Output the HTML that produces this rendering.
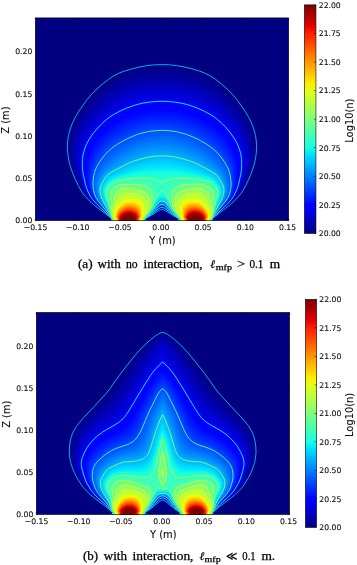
<!DOCTYPE html><html><head><meta charset="utf-8"><title>Plume density</title><style>html,body{margin:0;padding:0;background:#fff}svg{display:block}.tk{font:7.7px "DejaVu Sans","Liberation Sans",sans-serif;fill:#111;stroke:#111;stroke-width:.12px}.lb{font:9.9px "DejaVu Sans","Liberation Sans",sans-serif;fill:#111;stroke:#111;stroke-width:.12px}.cp{font:12.2px "Liberation Serif","DejaVu Serif",serif;fill:#000;stroke:#000;stroke-width:.25px}.el{font-style:italic;font-family:"DejaVu Serif","Liberation Serif",serif;font-size:11.5px}.sb{font-size:8.6px}</style></head><body><svg width="357" height="565" viewBox="0 0 357 565"><rect width="357" height="565" fill="#fff"/>
<g shape-rendering="geometricPrecision">
<rect x="35.3" y="17.9" width="253.4" height="202.7" fill="#000080"/>
<path fill="#00008d" d="M111.6 220.6l33.6 0 0-2 0.3-0.2 5.1-2.8 8.4-5.3 1.5-0.7 1.5-0.2 1.5 0.2 1.5 0.7 8.4 5.3 5.1 2.8 0.3 0.2 0 2 33.6 0 0-2 0.2-0.2 18.1-14.3 4.2-4 4.5-5 1.8-2.5 1.8-3 3.8-7.5 3.6-8.5 2.6-8.1 1.5-7 0.7-6.5 0-7-0.7-6.5-1.4-6-2.6-7-2.9-6-3.5-5.8-6.5-9.2-5-6.2-5.5-5.7-6.5-5.7-7.5-5.6-3.5-2.1-3.5-2-3-1.3-3.5-1.4-9.1-2.6-10-2.3-9.5-1.2-10-0.4-5 0.2-5 0.4-9 1.3-9.5 2.2-9.1 2.8-3.5 1.4-3 1.5-7 4.2-7.5 5.7-7 6.4-3.3 3.4-3 3.5-7.2 9.7-4.4 6.8-3.6 7-2.8 7.5-1 3.5-0.6 3-0.8 7 0.2 7.5 1 7.5 2 8 2.9 8.1 4.8 10.5 2 3.5 1.9 3 4.6 5.5 4.6 4.5 3.6 3 9.6 7.3 5.5 4.5 0.2 0.2 0 2z"/>
<path fill="#000096" d="M111.6 220.6l33.6 0 0-2 0.3-0.2 5.9-3.3 7.1-4.7 2-0.9 1.5-0.3 1.5 0.3 2 0.9 7.1 4.7 5.9 3.3 0.3 0.2 0 2 33.6 0 0-2 0.2-0.2 16.7-13.3 3.3-3 3.4-3.5 4-5 3-5 4.6-10 3.2-8.5 1.9-7.1 1-6.5 0.4-6.5-0.4-7-1-6-1.7-5.5-2.7-6.5-3.2-6-4.5-6.7-6.3-8.3-4.7-5.3-5.5-5.3-7-5.7-7-4.7-6.5-3.5-7-2.6-11.1-3-10-1.8-5-0.5-5-0.3-10 0.2-9 0.9-9 1.7-10.1 2.8-4 1.4-3.5 1.4-3.5 1.8-3.5 2.1-7.5 5.2-7.5 6.4-6 6.2-6 7.5-6.1 8.6-3.9 7-2.9 7-1.9 6.5-0.6 3.5-0.4 3.5-0.1 7.5 0.8 7.5 1.7 7.5 2.8 8.6 4.7 10.5 1.8 3.5 1.8 3 4.4 5.5 4.4 4.5 3.5 3 10 7.7 5.7 4.8 0 2z"/>
<path fill="#00009f" d="M111.7 220.6l33.5 0 0-2 0.3-0.2 5.8-3.3 7.7-5.1 1.5-0.7 1.5-0.3 1.5 0.3 1.5 0.7 7.7 5.1 5.8 3.3 0.3 0.2 0 2 33.5 0 0-2 0.3-0.2 5.5-4.6 10.3-8.2 3.4-3 2.5-2.5 4.5-5.5 2.9-4.5 3.8-8 3.5-9 2-7.1 1.3-6.5 0.5-6.5-0.2-7-0.8-6-1.5-5.5-2.4-6-3-6-3.8-6-5.5-7.4-5-5.9-5-5.1-7-5.9-7-4.9-7-4-7-2.9-9.6-2.8-10-1.9-9.5-1.1-10-0.1-9 0.7-9.5 1.5-10.1 2.6-4 1.3-4 1.6-7 3.5-7.5 5-7 5.6-6.5 6.3-6 7.1-6 8.3-4 6.8-3.3 7.2-2 6.5-0.7 3.5-0.5 3.5-0.2 7.5 0.7 7.5 1.6 7.5 2.6 8.1 4.4 10.5 1.8 3.5 1.8 3 4.3 5.5 4.3 4.5 3.5 3 9.7 7.7 5.8 4.8 0 2z"/>
<path fill="#0000a8" d="M111.7 220.6l33.4 0 0-2 0.4-0.3 5.6-3.2 7.9-5.2 1.5-0.7 1.5-0.4 1.5 0.4 1.5 0.7 7.9 5.2 5.6 3.2 0.4 0.3 0 2 33.4 0 0-2 0.3-0.3 6-5.1 9.5-7.6 4.9-4.5 5-6 2.9-4.5 2.9-6 3.7-9.5 2.2-7.1 1.3-6.5 0.6-6.5-0.1-6.5-0.7-6-1.4-5.5-2-5.5-2.9-6-3.4-5.5-4.5-6.3-5.5-6.6-5-5.2-6.5-5.7-7.5-5.4-7-4-7-3.1-4.6-1.5-4.5-1.2-10-2.1-9.5-1.1-9.5-0.3-9.5 0.6-9.5 1.5-9.5 2.3-8.1 2.8-7 3.4-7.5 4.7-7 5.4-6.5 6.2-6 6.8-6 8-4.1 6.8-3.3 7-2.1 6.5-0.8 3.5-0.4 3.5-0.3 7.5 0.5 7 1.6 7.5 2.3 7.6 4.5 11 1.5 3 1.8 3 4.2 5.5 4.2 4.5 3.5 3 9.4 7.6 5.8 4.9 0 2z"/>
<path fill="#0000b2" d="M111.7 220.6l33.4 0 0-2 0.4-0.3 5.5-3.2 8-5.4 1.5-0.7 1.5-0.3 1.5 0.3 1.5 0.7 8 5.4 5.5 3.2 0.4 0.3 0 2 33.4 0 0-2 0.3-0.3 5-4.3 10.3-8.4 3.3-3 4.1-4.5 4-5.5 2.6-5 2.9-7 2.8-8 1.7-7.1 1-7 0.2-6.5-0.6-6-1.1-5.5-1.7-5.2-2.5-5.6-3.1-5.7-3.9-5.7-5-6.3-5-5.5-6.5-6-7-5.2-7.5-4.6-7.5-3.5-4-1.5-4.6-1.4-9-2-9-1.3-9.5-0.5-9.5 0.3-9.5 1.2-9.5 2.1-8.6 2.7-7.5 3.4-7.5 4.4-7 5.1-6.5 5.8-6 6.5-6 7.7-4.3 6.8-3.5 7-2.3 6.5-1.3 6.5-0.3 3.5-0.2 4 0.5 7 1.2 7 2.2 7.6 4.2 11 1.4 3 1.7 3 4 5.5 4.1 4.5 3.3 3 10.3 8.4 5.3 4.6 0 2z"/>
<path fill="#0000bb" d="M111.8 220.6l33.2 0 0-2 0.5-0.3 5.4-3.2 8.1-5.5 1.5-0.8 1.5-0.3 1.5 0.3 1.5 0.8 8.1 5.5 5.4 3.2 0.5 0.3 0 2 33.2 0 0-2 5.4-4.7 10-8.3 3.3-3 3.6-4 4-5.5 1.4-2.5 1.5-3 3.7-10 2.2-7 1.4-7.1 0.6-7-0.2-6.5-1.1-6.5-1.9-6.5-3-6.5-3.8-6.5-4.8-6.5-5.9-6.8-6-5.9-7-5.5-7.5-4.7-7.5-3.8-8.1-2.9-8.5-2.2-9-1.6-9.5-0.7-9.5 0.1-9.5 1-9.5 1.8-8.6 2.6-7.5 3.1-7.5 4-7.5 5.2-6.5 5.5-6 6.1-6 7.4-4.6 6.8-3.6 7-2.5 6.5-1.4 6.5-0.6 7 0.3 7 1.1 7 2.1 7.6 4 11 1.4 3 1.6 3 3.9 5.5 4 4.5 3.3 3 10 8.3 5.4 4.7 0 2z"/>
<path fill="#0000c4" d="M111.8 220.6l33.2 0 0-2 5.8-3.5 8.2-5.7 1.5-0.8 1.5-0.3 1.5 0.3 1.5 0.8 8.2 5.7 5.8 3.5 0 2 33.2 0 0-2 17.8-15.5 3.8-4 3.9-5.5 2.5-4.5 2.1-5.5 3.3-10 1.8-7.6 0.7-7-0.1-6.5-0.9-6.5-1.6-6-2.5-6-3.4-6.1-4.4-6.4-5.1-6.2-6-6.1-6.5-5.5-7.5-5-7.5-4.1-7.5-3-8.6-2.5-9-1.8-9.5-1-9.5-0.1-9.5 0.8-9.5 1.6-8.5 2.3-8.1 3.1-7.5 3.8-7.5 4.8-6.5 5.2-6 5.9-6 7.1-4.8 6.7-3.8 7-2.6 6.5-1.6 6.5-0.7 7 0.2 7 1 7 1.9 7.1 3.8 11 1.3 3 1.6 3 3.8 5.5 3.9 4.5 3.3 3 9.7 8.2 5.4 4.8 0 2z"/>
<path fill="#0000cd" d="M111.8 220.6l33.2 0 0-2 5.7-3.5 8.3-5.9 1.5-0.7 1.5-0.4 1.5 0.4 1.5 0.7 8.3 5.9 5.7 3.5 0 2 33.2 0 0-2 17.5-15.5 3.7-4 2.8-4 2.7-4.5 1.9-4.5 3.5-10.5 1.7-7.1 0.9-6.5 0.1-6.5-0.7-6.5-1.4-6-2.3-5.9-3-5.8-3.8-5.8-4.7-6-6-6.5-6-5.3-7-5-8-4.5-8-3.4-8.1-2.6-8.5-1.8-9-1.2-9.5-0.3-9.5 0.5-9 1.3-9 2.2-8.1 2.8-8 3.8-7.5 4.6-3.5 2.5-3.5 2.8-6 5.6-6 6.9-5 7-3.8 6.6-2.5 6-1.7 6.6-0.9 6.9 0.1 7 1 7 1.8 7.1 3.6 11 1.3 3 1.4 2.5 3.6 5.5 4 4.5 3.1 3 9.5 8.1 5.4 4.9 0 2z"/>
<path fill="#0000d6" d="M111.9 220.6l33 0 0.1-2 6.3-4 7.7-5.5 1.5-0.8 1.5-0.4 1.5 0.4 1.5 0.8 7.7 5.5 6.3 4 0.1 2 33 0 0-2 16.8-15 3.3-3.5 2.6-3.5 3.1-5 2-4.5 3.1-10 1.7-6.5 1-6.6 0.2-6-0.5-6-1.2-6-1.8-5.5-2.6-5.5-3.4-5.5-4.3-5.8-6-6.8-6-5.6-6.5-4.8-7.5-4.5-8-3.7-8.1-2.8-8.5-2.1-9-1.3-9-0.5-9.5 0.3-9 1.1-9 1.9-8.6 2.8-8 3.6-7.5 4.2-7 5-6 5.4-6 6.6-5 6.6-2.2 3.4-2 3.5-1.4 3-1.4 3.5-1.7 6-1 6.5-0.1 3.5 0.1 3.5 0.7 6.5 1.6 7.1 3.4 11 1.2 3 1.6 3 3.5 5.5 3.4 4 3.1 3 10.2 8.9 5 4.6 0 2z"/>
<path fill="#0000df" d="M111.9 220.6l33 0 0.1-2.1 6.2-3.9 7.8-5.7 1.5-0.8 1.5-0.3 1.5 0.3 1.5 0.8 7.8 5.7 6.2 3.9 0.1 2.1 33 0 0-2 16.5-15 3.3-3.5 2.2-3 3.3-5.5 1.8-4 2.8-9.5 1.4-5.5 1-6.1 0.4-6.5-0.3-5.5-1.1-6-1.7-5.5-2.2-5-3.2-5.5-3.7-5.2-5.5-6.5-6-5.9-6-4.7-7-4.3-8-4-8.1-3.1-8.5-2.3-9-1.6-9-0.7-9.5 0.2-9 0.9-9 1.8-8.6 2.6-8 3.3-8 4.3-7 4.8-6 5.2-6 6.4-5.3 6.8-4 6.5-2.8 6-1 3-0.9 3.4-1 6.6-0.2 6.5 0.7 6.5 1.5 7.1 3.3 11 1.2 3 1.3 2.5 3.4 5.5 3.3 4 3.1 3 9.9 8.8 5 4.7 0 2z"/>
<path fill="#0000e8" d="M111.9 220.6l32.9 0 0-2 0.2-0.1 6.1-3.9 7.9-5.8 1.5-0.9 1.5-0.3 1.5 0.3 1.5 0.9 7.9 5.8 6.1 3.9 0.2 0.1 0 2 32.9 0 0-2 16.2-15 2.8-3 2.3-3 3.4-6 1.6-3.5 1.1-3.5 2.6-10 1.1-6.1 0.5-6-0.2-5.5-0.9-5.8-1.4-5.2-2.1-5-3-5.5-3.5-5.1-5.5-6.7-6.2-6.2-5.7-4.5-6.6-4.2-8-4-8.1-3.2-8.5-2.4-9-1.6-9-0.8-9.5 0.1-9 0.9-8.5 1.6-8.5 2.6-8.1 3.2-8 4.2-7 4.6-6 5.1-6 6.3-5.2 6.6-4.1 6.5-2.8 6-1.8 6-1 6.5-0.2 6.5 0.7 6.6 1.5 7 2.7 10 1.2 3 1.6 3 2.9 5 3.3 4 3 3 9.2 8.2 5.5 5.3 0 2z"/>
<path fill="#0000f1" d="M112 220.6l32.8 0 0-2 0.2-0.1 6-3.9 8-6 1.5-0.9 1.5-0.3 1.5 0.3 1.5 0.9 8 6 6 3.9 0.2 0.1 0 2 32.8 0 0-2 16-15 2.8-3 2.3-3 3.2-6 1.6-3.5 0.9-3 2-8 1.2-6 0.5-5.6 0-6-0.7-5.5-1.3-5.5-1.9-4.9-2.6-5.1-3.4-5.1-5.5-6.8-6-6.1-5.5-4.6-6-3.9-8-4.2-8.6-3.4-8.5-2.5-8.5-1.6-9-0.9-9 0-9 0.7-8.5 1.6-8.5 2.3-8.1 3.2-8 4-4 2.3-3.5 2.4-6 5-6 6.2-5 6.3-4 6.3-2.8 5.8-1.9 6-1.1 6.5-0.2 6.5 0.3 4 0.6 4.1 2.9 12.5 1.5 4.5 3.1 6 2.2 3.5 3.5 4 16.5 15.5 0 2z"/>
<path fill="#0000fa" d="M112 220.6l32.8 0 0-2 0.2-0.2 5.9-3.8 8.1-6.2 1.5-0.9 1.5-0.3 1.5 0.3 1.5 0.9 8.1 6.2 5.9 3.8 0.2 0.2 0 2 32.8 0 0-2 15.2-14.5 4.5-5 1.9-3 2.7-5.5 1.2-3 0.8-3 2.1-9.5 0.9-5.6 0.2-6-0.3-5.5-1.2-6-1.8-5.5-2.6-5.2-3.5-5.6-4.9-6.2-5.6-5.8-6-5.1-5.5-3.7-8-4.2-8.6-3.6-8.5-2.6-8.5-1.7-9-0.9-9-0.1-8.5 0.7-8.5 1.4-8.5 2.4-8.1 3-8 3.9-7 4.3-6 4.8-6 6-5.1 6.2-2.4 3.4-1.9 3.1-2.7 5.5-1.1 3-0.9 3.5-1.1 6-0.2 6.5 0.2 4 0.5 3.6 2.7 12.5 1.6 4.5 2.9 6 2.3 3.5 3.1 3.5 16.2 15.5 0 2z"/>
<path fill="#0000ff" d="M112 220.6l32.7 0 0-2 0.3-0.2 5.8-3.8 8.2-6.4 1.5-0.9 1.5-0.3 1.5 0.3 1.5 0.9 8.2 6.4 5.8 3.8 0.3 0.2 0 2 32.7 0 0-2 14.9-14.5 4.4-5 1.9-3 2.4-5 1.2-3 0.7-2.5 1.9-9.5 0.8-5.5 0.3-5.6-0.4-5.5-1-5.5-1.8-5.5-2.3-5-3.1-5-4.8-6.2-5.5-5.8-6-5.2-5.5-3.8-8-4.3-8-3.4-8.6-2.6-8.5-1.8-8.5-1-9-0.2-8.5 0.6-8.5 1.4-8.5 2.3-8.1 2.9-8 3.8-7 4.2-6 4.8-6 5.8-5 6-4 6-2.8 5.5-2 6-1.2 6-0.4 6.5 0.2 3.5 0.4 4.1 2.4 12 1.3 4 3 6.5 2.3 3.5 3 3.5 15.9 15.5 0 2z"/>
<path fill="#0000ff" d="M112.1 220.6l32.6 0 0-2 0.3-0.2 6.3-4.3 7.7-6 1.5-1 1.5-0.3 1.5 0.3 1.5 1 7.7 6 6.3 4.3 0.3 0.2 0 2 32.6 0 0-2 15.2-15 2.3-2.5 1.9-2.5 1.5-2.5 2.5-5.5 1.7-5 1.6-9 0.7-5.5 0.1-5.1-0.4-5.5-1-5-1.7-5.5-2.2-4.6-2.9-4.9-4.6-6-5.5-5.8-6-5.1-5.5-3.8-7.5-4.1-8.6-3.6-8-2.5-8.5-1.8-8.5-1-8.5-0.2-8.5 0.6-8.5 1.3-8 2.1-8.1 2.9-8 3.7-7 4.2-6 4.6-5.5 5.2-5 5.8-4.2 6-2.8 5.5-2.2 6-1.2 6-0.4 6.5 0.1 3.6 0.3 3.5 2 11.5 1.3 4 2.9 6.5 2.2 3.5 3 3.5 15.7 15.5 0 2z"/>
<path fill="#0004ff" d="M112.1 220.6l32.5 0 0-2 0.4-0.3 6.2-4.2 7.8-6.2 1.5-1 1.5-0.3 1.5 0.3 1.5 1 7.8 6.2 6.2 4.2 0.4 0.3 0 2 32.5 0 0-2 14.9-15 4.1-5 2-3.5 2.3-5.5 1.1-3.5 1.3-8 0.7-5.5 0.1-5.1-0.4-5-0.9-5-1.5-5-2.2-5-2.8-4.8-4.3-5.7-5.2-5.5-6-5.3-6-4.2-7.5-4-8.1-3.4-8-2.6-8-1.7-8.5-1.1-8.5-0.2-8.5 0.5-8 1.2-8 2-8.1 2.9-7.5 3.4-7 4-6 4.4-5.6 5.1-4.9 5.5-4.3 6-3 5.5-2.2 6.1-1.3 5.9-0.5 6.5 0.3 6.6 1.6 10.5 1.3 4.5 2.8 6.5 1.8 3 2.9 3.5 15.8 16 0 2z"/>
<path fill="#000cff" d="M112.1 220.6l32.5 0 0-2 0.4-0.3 6.1-4.2 8.4-6.8 1.5-0.8 1-0.1 1 0.1 1.5 0.8 8.4 6.8 6.1 4.2 0.4 0.3 0 2 32.5 0 0-2 14.6-15 4.1-5 1.9-3.5 2.2-5.5 0.9-3 0.7-4 1-9 0.1-5.1-0.3-4.5-1-5-1.5-4.9-2-4.6-2.5-4.4-4.1-5.6-5.4-5.8-6-5.2-6-4.2-7-3.8-8.1-3.5-8-2.6-8-1.8-8-1-8.5-0.3-8 0.5-8 1.1-8 2-8.1 2.7-7.5 3.4-7 3.9-6 4.4-5.5 4.9-5 5.4-4 5.5-3 5.5-2.3 5.9-1.4 6-0.6 6.5 0.2 6.6 1.3 9.5 1 4 2.8 7 1.9 3 2.8 3.5 15.5 16 0 2z"/>
<path fill="#0014ff" d="M112.2 220.6l32.4 0 0-2 0.4-0.3 6-4.2 8.5-7 1.5-0.8 1-0.2 1 0.2 1.5 0.8 8.5 7 6 4.2 0.4 0.3 0 2 32.4 0 0-2 14.4-15 4-5 1.9-3.5 2.1-5.5 0.9-3 0.7-4.5 0.7-8 0-4.6-0.5-4.5-0.9-4.6-1.5-4.7-2-4.6-2.3-4.1-4.2-5.8-5-5.3-6-5.2-6-4.1-7-3.9-8.1-3.4-7.5-2.5-8-1.8-8-1.1-8-0.3-8 0.4-8 1.2-8 1.9-7.6 2.5-7.5 3.4-7 3.9-6 4.2-5.5 4.8-5 5.3-3.9 5.3-3.1 5.6-2.3 5.9-1.5 6-0.6 6.1 0.2 6.5 0.9 8.5 1 4 2.7 7 1.8 3 2.8 3.5 15.3 16 0 2z"/>
<path fill="#001cff" d="M112.2 220.6l32.3 0 0-2 7-5 8-6.7 1.5-0.8 1-0.2 1 0.2 1.5 0.8 8 6.7 7 5 0 2 32.3 0 0-2 14.1-15 3.9-5 2-3.5 2.6-8 0.7-4 0.5-7 0-5-0.5-4.6-0.9-4.5-1.4-4.5-2-4.5-2.2-3.9-4-5.7-5-5.4-5.5-4.7-6.5-4.5-7-3.9-7.6-3.3-7.5-2.5-8-1.8-8-1.1-8-0.3-8 0.4-7.5 1.1-7.5 1.7-7.5 2.5-7.6 3.3-7 3.9-6 4.1-5.5 4.7-4.5 4.6-4 5.3-3.2 5.5-2.5 6-1.6 6-0.7 6.1 0.1 6.5 0.7 7.5 1.1 4.5 2.4 6.5 1.8 3 2.8 3.5 14.9 16 0 2z"/>
<path fill="#0024ff" d="M112.2 220.6l32.3 0 0-2 6.9-5 8.1-6.9 1.5-0.8 1-0.2 1 0.2 1.5 0.8 8.1 6.9 6.9 5 0 2 32.3 0 0-2 13.7-15 4-5 1.9-3.5 2.5-8 0.6-4 0.3-5.5-0.1-5-0.4-4.6-0.9-4-1.3-4.2-1.8-4.3-2.2-4.1-4-5.8-4.5-4.9-5.5-4.8-6-4.3-7-4-7.6-3.4-7.5-2.6-8-1.9-7.5-1.1-8-0.4-7.5 0.2-8 1.1-7.5 1.7-7.5 2.4-7.1 3-7 3.8-6 4-5.5 4.4-4.7 4.7-3.9 5-3.4 5.6-2.6 5.9-1.7 6-0.8 6.1-0.1 6.5 0.5 6.5 1.1 4.5 2.3 6.5 1.8 3 2.7 3.5 14.6 16 0 2z"/>
<path fill="#002cff" d="M112.3 220.6l32.1 0 0.1-2 6.8-5 8.2-7.1 1.5-0.8 1-0.2 1 0.2 1.5 0.8 8.2 7.1 6.8 5 0.1 2 32.1 0 0-2 13.5-15 3.9-5 1.9-3.5 2.1-7 0.7-4 0.2-4-0.1-6-0.4-4.6-0.9-3.9-1.1-3.6-1.6-4-2.1-4-3.7-5.5-4.3-5-5.2-4.7-6-4.4-7-4.1-7.5-3.5-7.6-2.7-8-2.1-7.5-1.1-8-0.5-7.5 0.2-7.5 1-7.5 1.6-7 2.2-7.1 2.9-7 3.7-6.5 4.2-5.5 4.3-4.5 4.4-3.8 4.6-3.4 5.5-2.8 6-1.9 6-0.9 6.1-0.1 6.5 0.3 5.5 1 4.5 1.9 6 1.7 3 2.6 3.5 14.8 16.5 0 2z"/>
<path fill="#0034ff" d="M112.3 220.6l32.1 0 0.1-2.1 7.2-5.4 7.8-6.8 1.5-0.9 1-0.2 1 0.2 1.5 0.9 7.8 6.8 7.2 5.4 0.1 2.1 32.1 0 0-2 13.6-15.5 3.4-4.5 1.9-3.5 1.8-6 0.7-3.5 0.3-3.5-0.1-5.5-0.5-5-0.7-3.6-1.2-4-1.5-3.5-1.8-3.6-3.5-5.5-4-5-4.6-4.4-5.9-4.4-7-4.3-7.5-3.7-7.6-2.9-7.5-2.1-7.5-1.3-7.5-0.7-7.5 0.1-7.5 0.8-7.5 1.5-7 2-7.1 2.8-7 3.5-6.5 4-5.5 4-4.5 4.1-4 4.6-4 6-3 6-1.9 5.5-1 6.1-0.4 6 0.2 5 0.8 4.5 2 6.5 1.7 3 2.5 3.5 14.5 16.5 0 2z"/>
<path fill="#003cff" d="M112.3 220.6l32.1 0 0.1-2.1 7.1-5.4 7.9-7.1 1.5-0.8 1-0.2 1 0.2 1.5 0.8 7.9 7.1 7.1 5.4 0.1 2.1 32.1 0 0-2 14.9-17.5 2.9-4.5 0.7-1.5 0.7-2 1.2-5 0.5-3.5 0.1-3.5-0.3-5-0.5-4-0.9-4.1-1.4-3.8-1.7-3.7-3.3-5.5-4.1-5.5-4.4-4.4-5-4-7-4.5-7.5-4-7.6-3.1-7.5-2.3-7.5-1.5-7.5-0.8-7-0.1-7.5 0.6-7 1.2-7 1.9-7 2.6-7.1 3.3-6.5 3.7-6 4.1-4.5 3.8-4.2 4.5-4.3 6.1-3.3 5.9-2.1 5.5-0.7 3.1-0.5 3-0.5 6 0.1 4.5 0.8 5 1.1 4 0.7 2 1.7 3 2.5 3.5 14.1 16.5 0 2z"/>
<path fill="#0044ff" d="M112.4 220.6l31.9 0 0-2 0.2-0.2 7.6-5.8 7.4-6.8 1.5-0.8 1-0.2 1 0.2 1.5 0.8 7.4 6.8 7.6 5.8 0.2 0.2 0 2 31.9 0 0-2 14.3-17 2.7-4 1.6-3.5 1.1-4.5 0.6-3.5 0.2-3-0.1-3-0.4-4.5-0.8-4-1.2-4.1-1.5-3.5-3.5-6.1-4-5.5-4-4.4-4.5-3.8-6.5-4.3-7.5-4.2-7.6-3.4-7.5-2.5-7-1.6-7.5-1-7-0.3-7 0.4-7.5 1.1-7 1.7-6.5 2.2-7.1 3.2-7 3.8-6 3.8-5 4-3.8 3.9-4.6 6-3.6 6-2.4 5.5-1.3 5.6-0.7 5.5-0.1 4.5 0.7 5 1.6 6 1.8 3.5 2.5 3.5 13.9 16.5 0 2z"/>
<path fill="#004cff" d="M112.4 220.6l31.9 0 0-2 0.2-0.2 7.4-5.8 7.6-7 1.5-0.9 1-0.2 1 0.2 1.5 0.9 7.6 7 7.4 5.8 0.2 0.2 0 2 31.9 0 0-2 13.9-17 2.7-4 1.5-3.5 1.5-7 0.3-3-0.1-2.5-0.5-4.5-0.7-4-1.1-3.7-1.4-3.4-3.1-5.4-4-5.5-4.5-5-4-3.5-6.5-4.4-7.5-4.2-7.6-3.4-7-2.4-7-1.7-7-1-7-0.4-6.5 0.3-7.5 0.9-6.5 1.4-6.5 2.1-7.1 3-6.5 3.4-6.5 3.9-5 3.7-4 3.8-5 6.1-4 6.2-2.4 5.1-1.5 5.6-0.8 5.5-0.2 4.5 0.7 5 1.4 5.5 1.8 3.5 2.5 3.5 13.5 16.5 0 2z"/>
<path fill="#0054ff" d="M112.5 220.6l31.7 0 0-2 0.3-0.2 7.9-6.3 7.1-6.8 1.5-0.8 1-0.2 1 0.2 1.5 0.8 7.1 6.8 7.9 6.3 0.3 0.2 0 2 31.7 0 0-2 13.7-17 2.5-4 1.6-3.5 1.3-6.5 0.2-5-0.4-4-0.8-4-0.8-3-1.2-3.1-2.5-4.6-4-5.6-4.6-5.3-4.4-4-6-4.2-7.5-4.2-7.1-3.3-7-2.6-6.5-1.7-6.5-1.1-7.5-0.7-6 0.1-7.5 0.8-6.5 1.3-6.5 1.9-7 2.9-6.6 3.2-7 4.1-5 3.5-4 3.6-5 5.7-4.4 6.2-2.6 5.3-1.6 5.3-1 5.5-0.2 4 0.7 5.5 0.6 3 0.6 2 1.8 3.5 2.4 3.5 13.3 16.5 0 2z"/>
<path fill="#005cff" d="M112.5 220.6l31.7 0 0-2 0.3-0.3 7.7-6.2 7.3-7 1.5-0.9 1-0.1 1 0.1 1.5 0.9 7.3 7 7.7 6.2 0.3 0.3 0 2 31.7 0 0-2 13.3-17 2.5-4 1.6-3.5 1.1-6 0.2-5-0.3-3-0.8-4-0.9-3-1.1-3-2.5-4.6-4-5.4-5-5.5-4.5-4-6-4.1-7-3.9-7.1-3.3-7-2.6-6.5-1.7-6.5-1.1-7-0.5-6 0.1-7 0.7-6.5 1.2-6.5 1.9-6.5 2.6-7.1 3.4-6.5 3.8-5.5 3.9-4 3.6-5 5.5-2.5 3.2-1.8 2.7-2.6 5.1-1.6 5.1-0.9 4.9-0.2 4 0.5 5.5 1.2 4.5 1.7 3.5 2.4 3.5 12.9 16.5 0 2z"/>
<path fill="#0064ff" d="M112.5 220.6l31.6 0 0-2 0.4-0.3 7.6-6.2 7.4-7.3 1.5-0.8 1-0.2 1 0.2 1.5 0.8 7.4 7.3 7.6 6.2 0.4 0.3 0 2 31.6 0 0-2 13-17 2.4-4 1.5-3.5 0.6-2.5 0.4-3 0.2-5-1-5.9-0.9-3.1-0.9-2.5-2.4-4.6-3.3-4.5-5.5-6-5-4.4-5.5-3.8-7-4-7.1-3.3-6.5-2.5-6-1.7-6.5-1.1-6.5-0.7-6.5 0-7 0.7-6.5 1.1-6 1.7-6.5 2.5-7.1 3.3-6.5 3.6-5.5 3.8-4.5 3.9-5.5 5.7-4 5.2-2.5 4.6-1 2.6-0.8 2.9-1 5-0.2 3.5 0.5 5.5 1 4 1.7 3.5 2.3 3.5 12.6 16.5 0 2z"/>
<path fill="#006cff" d="M112.6 220.6l31.5 0 0-2 8.4-7 6.5-6.6 1.5-1.1 1.5-0.3 1.5 0.3 1.5 1.1 6.5 6.6 8.4 7 0 2 31.5 0 0-2 12.7-17 2.4-4 1.5-3.5 0.9-5 0.1-5-0.9-5-1.7-5.5-2.4-4.6-3.4-4.5-5-5.2-5.5-4.8-5.5-3.9-6.5-3.7-7.1-3.3-6.5-2.5-6-1.7-6.5-1.2-6.5-0.6-6.5 0-6.5 0.6-6.5 1.1-6 1.7-6.5 2.4-7.1 3.2-6.5 3.7-5.5 3.8-5 4.2-5.5 5.6-3.5 4.5-2.5 4.6-1.7 5.1-1 4.5-0.2 3.5 0.4 5 1 4 1.4 3 2.1 3.5 12.7 17 0 2z"/>
<path fill="#0074ff" d="M112.6 220.6l31.5 0 0-2 8.2-7 6.7-6.9 1.5-1 1.5-0.4 1.5 0.4 1.5 1 6.7 6.9 8.2 7 0 2 31.5 0 0-2 12.3-17 2.1-3.5 1.6-3.5 0.5-2 0.4-2.5 0.1-5-0.7-4.5-1.8-5.5-2.2-4.5-3.1-4.2-5-5-6-5.1-5.5-3.8-6.5-3.8-6.6-3-6.5-2.5-6-1.7-6.5-1.2-6.5-0.6-6-0.1-6.5 0.6-6 1-6 1.5-6.5 2.4-7.1 3.1-6.5 3.7-6 4.1-5.5 4.5-5 4.8-3.4 4.2-2.3 4.1-1.8 5-1 4-0.4 4 0.4 4.5 0.9 4 1.4 3 2.1 3.5 12.3 17 0 2z"/>
<path fill="#007cff" d="M112.7 220.6l31.3 0 0-2 8.2-7 6.8-7.2 1.5-1 1.5-0.3 1.5 0.3 1.5 1 6.8 7.2 8.2 7 0 2 31.3 0 0-2 12.1-17 2-3.5 1.5-3.5 0.5-2 0.4-2.5 0-4.5-0.7-4-1.5-5-2.2-4.5-2.8-3.8-4.5-4.5-6.5-5.3-6-4.2-6-3.5-6.6-3.1-6.5-2.4-6-1.7-6-1.2-6.5-0.7-6-0.1-6.5 0.5-6 1-6 1.5-6 2.1-7.1 3.1-7 3.9-6 4-6.5 5.2-4.5 4.3-3 3.6-2.1 3.8-1.9 5-1 4-0.3 4 0.4 4.5 1 3.5 1.3 3 2.1 3.5 11.8 16.5 0 2z"/>
<path fill="#0084ff" d="M112.7 220.6l31.3 0 0-2 5.3-4.5 3.2-3 6.5-7 1.5-1 1.5-0.3 1.5 0.3 1.5 1 6.5 7 3.2 3 5.3 4.5 0 2 31.3 0 0-2 11.7-17 2-3.5 1.4-3.5 0.8-4 0.1-4-0.7-4-1.5-4.8-2-4.3-1.3-1.9-1.6-2.1-3.6-3.5-6-4.8-6.5-4.6-6-3.5-6.6-3.1-7-2.7-6-1.7-6-1.2-6-0.6-6.5-0.1-6 0.4-6 0.9-6 1.5-6 2-7.6 3.3-6.5 3.6-6.5 4.3-7 5.5-4 3.7-2.6 3.2-1.9 3.5-2 5-1 4-0.2 3.5 0.3 4 0.9 3.5 1.4 3 1.7 3 11.7 17 0 2z"/>
<path fill="#008cff" d="M112.8 220.6l31.1 0 0-2 8.5-7.5 6.6-7.3 1.5-1 1.5-0.3 1.5 0.3 1.5 1 6.6 7.3 8.5 7.5 0 2 31.1 0 0-2 11.5-17 1.6-3 1.3-3 0.9-3.5 0.3-4-0.4-3.5-1.2-4-1.8-4.5-2.1-3.5-2.7-3.1-3.5-3-8-5.9-7-4.4-6.6-3.4-7.5-3-6-1.9-6-1.3-6-0.7-6.5-0.3-6 0.3-6 0.8-6 1.4-6 1.9-7 2.8-7.1 3.6-7 4.5-8 6-3.5 3.1-2.5 3-2 3.5-1.8 4.6-1.1 4-0.3 3.5 0.3 3.5 0.9 3.5 1.3 3 1.6 3 11.5 17 0 2z"/>
<path fill="#0094ff" d="M112.8 220.6l31.1 0 0-2 8.3-7.5 6.8-7.6 1.5-1 1.5-0.2 1.5 0.2 1.5 1 6.8 7.6 8.3 7.5 0 2 31.1 0 0-2 3.7-5.5 7.4-11.5 1.6-3 1.1-2.5 1-3.5 0.3-3-0.3-3.5-0.9-3.5-2-5-1.6-3-2.4-3.1-3-2.7-8.5-6-7.5-4.8-6-3.1-7.1-2.8-6-1.9-6-1.4-6-0.9-6-0.3-6 0.1-6 0.7-6 1.2-6.5 1.9-7.5 3-6.6 3.3-7.5 4.6-8.5 6-3 2.6-2.5 2.9-1.8 3.2-1.9 4.5-1 3.5-0.5 3.5 0.2 3.5 0.9 3.5 1.3 3 1.6 3 7.4 11.5 3.7 5.5 0 2z"/>
<path fill="#009cff" d="M112.8 220.6l31 0 0-2 8.3-7.5 6.4-7.5 1.5-1.1 1-0.4 1-0.1 1 0.1 1 0.4 1.5 1.1 6.4 7.5 8.3 7.5 0 2 31 0 0-2 3.6-5.5 6.8-11 1.7-3 1-2.5 1.1-3.5 0.3-3-0.1-3-0.7-3-1.8-4.5-2-4-2-2.6-2.5-2.4-7.5-5.2-9-5.5-6-3.1-6.6-2.7-6-1.9-6-1.4-6-0.9-6-0.4-6 0.1-6 0.7-6 1.1-6.5 1.9-7 2.6-6.6 3.1-8 4.8-9 6-3 2.6-2 2.4-1.6 2.8-2.2 5-1 3.5-0.3 3 0.2 3.5 1 3.5 1 2.5 1.6 3 7.1 11.5 3.6 5.5 0 2z"/>
<path fill="#00a4ff" d="M112.9 220.6l30.9 0 0-2 5.5-5 3.1-3 6.1-7.3 1.5-1.2 1-0.3 1-0.1 1 0.1 1 0.3 1.5 1.2 6.1 7.3 3.1 3 5.5 5 0 2 30.9 0 0-2 3.6-5.5 6.6-11 1.3-2.5 1.1-2.5 1.1-3.5 0.4-3-0.1-3-0.7-3-2.3-5.2-1.8-3.3-1.7-2.3-2.5-2.2-8-5.3-9.5-5.5-5.6-2.7-6.5-2.5-6-1.8-6-1.3-6-0.8-6-0.3-6 0.2-6 0.7-6 1.2-6 1.8-6.5 2.4-6.1 2.8-9 5.2-8.5 5.5-2.5 2.1-2 2.4-1.5 2.6-2.4 5.3-0.9 3-0.3 3.5 0.3 3 1 3.5 1 2.5 1.3 2.5 6.9 11.5 3.6 5.5 0 2z"/>
<path fill="#00acff" d="M112.9 220.6l30.8 0 0-2 5.5-5 3-3 5.8-7.2 1-0.9 1-0.7 1-0.4 1-0.1 1 0.1 1 0.4 1 0.7 1 0.9 5.8 7.2 3 3 5.5 5 0 2 30.8 0 0-2 3.5-5.5 6.3-11 2.2-4.5 1.1-3.5 0.5-3-0.1-3-0.6-2.5-1.2-3-3.2-6-1.6-2-2.4-2.2-8.5-5.2-9-5-5.1-2.4-6-2.2-6.5-2-6-1.3-5.5-0.7-6-0.3-6 0.1-6 0.7-6 1.2-6 1.6-6.5 2.3-5.6 2.5-9.5 5.2-8.5 5.2-2.5 2-2 2.4-3.9 7.6-0.9 3-0.3 3 0.3 3 0.9 3.5 1 2.5 1.3 2.5 6.6 11.5 3.5 5.5 0 2z"/>
<path fill="#00b4ff" d="M113 220.6l30.7 0 0-2 5.4-5 2.9-3 6-7.6 1-0.9 1-0.6 2-0.5 2 0.5 1 0.6 1 0.9 6 7.6 2.9 3 5.4 5 0 2 30.7 0 0-2 0.8-1 3.5-6 5.8-10.5 1.6-3.5 1-3.5 0.4-2.5 0-3-0.6-2.5-1-2.5-3.4-6.3-1.9-2.2-2.1-1.8-8.5-5-9.5-5-5.1-2.2-6-2.1-6.5-1.8-6-1.2-5.5-0.7-6-0.2-6 0.2-5.5 0.7-6 1.2-6.5 1.8-6 2.1-5.1 2.2-9.5 5-8.2 4.8-2.3 1.8-1.8 2.2-4.3 8-0.7 2.5-0.3 3 0.4 3 0.9 3.5 2.1 4.5 6.1 11 3.7 6 0 2z"/>
<path fill="#00bcff" d="M113 220.6l30.6 0 0-2 5.3-5 3-3 6.1-8 1-0.9 1-0.6 2-0.5 2 0.5 1 0.6 1 0.9 6.1 8 3 3 5.3 5 0 2 30.6 0 0-2 0.7-1 3.4-6 5.9-11 1.3-3 0.9-3.5 0.4-2.5 0-2.5-0.5-2.5-1.1-2.5-3.4-6-1.6-2-2.4-2.1-7.5-4.2-10-4.9-5.1-2.1-6-2.1-6.5-1.7-6-1.2-6-0.7-6-0.2-6 0.3-5.5 0.7-6 1.2-6.5 1.8-6 2.1-5.1 2.1-9.5 4.7-7.5 4.2-2 1.7-1.7 1.9-3.4 6-1 2-0.8 2.5-0.2 3 0.4 2.5 0.9 3.5 1.4 3.5 5.6 10.5 3.7 6.5 0.7 1 0 2z"/>
<path fill="#00c4ff" d="M113.1 220.6l30.5 0 0-2 8.1-8 6.3-8.4 1-0.9 1-0.6 2-0.4 2 0.4 1 0.6 1 0.9 6.3 8.4 8.1 8 0 2 30.5 0 0-2 0.8-1 3.3-6 5.6-11 1.2-3 1-3.5 0.3-2.5 0-2.5-0.5-2-1-2.5-3.6-6-1.7-2-2.2-1.9-6.5-3.5-10.5-4.8-5.6-2.2-6.5-2.1-6.5-1.6-6-1.1-6-0.5-6-0.1-6 0.3-5.5 0.7-6 1.3-6.5 1.8-5.5 1.8-6.1 2.6-8.5 3.9-6.5 3.5-2 1.6-1.5 1.8-3.7 6-1 2-0.7 2.5-0.2 2.5 0.3 2.5 0.9 3.5 1.4 3.5 5.6 11 3.3 6 0.8 1 0 2z"/>
<path fill="#00ccff" d="M113.2 220.6l30.3 0 0-2 5.7-5.5 2.8-3 6-8.3 2-1.5 2-0.5 2 0.5 2 1.5 6 8.3 2.8 3 5.7 5.5 0 2 30.3 0 0-2 0.8-1 3-5.5 5.6-11.5 1.2-3 0.8-3 0.4-2.5 0-2.5-0.4-2-1.1-2.7-3.7-5.8-1.8-2.1-2.5-1.9-6.5-3.2-10-4.3-6.1-2.2-6-1.8-6.5-1.5-6-1-6-0.5-6 0-6 0.3-5.5 0.8-6.5 1.3-6.5 1.8-6.1 2-7.5 3.1-7.5 3.4-4 2.1-2 1.6-1.5 1.6-3.8 6-1 2-0.6 2.5-0.2 2.5 0.4 2.5 0.9 3.5 1.2 3 5.6 11.5 3 5.5 0.8 1 0 2z"/>
<path fill="#00d4ff" d="M113.2 220.6l30.3 0 0-2 5.5-5.5 2.8-3 6-8.5 1.2-1.2 1-0.5 2-0.5 2 0.5 1 0.5 1.2 1.2 6 8.5 2.8 3 5.5 5.5 0 2 30.3 0 0-2 0.7-1 2.9-5.5 5.6-12 1-2.5 0.8-3 0.3-2.5 0-2.5-0.5-2-1.1-2.5-3.6-5.5-1.8-2-2.5-1.8-6-2.9-10.5-4.1-6.1-2-7-1.9-6.5-1.4-6-0.8-6-0.4-6 0.1-5.5 0.4-6 0.8-6.5 1.4-6.5 1.8-6.1 2-9 3.5-5 2.2-3 1.6-2 1.5-1.8 2-3.6 5.5-1 2-0.5 2-0.2 2.5 0.3 2.5 0.9 3.5 1 2.5 5.6 12 2.9 5.5 0.7 1 0 2z"/>
<path fill="#00dcfe" d="M113.3 220.6l30.1 0 0-2 5.5-5.5 2.7-3 5.9-8.7 2-1.8 1-0.4 1.5-0.3 1.5 0.3 1 0.4 2 1.8 5.9 8.7 2.7 3 5.5 5.5 0 2 30.1 0 0-2 0.8-1 2.8-5.5 6.3-14.5 0.6-2.5 0.5-3-0.1-2-0.4-2-1.3-3-3.3-4.8-2-2.1-2.5-1.8-5-2.3-10.5-3.8-7.1-2.2-7-1.7-6.5-1.3-6-0.7-6.5-0.3-6.5 0.1-6 0.5-6 1-6.5 1.3-6.5 1.8-14.6 5.1-4 1.7-2.5 1.4-2 1.6-1.5 1.7-3.3 4.8-1.2 2.5-0.5 2-0.1 2.5 0.5 3 0.6 2.5 6.3 14.5 2.8 5.5 0.8 1 0 2z"/>
<path fill="#00e4f8" d="M113.3 220.6l30 0 0-2 5.4-5.5 2.7-3 1.8-2.5 4.3-6.7 2-1.8 1-0.4 1.5-0.3 1.5 0.3 1 0.4 2 1.8 4.3 6.7 1.8 2.5 2.7 3 5.4 5.5 0 2 30 0 0-2 0.7-1 2.7-5.5 6-14.5 0.7-2.5 0.4-2.5 0-2-0.4-2-1.3-3-3.4-4.9-2-2-2.5-1.7-5-2.2-10.5-3.5-7.1-1.9-7-1.6-6.5-1.1-6.5-0.6-6.5-0.2-7 0.2-6 0.5-6.5 1-7 1.5-6.6 1.8-13 4.3-3 1.3-2 1.1-2 1.5-2 2.3-2.9 4.2-1.2 2.5-0.4 2-0.1 2 0.3 2.5 0.6 2.5 0.9 2.5 2.7 6 2.6 6.5 2.7 5.5 0.7 1 0 2z"/>
<path fill="#06ecf1" d="M113.4 220.6l29.9 0 0-2 5.3-5.5 3-3.5 5.9-9.3 2-1.7 1.5-0.6 1-0.2 1 0.2 1.5 0.6 2 1.7 5.9 9.3 3 3.5 5.3 5.5 0 2 29.9 0 0-2 0.8-1 2.6-5.5 5.9-15 0.5-2.5 0.3-2.5-0.1-2-0.3-1.5-1.4-3-3.3-4.5-2.5-2.3-2.5-1.5-4.5-1.7-11-3.3-7.1-1.8-7.5-1.4-6.5-0.9-6.5-0.4-8-0.1-7 0.3-6.5 0.7-6.5 1.1-7 1.5-7.1 2-10 3.2-2.5 1.1-2 1.2-2.5 2.3-2.3 3-1.6 2.5-0.9 2.5-0.3 1.5 0 2 0.4 2.5 0.6 2.5 3.1 7.5 2.6 7 2.6 5.5 0.8 1 0 2z"/>
<path fill="#0cf4eb" d="M113.4 220.6l29.8 0 0-2 5.3-5.5 2.9-3.5 2-3 3.1-5.5 1-1.4 2-1.8 1.5-0.6 1-0.1 1 0.1 1.5 0.6 2 1.8 1 1.4 3.1 5.5 2 3 2.9 3.5 5.3 5.5 0 2 29.8 0 0-2 0.7-1 2.5-5.5 2.5-7 3.1-8 0.5-2 0.3-2.5 0-2-0.3-1.5-1.3-3-3-4.1-2.5-2.3-3-1.8-4.5-1.6-11-3-7.6-1.6-8-1.3-6.5-0.6-7-0.2-10 0-7.5 0.5-7 0.9-7.5 1.4-6.1 1.4-9 2.5-3 1-2.5 1.1-2 1.3-1.5 1.3-2 2.2-2 2.9-1 2.1-0.6 2.4 0.1 3.5 0.8 3.5 3 7.5 2.5 7 2.5 5.5 0.7 1 0 2z"/>
<path fill="#13fce4" d="M113.5 220.6l29.7 0 0-2 5.6-6 2.4-3 2.2-3.5 2.7-5 1.4-2.1 2-1.8 1-0.4 1.5-0.3 1.5 0.3 1 0.4 2 1.8 1.4 2.1 2.7 5 2.2 3.5 2.4 3 5.6 6 0 2 29.7 0 0-2 0.7-1 2.5-5.5 2.4-7.4 3-8 0.4-2.1 0.2-2 0-2-0.4-1.5-1.3-3-2.4-3.2-3-2.7-3-1.7-4-1.3-11-2.8-6.6-1.2-7.5-1.1-5.5-0.5-5.5-0.2-15.5 0-7 0.4-7 0.8-7.5 1.2-5.6 1.2-9.5 2.5-3 1-2 1-2 1.4-1.5 1.5-1.9 2.2-1.5 2.5-0.8 2-0.4 2 0.1 3 0.8 3.5 2.7 7.1 2.4 7.4 2.5 5.5 0.7 1 0 2z"/>
<path fill="#19ffde" d="M113.6 220.6l29.5 0 0-2 5.5-6 2.8-3.5 1.8-3 2.5-5 1.3-2.2 1-1.2 1.5-1.3 1.5-0.6 1-0.1 1 0.1 1.5 0.6 1.5 1.3 1 1.2 1.3 2.2 2.5 5 1.8 3 2.8 3.5 5.5 6 0 2 29.5 0 0-2 0.8-1 2.3-5.5 2.3-7.5 2.9-8 0.4-2 0.2-2-0.4-3-1.3-3-2-2.9-3-2.7-3-1.7-4-1.3-9.5-2.2-6.1-1.1-7-0.9-5-0.4-5-0.2-11 0.2-11-0.2-5.5 0.2-7 0.7-7.5 1.1-14.1 3.2-2.5 0.9-2 1-1.7 1.3-1.8 1.6-1.5 1.8-1.3 2.1-0.9 2-0.4 2 0.1 3 0.6 3 2.7 7.5 2.3 7.5 2.3 5.5 0.8 1 0 2z"/>
<path fill="#1fffd7" d="M113.6 220.6l29.4 0 0-2 5.4-6 2.8-3.5 1.7-3 2.6-5.5 1.5-2.6 1-1.2 1.5-1.3 1.5-0.7 1-0.1 1 0.1 1.5 0.7 1.5 1.3 1 1.2 1.5 2.6 2.6 5.5 1.7 3 2.8 3.5 5.4 6 0 2 29.4 0 0-2 0.7-1 2.3-5.5 2.2-7.9 2.6-7.6 0.5-3.5 0-2-0.3-1.5-1.4-3-1.9-2.5-2.9-2.5-2.6-1.5-3.5-1.1-9-2-5.1-0.8-6-0.8-9.5-0.5-5 0.1-9.5 0.6-11-0.7-7.5 0.1-7 0.6-6 0.8-13.6 2.8-2.5 0.9-1.8 1-1.7 1.1-2 1.9-1.5 1.9-1.2 2.1-0.7 2-0.2 1.5 0.1 3 0.5 2.5 2.5 7.1 2.2 7.9 2.3 5.5 0.7 1 0 2z"/>
<path fill="#26ffd1" d="M113.7 220.6l29.3 0 0-2 5.7-6.5 2.9-4 1.6-3 2.3-5.4 1.5-2.7 1-1.3 1.5-1.4 1-0.5 1.5-0.3 1.5 0.3 1 0.5 1.5 1.4 1 1.3 1.5 2.7 2.3 5.4 1.6 3 2.9 4 5.7 6.5 0 2 29.3 0 0-2 0.7-1 2.2-5.5 2.1-8 2.4-7.5 0.5-3.5-0.3-3-1-2.5-1.7-2.5-2.6-2.4-2.5-1.6-2.5-0.9-3-0.8-8.5-1.6-6.6-0.8-7.5-0.6-5.5 0-5 0.4-7 1-2.5 0.2-2-0.1-9.5-1.3-4-0.2-4.5 0-6.5 0.5-6.1 0.7-12.5 2.4-2 0.7-2 1-2 1.4-1.6 1.5-1.3 1.5-1.1 2-0.8 2-0.3 1.5 0.1 3 0.5 2.5 2.3 7 2.1 8 2.2 5.5 0.7 1 0 2z"/>
<path fill="#2cffca" d="M113.8 220.6l29.1 0 0-2 5.6-6.5 2.9-4 1.7-3.5 2.6-6.5 1.8-3.1 1-1.3 1.5-1.3 1-0.5 1-0.2 1 0.2 1 0.5 1.5 1.3 1 1.3 1.8 3.1 2.6 6.5 1.7 3.5 2.9 4 5.6 6.5 0 2 29.1 0 0-2 0.8-1 2.1-5.5 1.8-8 2.4-8 0.4-3-0.4-3-1.1-2.5-1.6-2.2-2.5-2.2-2.5-1.5-2.5-0.9-2.5-0.6-8-1.4-5.6-0.6-8.5-0.5-6.5 0.3-5.5 0.8-6.5 2.1-2 0.3-2-0.3-5-1.7-4.5-0.9-5-0.5-6 0-5.5 0.3-5.6 0.6-9 1.5-2.5 0.6-2.1 0.8-1.9 0.9-2 1.5-1.5 1.4-1 1.2-1.1 2-0.6 1.5-0.4 2 0.1 2.5 0.5 2.5 2.2 7 1.8 8 2.1 5.5 0.8 1 0 2z"/>
<path fill="#33ffc4" d="M113.8 220.6l29 0 0-2 6.3-7.5 1.5-2 1.3-2.5 4.3-11 1.3-2.6 2.9-4.9 0.2-1-0.8-1.5-1.4-1.5-1.9-1.5-1.7-1-1.8-0.8-5-1.3-6-0.5-5 0-5.5 0.3-4.6 0.5-7 1.1-2.5 0.5-2 0.7-2 1-1.5 1-2.2 2-1.8 2.6-0.8 2.4-0.2 3 0.5 3 2.1 7 1.3 7 2.1 6 0.5 1 0.4 0.5 0 2zM181.2 220.6l29 0 0-2 0.7-1 2.2-6 1.5-7.8 2-6.7 0.5-2.5 0-2.5-0.6-2.5-1.4-2.5-1.8-2-1.7-1.4-2-1.2-2-0.8-2.5-0.6-10.5-1.6-5.6-0.4-5-0.2-6.5 0.4-3 0.5-2.5 0.7-2 0.7-2 1.1-1.8 1.3-1.6 1.5-1 1.5-0.2 0.5 0.2 1 2.9 4.9 1.3 2.6 4 10.5 1.3 2.5 1.8 2.5 6.3 7.5 0 2z"/>
<path fill="#39ffbe" d="M113.9 220.6l28.9 0 0-2 5-6 2.2-3 1.5-2.5 1.4-3.5 3.5-11 0.5-2.5-0.1-2.5-0.7-1.5-0.7-1-1.4-1.4-1.5-1-2-0.9-2-0.6-5-0.9-6.5-0.3-9.1 0.6-9 1.2-4 1.3-1.7 1-1.8 1.3-2 2.2-1.1 2-0.7 2.5-0.1 2.5 0.4 2.5 1.8 6.5 1.4 8 1.9 5.5 0.4 1 0.5 0.5 0 2zM181.2 220.6l28.9 0 0-2 0.5-0.5 0.4-1 1.9-5.5 1.4-8 1.8-6.5 0.4-2.5-0.1-2.5-0.5-2-1.3-2.5-1.5-1.8-1.6-1.2-1.9-1.2-2-0.9-2.5-0.7-8.5-1.2-9.1-0.5-6.5 0.1-3 0.4-2.5 0.6-2 0.6-2 0.9-1.5 1-1.4 1.4-0.7 1-0.7 1.5-0.1 2.5 0.5 2.5 3.5 11 1.4 3.5 1.5 2.5 2.2 3 5 6 0 2z"/>
<path fill="#40ffb7" d="M114 220.6l28.7 0 0-2 4.9-6 2.2-3 1.6-3 1.4-3.5 1.8-7.5 0.6-4 0-1.5-0.3-1.5-0.7-1.5-0.7-1.1-1-1-1.5-1.1-2-1-2-0.6-5-1-6-0.2-9.6 0.5-7 0.9-4 1.3-2 1.1-1.6 1.2-1.9 2-1.1 2-0.6 2-0.1 2.5 0.4 2.5 1.6 6.5 1.1 8 2 6 0.8 1 0 2zM181.3 220.6l28.7 0 0-2 0.8-1 2-6 1.1-8 1.6-6.5 0.4-2.5-0.1-2.5-0.6-2-1.1-2-1.5-1.7-1.7-1.3-1.8-1.1-2-0.8-2-0.6-6.5-0.9-9.6-0.6-6.5 0.2-4.7 0.8-2.3 0.6-1.8 0.9-1.6 1-1.2 1-0.9 1.1-0.7 1.4-0.4 1.5-0.2 1.5 0.6 4 1.8 7.5 1.5 4 1.6 3 2.2 3 4.9 6 0 2z"/>
<path fill="#46ffb1" d="M114.1 220.6l28.5 0 0-2 4.9-6 2.1-3 1.6-3 1.2-3.5 1.3-6 0.4-4.5-0.6-3-0.7-1.5-0.8-1.2-1-1-1.5-1-2-1-2-0.7-4.5-0.9-6-0.3-9.6 0.4-5.5 0.7-2.5 0.7-1.9 0.8-1.7 1-1.9 1.4-1.5 1.7-1 1.9-0.6 2-0.1 2.5 0.3 2 1.4 6 1 8.5 1.9 6 0.8 1 0 2zM181.4 220.6l28.5 0 0-2 0.8-1 1.9-6 1-8.5 1.4-6 0.3-2-0.1-2.5-0.6-2-1-1.9-1.5-1.7-1.9-1.4-1.7-1-1.9-0.8-2.5-0.7-5.5-0.7-9.6-0.4-6 0.3-4.5 0.9-2 0.7-2 1-1.5 1-1 1-0.8 1.2-0.7 1.5-0.6 3 0.4 4.5 1.3 6 1.2 3.5 1.6 3 2.1 3 4.9 6 0 2z"/>
<path fill="#4dffaa" d="M114.1 220.6l28.4 0 0-2 0.6-0.5 1.9-2.7 2.7-3.3 1.7-2.5 1.5-3 1.2-3.5 0.9-5 0.1-4.5-0.6-3-0.7-1.5-0.8-1.1-1-1-1.5-1.1-3.5-1.6-4.5-1-6-0.3-9.6 0.2-4.5 0.5-2 0.5-2.1 0.9-1.9 1-1.9 1.5-1.6 1.8-0.9 1.7-0.5 2-0.1 2 0.2 2 1.3 6 0.4 6.5 0.3 2 1.8 6 0.7 1 0 2zM181.5 220.6l28.4 0 0-2 0.7-1 1.8-6 0.3-2 0.4-6.5 1.3-6 0.2-2-0.1-2-0.5-2-0.9-1.7-1.5-1.7-1.5-1.2-2-1.2-2-0.9-2.5-0.7-4.5-0.5-9.1-0.2-5.5 0.2-4.7 0.9-1.8 0.6-2 0.9-1.5 1-1.1 1-0.9 1-0.8 1.5-0.5 1.5-0.3 2 0.1 4.5 0.9 5 1.2 3.5 1.5 3 1.7 2.5 2.7 3.3 1.9 2.7 0.6 0.5 0 2z"/>
<path fill="#53ffa4" d="M114.2 220.6l28.3 0 0-2 0.5-0.5 6.2-8.5 1.5-3 0.9-3 0.8-4.5 0-4.5-0.7-3-0.8-1.5-0.9-1.3-1-1-1.5-1.1-3.5-1.5-4.5-1-5-0.4-9.6 0.2-4 0.3-2 0.6-2 0.8-2 1.1-1.7 1.3-1.4 1.5-1.1 2-0.6 2-0.1 2 1.2 7 0.3 7 0.2 2 0.6 2.5 1.1 3.5 0.8 1 0 2zM181.5 220.6l28.3 0 0-2 0.8-1 1.1-3.5 0.6-2.5 0.2-2 0.3-7 1.2-7-0.1-2-0.6-2-0.7-1.5-1.5-1.8-1.6-1.2-1.9-1.2-2-0.9-2-0.6-4-0.4-9.1-0.2-5.5 0.3-4.5 0.9-3.5 1.4-1.5 1-1.3 1.2-0.8 1-0.9 1.5-0.8 3-0.1 4 0.6 5 1.1 3.5 1.5 3 6.2 8.5 0.5 0.5 0 2z"/>
<path fill="#5aff9d" d="M114.3 220.6l28.1 0 0-2 0.6-0.5 6-8.5 1.4-3 0.9-3 0.6-4.5-0.2-4-0.9-3-1.7-2.5-1.1-1.1-1.5-1-3.2-1.4-4.3-1-5-0.4-9.1 0-3.5 0.3-2 0.5-2 0.8-1.5 0.8-2 1.5-1.4 1.5-1 1.5-0.6 2-0.2 2 0.9 7 0.1 6.5 0.2 2.5 1.4 5.5 0.5 1 0.5 0.5 0 2zM181.6 220.6l28.1 0 0-2 0.5-0.5 0.5-1 1.4-5.5 0.2-2.5 0.1-6.5 0.9-6.5-0.1-2-0.5-2-0.8-1.5-1.3-1.6-1.9-1.4-1.6-1.1-2-0.9-2-0.5-3.5-0.4-8.6 0-5.5 0.3-4.5 1-3.5 1.5-1.5 1-1.1 1.1-1.7 2.5-0.9 3-0.2 4 0.6 4.5 0.9 3 1.4 3 6 8.5 0.6 0.5 0 2z"/>
<path fill="#60ff97" d="M114.4 220.6l27.9 0 0-2 0.6-0.5 5.8-8.5 1.4-3 0.9-3 0.4-4-0.3-3.5-0.9-3-1.6-2.5-2.4-2-3.2-1.6-4.5-1.1-5-0.4-8.6-0.1-3.5 0.3-3.5 1.2-1.9 1.2-1.6 1.2-1.5 1.6-0.9 1.7-0.4 1.5-0.2 2 0.7 6.5-0.2 6.5 0.1 2.5 0.4 2 1 3.5 0.5 1 0.5 0.5 0 2zM181.7 220.6l27.9 0 0-2 0.5-0.5 0.5-1 1-3.5 0.4-2 0.1-2.5-0.2-6.5 0.7-6.5-0.2-2-0.4-1.5-0.9-1.7-1.5-1.6-1.6-1.2-1.9-1.2-3.5-1.2-3.5-0.3-8.6 0.1-5 0.4-4.5 1.1-3.2 1.6-2.4 2-1.6 2.5-0.9 3-0.3 3.5 0.4 4 0.9 3 1.4 3 5.8 8.5 0.6 0.5 0 2z"/>
<path fill="#66ff90" d="M114.5 220.6l27.7 0 0-2 1-1 5-7.5 1.5-3 0.8-3 0.4-4-0.4-3.5-1-3-1.5-2.2-2.5-2.1-3-1.4-4-1.1-4.5-0.5-9.1-0.2-3 0.3-2 0.5-1.5 0.6-3 2.1-1.5 1.5-1 1.5-0.5 1.5-0.3 2 0.4 6.5-0.4 6.5 0.1 2.5 0.3 2 1 3.5 0.4 1 0.6 0.5 0 2zM181.8 220.6l27.7 0 0-2 0.6-0.5 0.4-1 1-3.5 0.3-2 0.1-2.5-0.4-6.5 0.4-6.5-0.3-2-0.5-1.5-1-1.5-1.5-1.5-3-2.1-1.5-0.6-2-0.5-3-0.3-9.1 0.2-4.5 0.5-4 1.1-3 1.4-1.5 1.1-1.2 1.2-1.5 2.5-0.9 3-0.3 3.5 0.4 3.5 0.8 3 1.5 3 5 7.5 1 1 0 2z"/>
<path fill="#6dff8a" d="M114.5 220.6l27.6 0 0-2 1-1 4.9-7.5 1.4-3 0.7-2.5 0.4-3.5-0.4-3.5-1-3-1.6-2.4-2.5-2.1-3-1.5-4-1-4.5-0.5-8.1-0.3-3 0.2-1.5 0.3-1.8 0.8-3 2-1.5 1.5-1 1.5-0.6 1.5-0.3 2 0.2 6-0.6 6.5 0.1 2.5 0.4 2.5 0.8 3 0.4 1 0.5 0.5 0 2zM181.9 220.6l27.6 0 0-2 0.5-0.5 0.4-1 0.8-3 0.4-2.5 0.1-2.5-0.6-6.5 0.2-6-0.3-2-0.6-1.5-1-1.5-1.5-1.5-3-2-1.8-0.8-1.5-0.3-3-0.2-8.1 0.3-4.5 0.5-4 1-3 1.5-2.5 2.1-1.6 2.4-1 3-0.4 3.5 0.4 3.5 0.7 2.5 1.4 3 4.9 7.5 1 1 0 2z"/>
<path fill="#73ff83" d="M114.6 220.6l27.5 0 0-2 0.9-1 4.8-7.5 1.2-2.5 0.8-3 0.2-3.5-0.4-3-0.8-2.5-1.7-2.5-2.1-1.9-3-1.6-3.5-1.1-4.5-0.6-8.1-0.4-3 0.1-3.1 1-1.8 1-1.3 1-1.4 1.5-1 1.5-0.6 1.5-0.3 2-0.1 5.5-0.7 6.5-0.1 2 0.3 2.5 0.9 3.5 0.4 1 0.5 0.5 0 2zM181.9 220.6l27.5 0 0-2 0.5-0.5 0.4-1 0.9-3.5 0.3-2.5-0.1-2-0.7-6.5-0.1-5.5-0.3-2-0.6-1.5-1.1-1.7-1.5-1.5-3-1.9-3-0.9-3-0.1-8.1 0.4-4.5 0.6-3.5 1.1-3 1.6-2.1 1.9-1.7 2.5-0.8 2.5-0.4 3 0.2 3.5 0.8 3 1.2 2.5 4.8 7.5 0.9 1 0 2z"/>
<path fill="#7aff7d" d="M114.7 220.6l27.3 0 0-2 0.9-1 4.7-7.5 1.1-2.5 0.7-2.5 0.2-3-0.3-3-0.8-2.5-1.5-2.5-2.2-2-2.8-1.6-3.5-1.1-4.5-0.7-8.1-0.5-3 0.2-3 1-2.5 1.6-2 2.3-0.7 1.3-0.5 1.5-0.2 1.5-0.4 6-0.9 6 0 2 0.2 2 1 4 0.8 1 0 2zM182 220.6l27.3 0 0-2 0.8-1 1-4 0.2-2 0-2-0.9-6-0.4-6-0.2-1.5-0.5-1.5-0.7-1.3-2-2.3-2.5-1.6-3-1-3-0.2-8.1 0.5-4.5 0.7-3.5 1.1-2.8 1.6-2.1 2-1.6 2.5-0.8 2.5-0.3 3 0.2 3 0.7 2.5 1.1 2.5 4.7 7.5 0.9 1 0 2z"/>
<path fill="#80ff77" d="M114.8 220.6l27.1 0 0-2 0.9-1 4.3-7 1.1-2.5 0.7-2.5 0.3-3-0.4-3-0.8-2.5-1.5-2.4-2-1.8-3-1.7-3-1-4-0.7-7.6-0.6-3 0.1-1.5 0.2-1.5 0.5-2.5 1.6-2.2 2.3-1.2 2.5-0.4 2-0.7 6-0.9 5.5-0.1 2 0.2 2 0.9 4 0.8 1 0 2zM182.1 220.6l27.1 0 0-2 0.8-1 0.9-4 0.2-2-0.1-2-0.9-5.5-0.7-6-0.4-2-1.2-2.5-2.2-2.3-2.5-1.6-1.5-0.5-1.5-0.2-3-0.1-7.6 0.6-4 0.7-3 1-3 1.7-2 1.8-1.5 2.4-0.8 2.5-0.4 3 0.3 3 0.7 2.5 1.1 2.5 4.3 7 0.9 1 0 2z"/>
<path fill="#87ff70" d="M114.9 220.6l26.9 0 0-2 1-1 4-7 1.2-2.5 0.6-2.5 0.2-3-0.4-2.5-0.9-2.5-1.3-2-2.1-2-2.6-1.6-3-1-4-0.8-7.6-0.6-3 0.1-2.5 0.7-2.5 1.5-2.1 2.2-1.2 2.5-2.4 13-0.2 2 0.2 2 0.9 4 0.2 0.5 0.6 0.5 0 2zM182.2 220.6l26.9 0 0-2 0.6-0.5 0.2-0.5 0.9-4 0.2-2-0.2-2-2.4-13-1.2-2.5-2.1-2.2-2.5-1.5-2.5-0.7-3-0.1-7.6 0.6-4 0.8-3 1-2.6 1.6-2.1 2-1.3 2-0.9 2.5-0.4 2.5 0.2 3 0.6 2.5 1.2 2.5 4 7 1 1 0 2z"/>
<path fill="#8dff6a" d="M115 220.6l26.7 0 0-2 1-1 3.9-7 1.1-2.5 0.5-2 0.2-2.5-0.3-2.5-0.8-2.5-1.3-2.2-2-2-2.5-1.5-3-1.1-4-0.9-5.1-0.5-5-0.1-2.5 0.7-2.5 1.5-2 2.1-1.2 2.5-2.8 12.5-0.2 2 0.2 2.5 0.7 3.5 0.3 0.5 0.6 0.5 0 2zM182.3 220.6l26.7 0 0-2 0.6-0.5 0.3-0.5 0.7-3.5 0.2-2.5-0.2-2-2.8-12.5-1.2-2.5-2-2.1-2.5-1.5-2.5-0.7-5 0.1-5.1 0.5-4 0.9-3 1.1-2.5 1.5-2 2-1.3 2.2-0.8 2.5-0.3 2.5 0.2 2.5 0.5 2 1.1 2.5 3.9 7 1 1 0 2z"/>
<path fill="#94ff63" d="M115.1 220.6l26.5 0 0-2 1-1 3.8-7 1-2.5 0.5-2 0.1-2.5-0.4-2.5-0.7-2-1.2-2-2.1-2-2.4-1.5-3.2-1.2-3.5-0.8-5.1-0.5-4.5-0.1-2.5 0.6-2.4 1.5-2 2-1.3 2.5-3.1 12-0.2 2 0.1 2.5 0.7 3.5 0.3 0.5 0.6 0.5 0 2zM182.4 220.6l26.5 0 0-2 0.6-0.5 0.3-0.5 0.7-3.5 0.1-2.5-0.2-2-3.1-12-1.3-2.5-2-2-2.4-1.5-2.5-0.6-4.5 0.1-5.1 0.5-3.5 0.8-3.2 1.2-2.4 1.5-2.1 2-1.2 2-0.7 2-0.4 2.5 0.1 2.5 0.5 2 1 2.5 3.8 7 1 1 0 2z"/>
<path fill="#9aff5d" d="M115.2 220.6l26.3 0 0-2 1-1 3.4-6.5 1.1-2.5 0.5-2 0.1-2.5-0.2-2-0.7-2-1.2-2.2-1.7-1.8-2.3-1.6-3-1.2-3.5-0.9-5.6-0.6-4-0.1-2.5 0.5-2.3 1.4-2 2-1.4 2.5-3.4 11.5-0.2 2 0.1 2.5 0.6 3.5 0.3 0.5 0.6 0.5 0 2zM182.5 220.6l26.3 0 0-2 0.6-0.5 0.3-0.5 0.6-3.5 0.1-2.5-0.2-2-3.4-11.5-1.4-2.5-1.8-1.9-2-1.3-2.5-0.7-4 0-5.6 0.6-3.5 0.8-3 1.2-2.5 1.5-2 2.1-1.2 2.2-0.7 2-0.2 2 0.1 2.5 0.5 2 1.1 2.5 3.4 6.5 1 1 0 2z"/>
<path fill="#a0ff56" d="M115.2 220.6l26.2 0 0-2 1-1 3.3-6.5 0.8-2 0.6-2 0.2-2.5-0.3-2-0.6-2-1.2-2-1.7-1.9-2.5-1.6-2.5-1.1-3.5-0.9-5.1-0.6-4-0.1-2.5 0.5-2.2 1.2-1.8 1.6-1.5 2.4-1.1 3-2.8 8.5-0.3 2 0.1 2.5 0.6 3.5 0.3 0.5 0.5 0.5 0 2zM182.6 220.6l26.2 0 0-2 0.5-0.5 0.3-0.5 0.6-3.5 0.1-2.5-0.3-2-3.7-11-1.5-2.5-1.7-1.8-2-1.2-2.5-0.7-3.5 0-5.1 0.6-3.5 0.7-3 1.1-2.5 1.5-2 2-1.1 1.8-0.8 2-0.3 2 0.1 2.5 0.4 2 1 2.5 3.3 6.5 1 1 0 2z"/>
<path fill="#a7ff50" d="M115.3 220.6l26.1 0 0-2 0.9-1 3.1-6.5 0.8-2 0.5-2 0.2-2-0.2-2-0.7-2-1-1.8-1.5-1.7-2.5-1.8-2.5-1.1-3.5-0.9-5.6-0.7-3.5 0-2.5 0.6-2 1.2-1.7 1.7-1.6 2.5-1.7 4.2-2.1 6.3-0.4 2 0 2.5 0.6 3.5 0.2 0.5 0.6 0.5 0 2zM182.6 220.6l26.1 0 0-2 0.6-0.5 0.2-0.5 0.6-3.5 0-2.5-0.4-2-2.1-6.3-1.7-4.2-1.6-2.5-1.7-1.7-2-1.2-2.5-0.6-3.5 0-5.1 0.6-3.5 0.9-3 1.2-2 1.4-1.8 1.9-1 1.5-0.7 2-0.4 2 0.2 2.5 0.5 2 0.8 2 3.1 6.5 0.9 1 0 2z"/>
<path fill="#adff49" d="M115.4 220.6l25.9 0 0-2 0.9-1 3.2-7 0.9-3 0.2-2-0.2-2-0.6-2-0.9-1.5-1.7-2-2.1-1.5-2.5-1.1-3.5-1-5.1-0.6-3.5 0-2.5 0.5-2 1.1-2 1.9-1.5 2.4-2 4.5-2 5.5-0.4 2.3 0 2 0.6 3.5 0.2 0.5 0.6 0.5 0 2zM182.7 220.6l25.9 0 0-2 0.6-0.5 0.2-0.5 0.5-3 0.1-2.5-0.3-2-2.1-5.8-1.9-4.2-1.5-2.5-1.6-1.7-2-1.3-2.5-0.7-3-0.1-5.1 0.5-3.5 0.8-3 1.2-2 1.3-2 2-1 1.6-0.7 1.9-0.3 2 0.1 2 0.4 2 1 2.5 2.8 6 0.9 1 0 2z"/>
<path fill="#b4ff43" d="M115.5 220.6l25.7 0 0-2 1-1 3-7 0.8-3 0.1-2-0.2-1.5-0.6-2-0.8-1.5-1.8-2-2.2-1.5-2.5-1.1-3-0.8-4.5-0.6-3.6 0-2.5 0.5-2 1.1-2 1.7-1.8 2.7-2.2 4.6-1.8 4.9-0.4 2 0 2.5 0.5 3 0.2 0.5 0.6 0.5 0 2zM182.8 220.6l25.7 0 0-2 0.6-0.5 0.2-0.5 0.5-3 0-2.5-0.4-2-1.3-3.7-2.5-5.5-1.5-2.3-2-2.1-2-1.2-2.5-0.6-3-0.1-4.1 0.3-3.5 0.8-3 1.1-2.1 1.3-1.9 1.8-1.1 1.7-0.7 2-0.3 2 0.1 2 0.8 3 3 7 1 1 0 2z"/>
<path fill="#baff3c" d="M115.6 220.6l25.5 0 0-2 1-1 2.8-7 0.7-2.5 0.1-2-0.1-1.5-0.6-2-0.9-1.5-1.6-1.9-2-1.4-2.5-1.1-3.5-0.9-4-0.5-3.6 0.1-2.5 0.6-2 1.1-2 1.9-1.8 2.6-2.2 4.4-1.6 4.1-0.4 2-0.1 2.5 0.4 3 0.3 0.5 0.6 0.5 0 2zM182.9 220.6l25.5 0 0-2 0.6-0.5 0.3-0.5 0.4-3-0.1-2.5-0.4-2-1.6-4.1-2-4.1-1.5-2.3-2-2.1-2-1.3-2.5-0.7-3-0.2-3.6 0.2-3.5 0.7-3 1.1-2.2 1.3-1.8 1.6-1 1.4-0.8 2-0.4 2 0 2 0.8 3 2.6 6.5 0.6 1 0.6 0.5 0 2z"/>
<path fill="#c1ff36" d="M115.7 220.6l25.3 0 0-2 1-1 2.5-6.5 0.8-3 0.1-2-0.3-1.5-0.5-1.5-0.8-1.5-1.3-1.6-2-1.5-2.5-1.2-3-0.8-3.5-0.4-3.6 0-2.5 0.4-2.5 1.1-2 1.7-2 2.7-2.5 4.6-1.4 3.5-0.5 2 0 2.5 0.3 3 0.3 0.5 0.6 0.5 0 2zM183 220.6l25.3 0 0-2 0.6-0.5 0.3-0.5 0.3-2.5 0-2.5-0.3-2-1.1-2.9-2.5-4.9-1.9-2.7-1.6-1.7-2-1.3-2.5-0.9-2.5-0.2-3.6 0.1-3.5 0.6-2.6 0.9-2.4 1.2-2 1.8-1.1 1.5-0.9 1.9-0.3 1.6 0 2 0.6 3 2.5 6.5 0.6 1 0.6 0.5 0 2z"/>
<path fill="#c7ff30" d="M115.8 220.6l25.1 0 0-2 0.6-0.5 0.6-1 2.2-6 0.6-2.5 0.1-2-0.2-1.5-0.5-1.5-0.8-1.5-1.5-1.8-2-1.4-2.5-1.1-3-0.7-3.5-0.4-3.6 0.1-2.5 0.7-2 1-2 1.7-2 2.6-2 3.5-1.7 3.8-0.5 2-0.1 2.5 0.3 3 0.3 0.5 0.6 0.5 0 2zM183.1 220.6l25.1 0 0-2 0.6-0.5 0.3-0.5 0.2-1.5 0.1-2.5-0.3-2.6-1-2.7-2-3.9-2-3-1.5-1.7-2-1.5-2-0.9-2.5-0.5-3.6-0.1-3.5 0.5-3 0.8-2.5 1.2-2 1.6-1 1.3-1 1.9-0.4 1.6-0.1 2 0.6 3 2.3 6.5 0.6 1 0.6 0.5 0 2z"/>
<path fill="#ceff29" d="M115.9 220.6l24.9 0 0-2 0.7-0.5 0.5-1 2-6 0.6-2.5 0-1.5-0.1-1.5-0.5-1.5-0.8-1.5-1.7-1.9-2-1.4-2.5-1-2.5-0.6-3.5-0.3-3.1 0.1-2.5 0.5-2.5 1.3-2 1.7-2 2.5-2.5 4.3-1.1 2.8-0.5 2-0.1 2.5 0.3 2.5 0.3 0.5 0.6 0.5 0 2zM183.2 220.6l24.9 0 0-2 0.6-0.5 0.3-0.5 0.2-1.5 0.1-2.5-0.4-2.5-1-2.5-1.8-3.5-1.5-2.3-2-2.3-2-1.5-2.5-1.1-2.5-0.5-3.6 0-3 0.4-3 0.8-2.5 1.3-1.9 1.7-1.1 1.4-0.7 1.6-0.4 1.5 0 2 0.6 3 2 6 0.5 1 0.7 0.5 0 2z"/>
<path fill="#d4ff23" d="M116 220.6l24.7 0 0-2 0.7-0.5 0.5-1 1.9-6 0.4-2 0.1-1.5-0.2-1.5-0.4-1.5-0.7-1.4-1.5-1.8-2-1.4-2.5-1.1-2.5-0.6-3-0.3-3.6 0.2-2.5 0.6-2.5 1.2-2 1.7-2 2.5-2 3.2-1.4 3.2-0.6 2.5 0 2.5 0.2 2 0.3 0.5 0.6 0.5 0 2zM183.3 220.6l24.7 0 0-2 0.6-0.5 0.4-1.5 0.1-3-0.3-2-0.7-2.2-1.5-2.9-2-3-1.5-1.8-2-1.7-2-1.1-2.5-0.6-3.6-0.3-3 0.2-3 0.7-2.5 1.1-2.1 1.6-1.3 1.5-0.8 1.5-0.4 1.5-0.2 2 0.5 3 1.9 6 0.5 1 0.7 0.5 0 2z"/>
<path fill="#dbff1c" d="M116.1 220.6l24.5 0 0-2 0.7-0.5 0.5-1 1.6-5.5 0.5-2.5 0-1.5-0.2-1.5-1.1-2.5-1.6-1.9-2-1.3-2.5-1.1-2.5-0.5-3-0.2-3.6 0.3-2.5 0.7-2 1.1-2 1.7-2 2.4-2 3.1-1.2 2.7-0.6 2.5-0.1 2.5 0.2 2 0.3 0.5 0.6 0.5 0 2zM183.4 220.6l24.5 0 0-2 0.6-0.5 0.3-0.5 0.2-3-0.2-2.5-0.9-2.5-1.8-3.4-2.5-3.3-2-1.9-2.5-1.4-3-0.8-4.1-0.2-3.5 0.5-2.9 1-2.1 1.2-1.8 1.8-1.1 2-0.5 2 0 2 0.4 2 1.9 6.5 1 1 0 2z"/>
<path fill="#e1ff16" d="M116.2 220.6l24.3 0 0-2 0.7-0.5 0.5-1 1.5-5.5 0.3-2 0.1-1.5-0.2-1.5-1.1-2.5-1.3-1.7-2-1.4-2.5-1.1-2.5-0.5-3-0.2-3.6 0.3-2.5 0.7-2 1.1-2 1.7-2 2.3-2 3.1-1.2 2.7-0.5 2.5-0.1 2.5 0.2 1.5 0.3 0.5 0.6 0.5 0 2zM183.5 220.6l24.3 0 0-2 0.6-0.5 0.3-0.5 0.2-2.5-0.2-2.5-0.8-2.5-1.8-3.3-2-2.7-2-2-2.5-1.6-3-1-4.1-0.3-3.5 0.3-3 1-2 1.1-1.6 1.5-1.3 2-0.6 2-0.1 2 0.3 2 1.8 6.5 1 1 0 2z"/>
<path fill="#e7ff0f" d="M116.3 220.6l24.1 0 0-2 0.7-0.5 0.5-1 1.6-7-0.1-3-1-2.5-1.2-1.5-1.9-1.5-2.5-1.1-2.5-0.6-3-0.2-3.1 0.3-2.5 0.6-2 1-2 1.5-2 2.1-2 2.9-1.5 3-0.6 2.5 0 2.5 0.1 1.5 0.3 0.5 0.6 0.5 0 2zM183.6 220.6l24.1 0 0-2 0.6-0.5 0.3-0.5 0.2-2-0.2-2.5-0.7-2.5-1.8-3.3-2-2.7-2-2-2.5-1.5-2.5-0.9-4.1-0.5-3.5 0.3-3 0.9-2.2 1.2-1.6 1.5-1.3 2-0.6 2 0 2 0.3 2 1.5 6 1 1 0 2z"/>
<path fill="#eeff09" d="M116.4 220.6l23.9 0 0-2 0.7-0.5 0.5-1 1.4-7-0.1-2.5-1-2.5-1.3-1.7-1.8-1.3-2.2-1-2.5-0.6-3-0.2-3.1 0.3-2.5 0.6-2 0.9-2 1.5-2 2.1-2 2.8-1.3 2.6-0.6 2.5-0.1 2.5 0.1 1.5 0.3 0.5 0.6 0.5 0 2zM183.7 220.6l23.9 0 0-2 0.6-0.5 0.3-0.5 0.1-1.5-0.1-2.5-0.6-2.5-1.6-3-2.2-3-2-1.9-2.5-1.6-2.5-0.8-4.1-0.5-3 0.2-3 0.7-2 1-2 1.7-1.1 1.7-0.7 2-0.1 2 0.2 2 1.2 5.5 0.5 1 0.7 0.5 0 2z"/>
<path fill="#f4f802" d="M116.5 220.6l23.7 0 0-2 0.7-0.5 0.5-1 1.2-6.5 0-1.5-0.2-1.5-0.9-2.2-1.5-1.8-1.5-1.1-2-0.9-2.5-0.6-3-0.2-3.1 0.3-2.5 0.6-2 1-2 1.4-2 2.1-2 2.8-1.1 2.1-0.7 2.5-0.1 2.5 0.1 1.5 0.3 0.5 0.6 0.5 0 2zM183.8 220.6l23.7 0 0-2 0.6-0.5 0.3-0.5 0.1-1.5-0.1-2.5-0.7-2.5-1.6-2.9-2-2.6-2-1.9-2.5-1.6-2.5-0.8-4.1-0.5-3 0.2-3 0.8-2.3 1.3-1.6 1.5-0.9 1.5-0.7 2-0.1 2 0.2 2 1 5 0.5 1 0.7 0.5 0 2z"/>
<path fill="#fbf100" d="M116.6 220.6l23.5 0 0-2 0.7-0.5 0.5-1 1-6-0.1-2.5-0.9-2.5-1.1-1.5-1.7-1.5-2-0.9-2.5-0.7-3-0.2-3.1 0.3-2.5 0.6-2 1-2 1.4-2 2-1.8 2.5-1.2 2.3-0.6 2.2-0.2 3 0.1 1 0.3 0.5 0.6 0.5 0 2zM183.9 220.6l23.5 0 0-2 0.6-0.5 0.3-0.5 0.1-1-0.2-3-0.5-2-1.6-3-2-2.5-2-1.9-2.5-1.6-2.5-0.8-3.6-0.5-3 0.1-3 0.8-2 0.9-1.7 1.5-1.3 1.7-0.6 1.8-0.2 2 0.2 2.5 0.8 4.5 0.5 1 0.7 0.5 0 2z"/>
<path fill="#ffea00" d="M116.7 220.6l23.3 0 0-2 0.7-0.5 0.5-1 0.8-6-0.2-2.5-0.8-2.3-1.4-1.7-1.6-1.2-2-0.9-2.5-0.6-2.5-0.1-3.1 0.3-2.5 0.6-2 0.9-2 1.5-2 2-1.8 2.5-1 2-0.7 2.1-0.2 2.9 0.1 1 0.3 0.5 0.6 0.5 0 2zM184 220.6l23.3 0 0-2 0.6-0.5 0.4-1-0.2-3-0.5-2-1.5-3-2-2.6-2-1.8-2.5-1.6-2.5-0.9-3.6-0.4-3 0.1-2.5 0.6-2.3 1.1-1.7 1.4-1.1 1.6-0.7 2-0.2 2.5 0.6 4.5 0.4 2 0.3 0.5 0.7 0.5 0 2z"/>
<path fill="#ffe200" d="M116.8 220.6l23.1 0 0-2 0.7-0.5 0.5-1 0.6-5.5-0.1-2.5-1-2.5-1.1-1.5-1.5-1.1-2-1-2.5-0.6-2.5-0.2-3.1 0.3-2.5 0.6-2 1-2 1.4-2 2-1.6 2.1-1.2 2.5-0.7 2.5-0.1 2.5 0.4 1 0.6 0.5 0 2zM184.1 220.6l23.1 0 0-2 0.6-0.5 0.4-1-0.1-2.5-0.5-2.2-1.4-2.8-2.1-2.7-2-1.8-2.5-1.5-2.5-0.9-3.6-0.5-3 0.2-2.5 0.6-2 1-1.5 1.1-1.1 1.5-0.9 2-0.2 2.5 0.4 4.5 0.4 2 0.3 0.5 0.7 0.5 0 2z"/>
<path fill="#ffdb00" d="M116.9 220.6l22.9 0 0-2 0.7-0.5 0.5-1 0.5-5-0.2-2.5-0.9-2.5-1.1-1.5-1.8-1.4-2-0.9-2-0.5-2.5-0.2-3.1 0.3-2.5 0.7-2 0.9-2 1.4-2 2-1.5 2-1.1 2.2-0.6 2-0.3 3 0.4 1 0.6 0.5 0 2zM184.2 220.6l22.9 0 0-2 0.6-0.5 0.4-1-0.2-2.5-0.5-2-1.3-2.7-2-2.6-2-1.8-2.5-1.5-2.5-0.9-3-0.4-3.1 0.1-2.5 0.5-2 0.9-1.8 1.4-1.2 1.5-0.7 2-0.3 2.5 0.4 4.5 0.3 1.5 0.3 0.5 0.7 0.5 0 2z"/>
<path fill="#ffd300" d="M117 220.6l22.7 0 0-2 0.7-0.5 0.5-1 0.3-4.5-0.2-3-0.7-2-1.3-1.7-1.5-1.2-2-0.9-2-0.5-2.5-0.2-3.1 0.2-2.5 0.7-2 0.9-2 1.4-2 2-1.5 2-1 1.9-0.7 2.4-0.1 2.5 0.3 1 0.6 0.5 0 2zM184.3 220.6l22.7 0 0-2 0.6-0.5 0.3-1-0.1-2-0.4-2-1.1-2.5-1.7-2.3-2.5-2.4-2.5-1.5-2.5-0.9-3-0.4-3.1 0.1-2.5 0.6-2 0.9-1.5 1.2-1.3 1.7-0.7 1.8-0.2 2.7 0.2 4 0.3 1.5 0.3 0.5 0.7 0.5 0 2z"/>
<path fill="#ffcc00" d="M117.1 220.6l22.5 0 0-2 0.7-0.5 0.4-1 0.3-3.5-0.2-3.5-0.8-2.3-1-1.3-1.8-1.4-1.7-0.9-2.5-0.6-2.5-0.1-2.6 0.2-2.5 0.7-2 0.9-2 1.4-2 2-1.5 2-1 1.9-0.5 2-0.2 2.5 0.3 1 0.6 0.5 0 2zM184.4 220.6l22.5 0 0-2 0.6-0.5 0.3-1-0.1-2-0.5-2-1.1-2.4-2-2.6-2-1.8-2.5-1.5-2.5-0.9-2.5-0.4-3.1 0.1-2.5 0.5-2 0.8-1.6 1.2-1.2 1.5-0.9 2-0.3 2.5 0.1 4 0.3 1.5 0.3 0.5 0.7 0.5 0 2z"/>
<path fill="#ffc400" d="M117.2 220.6l22.3 0 0-2 0.7-0.5 0.3-0.5 0.3-2.5-0.1-4-0.8-2.5-0.9-1.5-1.5-1.4-2-1-2-0.6-2.5-0.2-2.6 0.1-2.5 0.6-2 0.8-2 1.3-2 1.8-1.5 1.8-1.3 2.3-0.6 2-0.2 2.5 0.3 1 0.6 0.5 0 2zM184.5 220.6l22.3 0 0-2 0.6-0.5 0.3-1-0.1-1.9-0.4-1.6-1.1-2.5-1.5-2.1-2-1.9-2.5-1.7-2.5-0.9-2.5-0.5-3.1-0.1-2.5 0.5-2 0.7-2 1.5-1.2 1.5-0.6 1.5-0.5 2.5 0 4 0.3 1.5 0.3 0.5 0.7 0.5 0 2z"/>
<path fill="#ffbd00" d="M117.3 220.6l22.1 0 0-2 0.7-0.5 0.3-0.5 0.3-2.5-0.3-4-0.9-2.5-1-1.5-1.5-1.2-2-0.9-2-0.6-2-0.1-2.6 0.1-2.5 0.6-2 0.8-2 1.3-2 1.7-1.5 1.9-1.1 1.9-0.6 2-0.3 2.5 0.3 1 0.6 0.5 0 2zM184.6 220.6l22.1 0 0-2 0.6-0.5 0.3-1-0.5-3.4-1-2.3-1.5-2-2-1.9-2.5-1.7-2.5-1-2.5-0.5-3.1 0-2.5 0.5-2 0.8-1.5 1.1-1.2 1.4-1 2-0.4 2.5 0 3.5 0.2 1.5 0.3 0.5 0.7 0.5 0 2z"/>
<path fill="#ffb600" d="M117.4 220.6l21.9 0 0-2 0.7-0.5 0.3-0.5 0.2-2-0.2-4-0.8-2.4-1-1.5-1.5-1.3-2-1-2-0.6-2-0.2-2.6 0.2-2.5 0.5-2 0.9-2 1.2-2 1.8-1.5 1.8-1 1.8-0.6 1.8-0.3 2.5 0.3 1 0.6 0.5 0 2zM184.7 220.6l21.9 0 0-2 0.6-0.5 0.3-1-0.5-3-0.9-2.3-1.5-2.1-2-1.9-2.5-1.6-2.5-1-2.5-0.5-3.1 0-2.5 0.5-2 0.9-1.5 1.1-1.1 1.4-0.9 1.8-0.4 2.7-0.1 3.5 0.2 1 0.3 0.5 0.7 0.5 0 2z"/>
<path fill="#ffae00" d="M117.5 220.6l21.7 0 0-2 0.7-0.5 0.3-0.5 0.2-2-0.3-3.5-0.8-2.5-1-1.5-1.3-1.2-2-1.1-2-0.6-2-0.2-2.6 0.1-2.5 0.6-2 0.8-2 1.3-2 1.7-1.5 1.9-0.9 1.7-0.6 2-0.3 2 0.3 1 0.6 0.5 0 2zM184.8 220.6l21.7 0 0-2 0.6-0.5 0.2-0.5 0.1-1-0.4-2-0.9-2.4-1.5-2.1-2-1.9-2-1.4-2.5-1.1-2.5-0.6-3.1-0.1-2.5 0.5-2 0.7-1.5 1-1.5 1.8-0.7 1.6-0.5 2.5-0.2 3.5 0.2 1 0.3 0.5 0.7 0.5 0 2z"/>
<path fill="#ffa700" d="M117.6 220.6l21.5 0 0-2 0.7-0.5 0.3-0.5 0.2-1.5-0.3-3.5-0.8-2.5-0.9-1.5-1.3-1.3-2-1.1-2-0.6-2-0.2-2.6 0.1-2.5 0.5-2 0.9-2 1.2-1.5 1.3-1.5 1.6-1.2 2.1-0.7 2-0.3 2 0.3 1 0.6 0.5 0 2zM184.9 220.6l21.5 0 0-2 0.6-0.5 0.2-0.5 0-1-0.3-2-0.8-2-1.5-2.2-2-1.9-2.5-1.6-2.5-1-2.5-0.5-2.6 0-2.5 0.5-2 0.8-1.5 1-1.2 1.4-0.8 1.6-0.6 2.4-0.1 3.5 0.1 1 0.3 0.5 0.7 0.5 0 2z"/>
<path fill="#ff9f00" d="M117.8 220.6l21.2 0 0-2 0.7-0.5 0.3-0.5 0.1-1.5-0.3-3.5-0.8-2.4-1-1.5-1.5-1.3-1.5-0.8-2-0.6-2-0.3-2.6 0.1-2.5 0.6-2 0.8-2 1.2-1.5 1.3-1.5 1.7-1 1.7-0.7 2-0.4 2 0.3 1 0.7 0.5 0 2zM185 220.6l21.2 0 0-2 0.7-0.5 0.2-0.5-0.3-2.5-0.7-2.1-1.5-2.3-2-1.9-2-1.3-2.5-1.1-2.5-0.6-2.6-0.1-2.5 0.4-2 0.7-1.5 1-1.5 1.6-0.8 1.7-0.6 2.5-0.2 3 0.1 1 0.3 0.5 0.7 0.5 0 2z"/>
<path fill="#ff9800" d="M117.9 220.6l21 0 0-2 0.7-0.5 0.3-0.5 0.1-1-0.3-3-0.7-2.7-1-1.7-1-1-1.5-1-2-0.7-2-0.4-2.6 0-2.5 0.5-2 0.7-2 1.1-2 1.6-1.5 1.7-1 1.7-0.6 1.7-0.3 2 0.2 1 0.7 0.5 0 2zM185.1 220.6l21 0 0-2 0.7-0.5 0.2-0.5-0.2-2-0.7-2.2-1.1-1.8-1.9-2.1-2-1.4-2.5-1.2-2.5-0.7-2.6-0.2-2.5 0.3-2 0.7-1.8 1.1-1.2 1.1-1.1 1.9-0.6 2.5-0.3 3 0.1 1 0.3 0.5 0.7 0.5 0 2z"/>
<path fill="#ff9100" d="M118 220.6l20.8 0 0-2 0.7-0.5 0.3-0.5 0.1-1-0.3-3-0.8-2.5-1-1.5-1.3-1.3-1.5-0.9-2-0.7-2-0.3-2.6 0.1-2 0.4-2 0.7-2 1.1-2 1.6-1.5 1.8-0.9 1.5-0.6 1.6-0.3 1.9 0.2 1 0.7 0.5 0 2zM185.2 220.6l20.8 0 0-2 0.7-0.5 0.2-0.5-0.1-1.5-0.7-2.3-1-1.7-2-2.2-2-1.5-2.5-1.2-2.5-0.7-2.6-0.1-2.5 0.3-2 0.7-1.9 1.2-1.1 1.1-1 1.8-0.7 2.6-0.2 2.5 0.1 1 0.3 0.5 0.7 0.5 0 2z"/>
<path fill="#ff8900" d="M118.1 220.6l20.6 0 0-2 0.7-0.5 0.3-0.5 0.1-1-0.3-2.6-0.8-2.4-0.9-1.5-1.3-1.4-1.5-1-2-0.7-2-0.3-2.6 0.1-2 0.4-2 0.7-2 1.1-1.5 1.2-1.5 1.5-1.2 1.9-0.7 2-0.3 1.5 0.2 1 0.7 0.5 0 2zM185.3 220.6l20.6 0 0-2 0.7-0.5 0.2-0.5-0.1-1.5-0.7-2-1.1-2-1.8-1.9-2-1.5-2-1-2.5-0.8-2.5-0.2-2.6 0.2-2 0.6-2 1.2-1.3 1.4-0.9 1.5-0.8 2.4-0.3 2.6 0.1 1 0.3 0.5 0.7 0.5 0 2z"/>
<path fill="#ff8200" d="M118.2 220.6l20.4 0 0-2 0.7-0.5 0.2-0.5 0.1-1-0.3-2.5-0.6-2-0.8-1.5-1.4-1.5-1.5-1-1.5-0.6-2-0.4-2.1-0.1-2.5 0.4-2 0.6-2 1-2 1.5-1.5 1.5-1 1.6-0.6 1.5-0.5 2 0.2 1 0.7 0.5 0 2zM185.4 220.6l20.4 0 0-2 0.7-0.5 0.2-0.5-0.1-1-0.5-2-1.1-2-1.9-2.1-2-1.5-2-1-2.5-0.7-2.5-0.3-2.6 0.3-2 0.6-1.5 0.8-1.5 1.4-1 1.5-0.8 2.5-0.3 2.5 0.1 1 0.2 0.5 0.7 0.5 0 2z"/>
<path fill="#ff7a00" d="M118.3 220.6l20.2 0 0-2 0.7-0.5 0.3-1-0.2-2-0.7-2.5-0.7-1.5-1.3-1.5-1.6-1.1-1.5-0.6-2-0.5-2.1-0.1-2.5 0.4-2 0.6-2 1-2 1.4-1.5 1.6-1 1.6-0.6 1.7-0.4 1.5 0.3 1 0.6 0.5 0 2zM185.5 220.6l20.2 0 0-2 0.6-0.5 0.3-0.5-0.1-1-0.8-2.5-1.1-1.8-1.5-1.6-2-1.4-2-1-2.5-0.7-2.5-0.3-2.1 0.2-2 0.5-2 1.1-1.5 1.4-0.9 1.6-0.7 2-0.4 2.5 0.1 1 0.2 0.5 0.7 0.5 0 2z"/>
<path fill="#ff7300" d="M118.4 220.6l20 0 0-2 0.7-0.5 0.3-1-0.2-2-0.6-2-0.7-1.5-1.2-1.5-1.3-1-1.9-0.9-2-0.5-2.1-0.1-2 0.2-2 0.6-2 0.9-2 1.3-1.5 1.4-1.1 1.6-0.9 1.9-0.3 1.6 0.2 1 0.6 0.5 0 2zM185.6 220.6l20 0 0-2 0.6-0.5 0.2-0.5 0-1-0.7-2-1.1-1.9-1.5-1.7-2-1.4-2-1-2.5-0.8-2.5-0.2-2.1 0.2-2 0.6-2 1.1-1.2 1.1-1 1.5-0.8 2-0.4 2.5 0.1 1 0.2 0.5 0.7 0.5 0 2z"/>
<path fill="#ff6c00" d="M118.6 220.6l19.7 0 0-2 0.7-0.5 0.3-1-0.2-1.5-0.5-2-0.6-1.4-1-1.4-1.5-1.3-1.5-0.8-2-0.6-2.1-0.2-2.5 0.2-2 0.6-2 0.9-2 1.3-1.5 1.4-1 1.4-0.8 1.9-0.4 1.5 0.2 1 0.7 0.5 0 2zM185.7 220.6l19.7 0 0-2 0.7-0.5 0.2-0.5-0.1-1-0.6-1.9-1-1.7-1.5-1.7-2-1.5-2-0.9-2.5-0.8-2.5-0.2-2.1 0.2-2 0.6-1.6 0.9-1.4 1.2-1.2 1.8-0.8 2.2-0.3 2.3 0.3 1 0.7 0.5 0 2z"/>
<path fill="#ff6400" d="M118.7 220.6l19.4 0 0-2 0.7-0.5 0.4-1-0.5-2.5-0.7-2-1-1.4-1-1-1.5-1-2-0.7-2-0.3-2.6 0.1-2 0.5-2 0.8-2 1.2-1.5 1.3-1.5 1.9-0.7 1.6-0.4 1.5 0.2 1 0.7 0.5 0 2zM185.9 220.6l19.4 0 0-2 0.7-0.5 0.2-0.5-0.1-1-0.7-2-1-1.5-1.3-1.5-2-1.5-2-1-2.5-0.7-2.5-0.2-2.1 0.2-2 0.6-1.5 0.8-1.5 1.4-1 1.4-0.9 2.5-0.3 2 0.4 1 0.7 0.5 0 2z"/>
<path fill="#ff5d00" d="M118.8 220.6l19.2 0 0-2 0.7-0.5 0.3-0.5 0-1-0.3-1.5-0.7-2-1-1.5-1-1.1-1.5-0.9-2-0.8-2-0.3-2.1 0.1-2 0.3-2 0.7-2 1.1-1.5 1.2-1.5 1.7-1 1.8-0.5 1.7 0.2 1 0.7 0.5 0 2zM186 220.6l19.2 0 0-2 0.7-0.5 0.2-1-0.5-1.7-1-1.8-1.5-1.7-2-1.5-2-1-2.5-0.7-2.5-0.2-2.1 0.2-2 0.6-1.5 0.9-1.5 1.4-1 1.5-0.7 2-0.3 2 0.3 1 0.7 0.5 0 2z"/>
<path fill="#ff5500" d="M118.9 220.6l19 0 0-2 0.7-0.5 0.3-0.5-0.2-2-0.7-2-0.9-1.5-1.1-1.2-1.5-1-2-0.8-2-0.3-2.1 0-2 0.4-2 0.7-2 1.1-1.5 1.1-1.5 1.8-0.9 1.7-0.5 1.5 0.2 1 0.7 0.5 0 2zM186.1 220.6l19 0 0-2 0.7-0.5 0.2-1-0.7-2-0.9-1.5-1.3-1.5-2-1.5-2-0.9-2-0.6-2.5-0.3-2.1 0.1-2 0.5-1.5 0.8-1.5 1.2-1.2 1.7-0.9 2-0.3 2 0.3 1 0.7 0.5 0 2z"/>
<path fill="#ff4e00" d="M119 220.6l18.8 0 0-2 0.7-0.5 0.3-0.5-0.3-2-0.5-1.6-1-1.7-1-1.1-1.5-1-2-0.8-2-0.3-2.1 0-2 0.3-2 0.7-2 1.1-1.5 1.2-1.5 1.8-0.7 1.4-0.5 1.5 0.1 1 0.7 0.5 0 2zM186.2 220.6l18.8 0 0-2 0.7-0.5 0.1-1-0.7-2-1-1.6-1.5-1.5-1.5-1.1-2-1-2-0.6-2.5-0.2-2.1 0.1-2 0.5-1.5 0.8-1.5 1.2-1 1.4-0.9 2-0.4 2 0.3 1 0.7 0.5 0 2z"/>
<path fill="#ff4700" d="M119.2 220.6l18.5 0 0-2 0.7-0.5 0.2-0.5-0.1-1.5-0.5-1.7-1-1.7-1-1.1-1.5-1.1-2-0.8-2-0.3-2.1 0-2 0.3-2 0.7-2 1.1-1.5 1.2-1.5 1.8-0.8 1.6-0.3 1.5 0.2 0.5 0.7 0.5 0 2zM186.3 220.6l18.5 0 0-2 0.7-0.5 0.2-1-0.6-1.7-1-1.6-1.5-1.6-1.5-1-2-1-2-0.6-2.5-0.3-2.1 0.2-2 0.5-1.5 0.8-1.5 1.3-1 1.3-0.7 1.7-0.5 2 0.3 1 0.7 0.5 0 2z"/>
<path fill="#ff3f00" d="M119.3 220.6l18.3 0 0-2 0.7-0.5 0.2-0.5 0-1.2-0.6-1.8-0.9-1.6-1-1.1-1.5-1.1-1.5-0.7-2-0.4-2.1-0.1-2 0.2-2 0.6-2 1-1.5 1.1-1.5 1.6-0.9 1.5-0.6 1.5 0.2 1 0.7 0.5 0 2zM186.4 220.6l18.3 0 0-2 0.7-0.5 0.2-1-0.8-2-1.1-1.5-1.6-1.5-1.5-1-2-0.8-2-0.5-2-0.2-2.1 0.1-2 0.6-1.5 0.8-1.5 1.3-1 1.4-0.7 1.8-0.4 1.5 0.3 1 0.7 0.5 0 2z"/>
<path fill="#ff3800" d="M119.4 220.6l18 0 0-2 0.8-0.5 0.2-0.5 0-1-0.5-1.5-0.9-1.7-1-1.2-1.5-1.1-1.5-0.7-2-0.5-2.1 0-2 0.2-2 0.6-2 0.9-1.5 1.1-1.5 1.6-1 1.8-0.4 1.5 0.2 0.5 0.7 0.5 0 2zM186.6 220.6l18 0 0-2 0.7-0.5 0.1-1-0.8-2-1-1.4-1.5-1.4-1.5-0.9-2-0.9-2-0.5-2-0.2-2.1 0.2-2 0.6-1.5 0.8-1.5 1.3-1 1.5-0.6 1.4-0.3 1.5 0.2 1 0.8 0.5 0 2z"/>
<path fill="#ff3000" d="M119.6 220.6l17.7 0 0-2 0.7-0.5 0.3-0.5-0.1-1-0.5-1.5-0.8-1.5-0.9-1.1-1.5-1.1-1.5-0.7-2-0.5-2.1-0.1-2 0.2-2 0.6-2 1-1.5 1.1-1.5 1.6-1 1.8-0.3 1.2 0.2 0.5 0.8 0.5 0 2zM186.7 220.6l17.7 0 0-2 0.8-0.5 0.1-1-0.7-1.7-1-1.4-1.5-1.4-1.5-1-2-0.9-2-0.4-2-0.2-2.1 0.2-2 0.6-1.5 0.8-1.5 1.4-1 1.5-0.8 2.5 0.3 1 0.7 0.5 0 2z"/>
<path fill="#ff2900" d="M119.7 220.6l17.5 0 0-2 0.7-0.5 0.3-0.5-0.1-1-0.6-1.7-1-1.5-1-1-1.5-1-1.5-0.6-2-0.4-2.1 0-2 0.3-2 0.7-2 1-1.5 1.3-1 1.2-0.9 1.7-0.2 1 0.2 0.5 0.7 0.5 0 2zM186.8 220.6l17.5 0 0-2 0.7-0.5 0.2-1-0.6-1.4-1-1.5-1.5-1.4-1.5-1-2-0.8-2-0.5-2-0.2-2.1 0.2-2 0.6-1.5 0.9-1.2 1.1-1.1 1.5-0.6 1.5-0.3 1 0.3 1 0.7 0.5 0 2z"/>
<path fill="#ff2200" d="M119.8 220.6l17.2 0 0-2 0.8-0.5 0.2-0.5-0.1-1-0.5-1.5-0.9-1.4-1-1.1-1.5-1-1.5-0.6-2-0.4-2.1 0-2 0.3-2 0.7-2 1.1-1.5 1.2-1 1.3-0.8 1.4-0.2 1 0.2 0.5 0.7 0.5 0 2zM187 220.6l17.2 0 0-2 0.7-0.5 0.2-0.5-0.1-0.5-0.7-1.5-1.2-1.7-1.5-1.2-1.5-0.9-1.5-0.6-2-0.5-2-0.1-2.1 0.2-2 0.6-1.5 0.9-1 0.8-1.1 1.5-0.7 1.5-0.2 1 0.2 1 0.8 0.5 0 2z"/>
<path fill="#ff1a00" d="M120 220.6l16.9 0 0-2 0.8-0.5 0.2-1-0.5-1.5-0.9-1.6-1-1.1-1.5-1-1.5-0.6-2-0.4-1.6-0.1-2 0.3-2 0.5-2 1-1.5 1.1-1.2 1.4-0.9 1.5-0.3 1 0.2 0.5 0.8 0.5 0 2zM187.1 220.6l16.9 0 0-2 0.8-0.5 0.2-0.5-0.1-0.5-0.7-1.5-1.1-1.4-1.5-1.3-1.5-0.9-1.5-0.6-2-0.4-2-0.2-2.1 0.2-1.5 0.5-1.5 0.7-1.5 1.2-1 1.3-0.6 1.4-0.3 1.5 0.2 0.5 0.8 0.5 0 2z"/>
<path fill="#ff1300" d="M120.1 220.6l16.7 0 0-2 0.8-0.5 0.2-1-0.5-1.5-0.8-1.3-1-1.1-1.5-1-1.5-0.7-1.5-0.3-2.1-0.1-2 0.2-2 0.5-2 1-1.5 1.1-1 1.2-1 1.5-0.2 1 0.1 0.5 0.8 0.5 0 2zM187.2 220.6l16.7 0 0-2 0.8-0.5 0.1-0.5 0-0.5-0.7-1.4-1-1.3-1.5-1.3-1.5-0.8-1.5-0.6-2-0.5-2-0.1-2.1 0.2-1.5 0.4-1.5 0.7-1.5 1.3-1 1.3-0.7 1.6-0.1 1 0.2 0.5 0.8 0.5 0 2z"/>
<path fill="#f60b00" d="M120.3 220.6l16.3 0 0-2 0.8-0.5 0.2-1-0.3-1-0.8-1.5-1-1.1-1.5-1.1-1.5-0.6-2-0.4-1.6-0.1-2 0.2-2 0.6-1.5 0.6-1.5 1-1.5 1.6-0.8 1.3-0.3 1 0.2 0.5 0.8 0.5 0 2zM187.4 220.6l16.3 0 0-2 0.8-0.5 0.2-0.5-0.1-0.5-0.5-1.1-1.1-1.4-1.4-1.2-1.5-0.9-1.5-0.6-2-0.5-2-0.1-2.1 0.2-1.5 0.4-1.5 0.8-1.5 1.3-1 1.4-0.5 1.2-0.2 1 0.3 0.5 0.8 0.5 0 2z"/>
<path fill="#ed0400" d="M120.4 220.6l16.1 0 0-2 0.8-0.5 0.2-0.5 0-0.5-0.5-1.4-1-1.4-1-1-1.5-0.9-1.5-0.5-1.5-0.3-1.6-0.1-2 0.2-2 0.6-1.5 0.7-1.5 1-1.5 1.5-0.7 1.1-0.3 1 0.2 0.5 0.8 0.5 0 2zM187.5 220.6l16.1 0 0-2 0.8-0.5 0.2-0.5-0.1-0.5-0.9-1.5-1-1.2-1.5-1.1-1.5-0.8-1.5-0.5-2-0.4-2-0.1-1.6 0.2-1.5 0.5-1.5 0.8-1.5 1.3-0.9 1.3-0.5 1-0.1 1 0.2 0.5 0.8 0.5 0 2z"/>
<path fill="#e40000" d="M120.5 220.6l15.9 0 0-2 0.8-0.5 0.2-0.5 0-0.5-0.4-1.1-1-1.5-1-0.9-1.5-1-1.5-0.5-2.1-0.3-2 0-1.5 0.3-2 0.6-1.5 0.8-1.5 1.1-1 1.2-0.5 0.8-0.3 1 0.2 0.5 0.7 0.5 0 2zM187.6 220.6l15.9 0 0-2 0.7-0.5 0.2-0.5-0.3-1.1-1-1.4-1.5-1.3-1.5-0.9-1.5-0.6-2-0.4-2-0.2-1.6 0.2-2 0.5-1.5 0.8-1 0.9-1.2 1.5-0.5 1-0.2 1 0.2 0.5 0.8 0.5 0 2z"/>
<path fill="#da0000" d="M120.7 220.6l15.5 0 0-2 0.8-0.5 0.2-0.5 0-0.5-0.4-1-0.8-1.3-1-1-1.5-0.9-1.5-0.6-2.1-0.3-1.5 0-2 0.3-2 0.6-1.5 0.8-1.5 1.2-1 1.1-0.7 1.6 0.2 0.5 0.8 0.5 0 2zM187.8 220.6l15.5 0 0-2 0.8-0.5 0.2-0.5-0.4-1-1.1-1.5-1.2-1.1-1.5-0.9-1.5-0.6-2-0.4-2-0.1-1.6 0.1-2 0.6-1.5 0.8-1 0.8-1 1.3-0.6 1-0.1 1 0.2 0.5 0.8 0.5 0 2z"/>
<path fill="#d10000" d="M120.9 220.6l15.2 0 0-2 0.8-0.5 0.2-0.5 0-0.5-0.6-1.3-1-1.3-1-0.8-1.5-0.8-1.5-0.5-1.6-0.2-2 0-1.5 0.3-2 0.6-1.5 0.8-1.5 1.2-1 1.2-0.5 1.3 0.1 0.5 0.9 0.5 0 2zM187.9 220.6l15.2 0 0-2 0.9-0.5 0.1-0.5-0.3-1-1.2-1.5-1-0.9-1.5-0.9-1.5-0.6-2-0.4-2-0.1-1.6 0.1-1.5 0.4-1.5 0.7-1.5 1.1-1 1.3-0.5 1-0.1 0.8 0.2 0.5 0.8 0.5 0 2z"/>
<path fill="#c80000" d="M121 220.6l14.9 0 0-2 0.8-0.5 0.3-0.5-0.1-0.5-0.4-1-1-1.3-1-0.9-1.5-0.8-1.5-0.5-1.6-0.2-1.5 0-2 0.3-2 0.6-1.5 0.8-1.5 1.2-1 1.2-0.4 1.1 0.2 0.5 0.8 0.5 0 2zM188.1 220.6l14.9 0 0-2 0.8-0.5 0.2-0.5-0.4-1-1-1.3-1-0.8-1.5-1-1.5-0.6-2-0.4-2-0.1-1.6 0.1-1.5 0.4-1.5 0.7-1.5 1.2-1 1.3-0.5 1.5 0.3 0.5 0.8 0.5 0 2z"/>
<path fill="#bf0000" d="M121.2 220.6l14.5 0 0-2 0.9-0.5 0.2-0.5 0-0.5-0.5-1-0.8-1.1-1-0.8-1.5-0.9-1.5-0.4-1.6-0.3-2 0.1-1.5 0.2-2 0.6-1.5 0.8-1.5 1.2-0.8 1.1-0.4 1 0.1 0.5 0.9 0.5 0 2zM188.3 220.6l14.5 0 0-2 0.9-0.5 0.1-0.5-0.4-1-0.8-1.1-1.5-1.2-1.5-0.8-3-0.8-2-0.1-1.6 0.2-1.5 0.3-1.5 0.7-1.5 1.2-0.8 1.1-0.5 1.5 0.2 0.5 0.9 0.5 0 2z"/>
<path fill="#b60000" d="M121.3 220.6l14.3 0 0-2 0.9-0.5 0.2-0.5-0.1-0.5-0.5-1-0.8-1-1.3-1-1-0.5-1.5-0.5-1.6-0.3-2 0.1-1.5 0.2-2 0.6-1.5 0.8-1.3 1.1-0.8 1-0.5 1 0.2 0.5 0.8 0.5 0 2zM188.4 220.6l14.3 0 0-2 0.8-0.5 0.2-0.5-0.5-1-0.8-1-1.3-1.1-1.5-0.8-3-0.8-2-0.1-1.6 0.2-1.5 0.4-1.5 0.7-1 0.7-1.1 1.3-0.6 1.5 0.2 0.5 0.9 0.5 0 2z"/>
<path fill="#ad0000" d="M121.5 220.6l13.9 0 0-2 0.9-0.5 0.2-0.5-0.1-0.5-0.5-1-0.9-1.1-1-0.7-1.5-0.7-1.5-0.4-1.6-0.2-3 0.3-1.5 0.4-1.5 0.7-1.5 1.1-1 1.1-0.4 1 0.1 0.5 0.9 0.5 0 2zM188.6 220.6l13.9 0 0-2 0.9-0.5 0.1-0.5-0.4-1-1-1.1-2.5-1.6-3-0.8-2-0.1-1.6 0.2-1.5 0.4-1.5 0.7-1.5 1.2-0.7 1.1-0.3 1 0.2 0.5 0.9 0.5 0 2z"/>
<path fill="#a40000" d="M121.7 220.6l13.5 0 0-2 1-0.5 0.2-0.5-0.1-0.5-0.6-1-0.7-0.8-1-0.8-1.5-0.7-1.5-0.4-1.6-0.2-3 0.3-1.5 0.4-1.5 0.7-1.5 1.1-1 1.2-0.3 0.7 0.2 0.5 0.9 0.5 0 2zM188.8 220.6l13.5 0 0-2 0.9-0.5 0.2-0.5-0.5-1-0.8-0.9-1-0.8-1.5-0.8-3-0.8-2-0.1-1.6 0.2-1.5 0.4-1.5 0.7-1 0.8-1 1.3-0.4 1 0.2 0.5 1 0.5 0 2z"/>
<path fill="#9b0000" d="M121.9 220.6l13.2 0 0-2 0.9-0.5 0.2-0.5-0.1-0.5-0.6-1-1-1-1-0.7-1.5-0.6-3.1-0.4-3 0.4-1.5 0.5-1.5 0.8-1.1 1-0.8 1-0.2 0.5 0.2 0.5 0.9 0.5 0 2zM188.9 220.6l13.2 0 0-2 0.9-0.5 0.2-0.5-0.5-1-1-1-1.1-0.8-1.5-0.7-3-0.6-2-0.1-1.6 0.3-2.5 1-1 0.9-1 1.2-0.2 0.8 0.2 0.5 0.9 0.5 0 2z"/>
<path fill="#920000" d="M122.1 220.6l12.8 0 0-2 0.9-0.5 0.3-0.5-0.1-0.4-0.5-0.9-1-1-1-0.6-1.5-0.7-3.1-0.4-3 0.4-1.5 0.5-1.5 0.8-1 0.8-0.7 1-0.2 0.5 0.1 0.5 1 0.5 0 2zM189.1 220.6l12.8 0 0-2 1-0.5 0.1-0.5-0.4-0.9-1-1-2.5-1.4-3-0.7-2 0-1.6 0.3-1.5 0.5-1.2 0.7-1.1 1-0.6 1-0.2 0.5 0.3 0.5 0.9 0.5 0 2z"/>
<path fill="#890000" d="M122.3 220.6l12.4 0 0-2 1-0.5 0.2-0.5-0.4-1-0.5-0.6-1-0.8-1.5-0.8-1.5-0.4-1.6-0.2-3 0.2-1.5 0.5-1.5 0.7-1.2 0.9-0.9 1-0.2 0.5 0.2 0.5 1 0.5 0 2zM189.3 220.6l12.4 0 0-2 1-0.5 0.2-0.5-0.3-0.6-1-1.1-1.5-1-1.5-0.6-3-0.5-3.1 0.3-2.5 1.1-1 0.9-0.8 1-0.1 0.5 0.2 0.5 1 0.5 0 2z"/>
<path fill="#800000" d="M122.5 220.6l12 0 0-2 1-0.5 0.2-0.5-0.2-0.7-0.7-0.8-0.8-0.7-1.5-0.8-1.5-0.4-1.6-0.2-3 0.2-1.5 0.5-1.5 0.7-1 0.7-0.9 1-0.2 0.5 0.2 0.5 1 0.5 0 2zM189.5 220.6l12 0 0-2 1-0.5 0.2-0.5-0.6-1-1-0.9-2.5-1.2-3-0.5-3.1 0.3-1.5 0.5-1 0.6-1 0.8-0.6 0.9-0.1 0.5 0.2 0.5 1 0.5 0 2z"/>
<path fill="none" stroke="#00b8ff" stroke-width="1" stroke-opacity="0.92" d="M145.3 220.6l0-2 0.2-0.1 5.3-2.9 7.7-4.9 2-0.9 1.5-0.3 1.5 0.3 2 0.9 7.7 4.9 5.3 2.9 0.2 0.1 0 2M212.4 220.6l0-2 0.2-0.2 17.8-13.8 3.9-3.5 4.2-4.5 2.4-3 2.3-3.5 2.5-4.5 2.9-6 2.7-6.5 2.3-6.6 1.6-6.5 1-6 0.4-6.5-0.3-6.5-0.8-5.5-1.6-6-2.6-7-3.2-6.3-3.8-6.2-6.7-9.5-4.5-5.4-5-5.2-6.5-5.8-6-4.7-5.5-3.6-5-2.6-5.5-2.1-8.1-2.4-7.5-1.8-7.5-1.3-7-0.8-7.5-0.2-7.5 0.2-7 0.8-7.5 1.3-7.5 1.8-8.1 2.4-5.5 2.1-5 2.6-5.5 3.6-6 4.7-6.5 5.8-5 5.2-4.5 5.4-6.7 9.5-3.8 6.2-3.2 6.3-2.6 7-1.6 6-0.8 5.5-0.3 6.5 0.4 6.5 1 6 1.6 6.5 2.3 6.6 2.7 6.5 2.9 6 2.5 4.5 2.3 3.5 2.4 3 4.2 4.5 3.9 3.5 17.8 13.8 0.2 0.2 0 2"/>
<path fill="none" stroke="#0ff8e7" stroke-width="1" stroke-opacity="0.92" d="M144.8 220.6l0-2 0.2-0.2 5.9-3.8 8.1-6.2 1.5-0.8 1.5-0.4 1.5 0.4 1.5 0.8 8.1 6.2 5.9 3.8 0.2 0.2 0 2M212 220.6l0.1-2.1 15.2-14.4 4-4.5 2.4-3.5 2.5-5 1.2-3 1.1-3.5 2.3-10.5 0.7-4.6 0.2-5-0.1-5-0.6-4.5-1.3-5-1.6-4.4-2-4.1-2.7-4.5-3.3-4.5-3.8-4.5-4.2-4.4-4.5-4-3.5-2.7-4.5-2.8-5.5-3-6-2.7-5.6-2.1-6-1.9-6-1.4-6-0.9-6-0.6-6.5-0.2-6.5 0.2-6 0.6-6 0.9-6 1.4-6 1.9-5.6 2.1-6 2.7-5.5 3-4.5 2.8-3.5 2.7-4.5 4-4.2 4.4-3.8 4.5-3.3 4.5-2.7 4.5-2 4.1-1.6 4.4-1.3 5-0.6 4.5-0.1 5 0.2 5 0.7 4.6 2.3 10.5 1.1 3.5 1.2 3 2.5 5 2.4 3.5 4 4.5 15.2 14.4 0.1 2.1"/>
<path fill="none" stroke="#46ffb1" stroke-width="1" stroke-opacity="0.92" d="M144.2 220.6l0-2 0.3-0.2 7.3-5.8 7.7-7.2 1.5-0.8 1-0.2 1 0.2 1.5 0.8 7.7 7.2 7.3 5.8 0.3 0.2 0 2M211.6 220.6l0-2 14.1-17.5 2.5-4 1.4-3.5 0.9-4 0.5-3.5 0.1-2.5-0.2-3-0.6-4.5-0.8-3.5-1.2-3.6-1.7-3.5-2-3.3-3-4.3-3.5-4.2-3-3.1-2.5-2.1-3.5-2.6-4-2.6-4.5-2.6-4.5-2.3-5.1-2.2-4.5-1.8-4.5-1.3-4.5-1.1-5-0.9-5.5-0.5-5-0.3-5 0.3-5.5 0.5-5 0.9-4.5 1.1-4.5 1.3-4.5 1.8-5.1 2.2-4.5 2.3-4.5 2.6-4 2.6-3.5 2.6-2.5 2.1-3 3.1-3.5 4.2-3 4.3-2 3.3-1.7 3.5-1.2 3.6-0.8 3.5-0.6 4.5-0.2 3 0.1 2.5 0.5 3.5 0.9 4 1.4 3.5 2.5 4 14.1 17.5 0 2"/>
<path fill="none" stroke="#7dff7a" stroke-width="1" stroke-opacity="0.92" d="M143.6 220.6l0-2 5.4-5 3-3 6-7.7 1-1 1-0.6 2-0.4 2 0.4 1 0.6 1 1 6 7.7 3 3 5.4 5 0 2M211 220.6l0-2 0.7-1 3-5 7-13 1.1-3 0.9-3.5 0.3-3.5-0.7-3.5-1.1-2.5-3.7-6.5-2.4-2.6-3.5-2.4-13-6.9-4.5-2.2-3.6-1.4-8-2.6-7.5-1.8-7-1.1-7-0.2-7 0.2-7 1.1-7.5 1.8-8 2.6-3.6 1.4-4.5 2.2-13 6.9-3.5 2.4-2.4 2.6-3.7 6.5-1.1 2.5-0.7 3.5 0.3 3.5 0.9 3.5 1.1 3 7 13 3 5 0.7 1 0 2"/>
<path fill="none" stroke="#b4ff43" stroke-width="1" stroke-opacity="0.92" d="M142.9 220.6l0-2 6-7 2.7-4 1.5-3 2.4-6.2 2-3.7 1-1.4 1.5-1.4 1-0.5 1-0.2 1 0.2 1 0.5 1.5 1.4 1 1.4 2 3.7 2.4 6.2 1.5 3 2.7 4 6 7 0 2M210.2 220.6l0-2 0.8-1 2.1-5.5 1.7-8 2-6.5 0.6-2.5 0.2-2.5-0.3-2-0.7-2-1-1.7-1.5-1.9-2.5-2-2-1.1-3-1.1-12-2.1-6.1-0.5-6.5-0.2-5 0.2-4.5 0.6-3.5 0.9-5.5 2-1.5 0.3-2-0.4-5.5-2.1-5.5-1.1-6-0.4-8 0.2-7.1 0.7-9 1.6-3.5 1-2.5 1.2-3 2.3-1.9 2.6-1.3 3-0.3 3 0.5 3 2.3 7.5 1.4 7 2.4 6.5 0.8 1 0 2"/>
<path fill="none" stroke="#d1ff26" stroke-width="1" stroke-opacity="0.92" d="M142.4 220.6l0-2 0.6-0.5 5.4-7.5 1.5-2.5 1-2.5 0.7-3 0.5-3.5-0.1-3.5-0.4-2.5-0.9-2-1.2-1.8-2-1.7-2-1.2-2.5-0.9-3-0.6-3.5-0.4-4-0.2-9.1 0.2-2 0.2-2 0.5-2.5 1-2.5 1.6-1.9 1.8-1.1 1.5-0.7 2-0.3 2.5 1.1 7 0.2 8 0.4 2.5 1.2 4 0.5 1 0.5 0.5 0 2M209.7 220.6l0-2 0.5-0.5 0.5-1 1.2-4 0.4-2.5 0.2-8 1.1-7-0.3-2.5-0.7-2-1.1-1.5-1.9-1.8-2.5-1.6-2.5-1-2-0.5-2-0.2-9.1-0.2-4 0.2-3.5 0.4-3 0.6-2.5 0.9-2 1.2-2 1.7-1.2 1.8-0.9 2-0.4 2.5-0.1 3.5 0.5 3.5 0.7 3 1 2.5 1.5 2.5 5.4 7.5 0.6 0.5 0 2"/>
<path fill="none" stroke="#ebff0c" stroke-width="1" stroke-opacity="0.92" d="M141.9 220.6l0-2 0.9-1 4.3-7 1.1-2.5 0.6-2 0.4-2.5-0.1-2.5-0.5-2.5-0.9-2-1.2-1.9-1.5-1.4-2-1.4-2.5-1.1-3-0.8-3-0.5-9.1-0.6-2 0.1-1.5 0.4-1.5 0.6-1.5 0.9-1.4 1.2-1.1 1.2-0.8 1.3-0.6 1.5-0.4 1.5-0.5 5.5-1.1 6-0.1 2 0.2 2.5 0.7 3.5 0.4 1 0.6 0.5 0 2M209.2 220.6l0-2 0.6-0.5 0.4-1 0.7-3.5 0.2-2.5-0.1-2-1.1-6-0.5-5.5-0.4-1.5-0.6-1.5-0.8-1.3-1.1-1.2-1.4-1.2-1.5-0.9-1.5-0.6-1.5-0.4-2-0.1-9.1 0.6-3 0.5-3 0.8-2.5 1.1-2 1.4-1.5 1.4-1.2 1.9-0.9 2-0.5 2.5-0.1 2.5 0.4 2.5 0.6 2 1.1 2.5 4.3 7 0.9 1 0 2"/>
<path fill="none" stroke="#ebff0c" stroke-width="1" stroke-opacity="0.92" d="M141.3 220.6l0-2 1-1 3.3-7 0.8-2.5 0.3-2 0-1.5-0.4-2-0.5-1.5-0.9-1.5-1.4-1.7-2-1.5-2-1-2.5-0.8-2.5-0.6-6.6-0.6-2 0-1.5 0.3-2.5 1.2-2.2 2.2-1.8 3-3.3 8.5-0.6 3-0.1 2 0.3 2.5 0.3 1.5 0.3 0.5 0.6 0.5 0 2M208.6 220.6l0-2 0.6-0.5 0.3-0.5 0.3-1.5 0.3-2.5-0.1-2-0.6-3-3.3-8.5-1.8-3-2.2-2.2-2.5-1.2-1.5-0.3-2 0-6.6 0.6-2.5 0.6-2.5 0.8-2 1-2 1.5-1.4 1.7-0.9 1.5-0.5 1.5-0.4 2 0 1.5 0.3 2 0.8 2.5 3.3 7 1 1 0 2"/>
</g>
<rect x="35.30" y="17.90" width="253.40" height="202.70" fill="none" stroke="#000" stroke-width="0.6"/>
<text x="35.50" y="230.20" text-anchor="middle" class="tk">−0.15</text>
<text x="77.73" y="230.20" text-anchor="middle" class="tk">−0.10</text>
<text x="119.97" y="230.20" text-anchor="middle" class="tk">−0.05</text>
<text x="160.90" y="230.20" text-anchor="middle" class="tk">0.00</text>
<text x="203.13" y="230.20" text-anchor="middle" class="tk">0.05</text>
<text x="245.37" y="230.20" text-anchor="middle" class="tk">0.10</text>
<text x="287.60" y="230.20" text-anchor="middle" class="tk">0.15</text>
<text x="32.30" y="223.40" text-anchor="end" class="tk">0.00</text>
<text x="32.30" y="181.17" text-anchor="end" class="tk">0.05</text>
<text x="32.30" y="138.94" text-anchor="end" class="tk">0.10</text>
<text x="32.30" y="96.71" text-anchor="end" class="tk">0.15</text>
<text x="32.30" y="54.48" text-anchor="end" class="tk">0.20</text>
<path d="M35.30 220.60v-2.0M35.30 17.90v2.0M77.53 220.60v-2.0M77.53 17.90v2.0M119.77 220.60v-2.0M119.77 17.90v2.0M162.00 220.60v-2.0M162.00 17.90v2.0M204.23 220.60v-2.0M204.23 17.90v2.0M246.47 220.60v-2.0M246.47 17.90v2.0M288.70 220.60v-2.0M288.70 17.90v2.0M35.30 220.60h2.0M288.70 220.60h-2.0M35.30 178.37h2.0M288.70 178.37h-2.0M35.30 136.14h2.0M288.70 136.14h-2.0M35.30 93.91h2.0M288.70 93.91h-2.0M35.30 51.68h2.0M288.70 51.68h-2.0" stroke="#000" stroke-width="0.5" fill="none"/>
<text x="162.40" y="244.30" text-anchor="middle" class="lb">Y (m)</text>
<text transform="translate(9.20 120.05) rotate(-90)" text-anchor="middle" class="lb">Z (m)</text>
<linearGradient id="g17" x1="0" y1="0" x2="0" y2="1"><stop offset="0.0000" stop-color="#800000"/><stop offset="0.0312" stop-color="#9f0000"/><stop offset="0.0625" stop-color="#c40000"/><stop offset="0.0938" stop-color="#e80000"/><stop offset="0.1250" stop-color="#ff1e00"/><stop offset="0.1562" stop-color="#ff3b00"/><stop offset="0.1875" stop-color="#ff5900"/><stop offset="0.2188" stop-color="#ff7700"/><stop offset="0.2500" stop-color="#ff9400"/><stop offset="0.2812" stop-color="#ffb200"/><stop offset="0.3125" stop-color="#ffd000"/><stop offset="0.3438" stop-color="#feed00"/><stop offset="0.3750" stop-color="#e4ff13"/><stop offset="0.4062" stop-color="#caff2c"/><stop offset="0.4375" stop-color="#b1ff46"/><stop offset="0.4688" stop-color="#97ff60"/><stop offset="0.5000" stop-color="#7dff7a"/><stop offset="0.5312" stop-color="#63ff94"/><stop offset="0.5625" stop-color="#49ffad"/><stop offset="0.5938" stop-color="#30ffc7"/><stop offset="0.6250" stop-color="#16ffe1"/><stop offset="0.6562" stop-color="#00e0fb"/><stop offset="0.6875" stop-color="#00c0ff"/><stop offset="0.7188" stop-color="#00a0ff"/><stop offset="0.7500" stop-color="#0080ff"/><stop offset="0.7812" stop-color="#0060ff"/><stop offset="0.8125" stop-color="#0040ff"/><stop offset="0.8438" stop-color="#0020ff"/><stop offset="0.8750" stop-color="#0000ff"/><stop offset="0.9062" stop-color="#0000ed"/><stop offset="0.9375" stop-color="#0000c8"/><stop offset="0.9688" stop-color="#0000a4"/><stop offset="1.0000" stop-color="#000080"/></linearGradient>
<rect x="304.40" y="4.90" width="11.55" height="228.50" fill="url(#g17)" stroke="#000" stroke-width="0.6"/>
<text x="318.75" y="7.70" class="tk">22.00</text>
<text x="318.75" y="36.26" class="tk">21.75</text>
<text x="318.75" y="64.83" class="tk">21.50</text>
<text x="318.75" y="93.39" class="tk">21.25</text>
<text x="318.75" y="121.95" class="tk">21.00</text>
<text x="318.75" y="150.51" class="tk">20.75</text>
<text x="318.75" y="179.08" class="tk">20.50</text>
<text x="318.75" y="207.64" class="tk">20.25</text>
<text x="318.75" y="236.20" class="tk">20.00</text>
<path d="M315.95 4.90h-2.0M315.95 33.46h-2.0M315.95 62.02h-2.0M315.95 90.59h-2.0M315.95 119.15h-2.0M315.95 147.71h-2.0M315.95 176.28h-2.0M315.95 204.84h-2.0M315.95 233.40h-2.0" stroke="#000" stroke-width="0.5" fill="none"/>
<text transform="translate(352.60 120.65) rotate(-90)" text-anchor="middle" class="lb">Log10(n)</text>
<text class="cp" y="267.7"><tspan x="77.9" textLength="14.7" lengthAdjust="spacingAndGlyphs">(a)</tspan><tspan x="97.5" textLength="23.2" lengthAdjust="spacingAndGlyphs">with</tspan><tspan x="126.0" textLength="11.7" lengthAdjust="spacingAndGlyphs">no</tspan><tspan x="143.5" textLength="59.1" lengthAdjust="spacingAndGlyphs">interaction,</tspan><tspan x="210.2" class="el">ℓ</tspan><tspan x="215.8" dy="1.9" class="sb" textLength="16.2" lengthAdjust="spacingAndGlyphs">mfp</tspan><tspan x="237.0" dy="-1.9" textLength="8.2" lengthAdjust="spacingAndGlyphs">&gt;</tspan><tspan x="249.4" textLength="14.0" lengthAdjust="spacingAndGlyphs">0.1</tspan><tspan x="269.8" textLength="10.4" lengthAdjust="spacingAndGlyphs">m</tspan></text>
<g>
<rect x="36.3" y="312.4" width="253.3" height="202.1" fill="#000080"/>
<path fill="#00008d" d="M112.5 514.5l32.9 0 0-2 0.5-0.5 5.8-4 8.2-6.9 1.5-0.9 1-0.2 1.6 0.2 1.5 0.9 8.1 6.9 5.9 4.1 0.4 0.4 0 2 32.9 0 0-2 0.7-0.7 6.5-5.6 8.9-6.7 3.7-3 4.8-4.5 4.2-4.5 3.5-5 3.6-6.5 2.5-5.5 2.2-6.5 1-4.5 0.5-5 0-5-0.5-5-1.1-5-1.5-4.5-1.6-3.5-2.6-4.2-3.1-4-3.5-4-13.1-13.4-11.4-12-3.4-4.5-5.6-8.1-8.3-11.4-10.5-13.5-5.9-7-5.3-5.5-5.6-5-4.9-3.7-2-1.1-2-0.8-0.6 0-1 0.3-2.6 1.3-2.4 1.6-3.6 2.9-6.1 5.5-6.4 7-4.5 5.5-10.1 13-8 11-5.5 8-3.5 4.5-11.3 12-12.5 12.8-5 5.8-2.9 4-2.2 3.5-1.5 3.3-1.2 3.7-1 4.5-0.7 5-0.1 5 0.5 5 0.8 4.5 1.4 4.5 1.9 5 2.5 5 4.1 7 2.2 3 1.8 2 4.5 4.5 3.3 3 12.1 9.3 6.5 5.6 0.6 0.6 0 2z"/>
<path fill="#000096" d="M112.5 514.5l32.9 0 0-2 0.5-0.5 6.4-4.5 7.6-6.6 1.5-0.9 1-0.2 1.6 0.3 1.5 0.9 7.5 6.5 6.5 4.5 0.4 0.5 0 2 32.9 0 0-2 0.7-0.8 6.5-5.6 8.7-6.6 3.6-3 4.2-4 4.6-5 3.5-5 3.3-6 2.4-5.5 2.1-6 1-4.5 0.5-4.5 0-5-0.5-5-1-5-1.5-4.5-1.6-3.5-2.5-4-3.3-4.4-3.5-3.9-15.9-15.8-6.9-7-3.1-3.5-3.1-4-11.6-16.5-10.3-14-4.7-6-4.6-5.5-4.8-5-5-4.5-4-3-3-1.5-1.1 0.2-2 0.9-2.1 1.4-2.5 2-6 5.5-5.5 6-7.9 10-10 13.5-11.6 16.5-3.4 4.4-3 3.4-7.2 7.2-14.3 14.2-5.5 6.1-3.1 4.2-2 3.4-1.5 3.3-1.2 3.9-1 4.5-0.6 5-0.1 5 0.4 4.5 0.9 4.5 1.5 5 1.8 4.5 2.5 5 3.9 6.5 1.8 2.5 2.2 2.5 3.9 4 3.3 3 11.8 9.2 6.5 5.6 0.6 0.7 0 2z"/>
<path fill="#00009f" d="M112.5 514.5l32.8 0 0-2 0.5-0.5 6.4-4.5 7.7-6.8 1.5-0.8 1-0.3 1.6 0.3 1.5 0.9 7.6 6.7 6.4 4.5 0.5 0.5 0 2 32.8 0 0-2 0.4-0.5 6.3-5.6 8.9-6.9 3.6-3 4.1-4 4.5-5 3.1-4.5 3.3-6 2.7-6 1.8-5.5 1-4.5 0.4-4.5 0-4.5-0.6-5-0.9-4.5-1.5-4.5-1.8-4-2.1-3.5-3.5-4.5-3.6-4-20.4-19.6-6.1-6.5-4.3-5.5-22.2-31.5-4.5-6-4.2-5-4.2-4.5-4.3-4-3.2-2.4-2.5-1.3-0.6 0-2 0.9-3.8 2.8-4.8 4.5-5 5.5-7.8 10-21.8 31-4.3 5.5-2.6 3-4 4-18.9 18.1-3 3.1-2.9 3.4-2.6 3.7-2 3.3-1.5 3.5-1.2 3.5-1.1 4.5-0.6 5-0.1 4.5 0.3 4.5 0.8 4.5 1.4 4.5 2 5 2.4 5 2.3 4 1.9 3 1.6 2 2.7 3 3.4 3.5 3.3 3 10.4 8.1 7 6.2 0.6 0.7 0 2z"/>
<path fill="#0000a8" d="M112.6 514.5l32.7 0 0-2 0.5-0.5 6.2-4.5 7.9-6.9 1.5-0.9 1-0.3 1.6 0.3 1.5 0.9 7.8 6.9 6.2 4.5 0.5 0.5 0 2 32.7 0 0-2 0.5-0.5 6.3-5.8 12.2-9.7 4-4 4.5-5 3-4.5 3-5.5 2.4-5.5 1.9-5.5 1-4.5 0.4-4 0-4.5-0.5-5-1-4.5-1.4-4.5-1.8-4-2.2-3.5-3.4-4.5-4.1-4.4-19.7-18.2-6.4-6.5-2.8-3.5-3-4-20.6-30-7.5-10-4.2-5-3.8-4-3.5-3-3-1.8-0.6 0-2 1.1-3.5 2.7-4.5 4.5-4.2 5-7.9 10.5-20.9 30.5-5.5 7-6.4 6.5-18.1 16.6-3.5 3.5-2.5 2.8-2.8 3.7-2.3 3.6-1.8 3.9-1.3 4-1.1 4.5-0.6 4.5-0.2 4.5 0.4 4.5 0.7 4 1.5 5 1.8 4.5 2.4 5 2.3 4 2 3 4.7 5.5 5.7 5.5 10.6 8.4 6.5 5.9 0.7 0.7 0 2z"/>
<path fill="#0000b2" d="M112.6 514.5l32.6 0 0-2 0.5-0.5 6.2-4.5 8-7.1 1.5-0.9 1-0.2 1.6 0.3 1.5 0.9 7.9 7 6.1 4.4 0.6 0.6 0 2 32.6 0 0-2 0.4-0.5 6.9-6.3 8.4-6.7 3.5-3 3.5-3.5 4.3-5 2.7-4 2.7-5 2.7-6 1.7-5 0.9-4 0.5-4 0-4.5-0.4-4.5-0.9-4.5-1.5-4.8-1.9-4.2-2.2-3.6-3.5-4.6-4.5-4.7-20.5-18.1-3.5-3.4-2.8-3.2-3.2-3.9-3.5-4.9-19.3-28.7-7.5-10.5-3.6-4.5-3.6-3.9-3-2.6-2.5-1.6-0.6-0.1-1.5 0.9-3.4 2.8-3.4 3.5-4.1 5-7.9 11-19.7 29.3-3.5 4.8-3.2 3.9-2.8 3.1-3.6 3.4-18.9 16.6-3.5 3.5-3 3.4-2.7 3.6-2.1 3.5-1.6 3.5-1.3 4-1.1 4.5-0.6 4.5-0.2 4.5 0.3 4 0.8 4 1.4 4.5 2 5 2.4 5 1.7 3 2 3 5 6 5.2 5 10.3 8.3 6.5 5.9 0.7 0.8 0 2z"/>
<path fill="#0000bb" d="M112.6 514.5l32.6 0 0-2 0.5-0.5 6.1-4.5 8.1-7.3 1.5-0.9 1-0.2 1.6 0.3 1.5 0.9 8 7.2 6.1 4.5 0.5 0.5 0 2 32.6 0 0-2 0.4-0.5 6.9-6.4 8.1-6.6 3.5-3 3.4-3.5 4.2-5 2.4-3.5 2.4-4.5 2.7-6 1.9-5.5 1-4 0.4-4 0-4-0.5-4.5-1-4.5-1.5-4.5-1.8-4-2.2-3.7-3.5-4.5-4.5-4.7-4.5-4-16.3-13.7-3.2-3-3.2-3.5-3.6-4.5-4.2-5.9-17.8-27.1-8.1-11.5-3.1-4.1-3-3.4-2.6-2.5-2.4-1.8-0.6 0-1 0.6-3 2.5-2.9 3.2-3.6 4.5-8.8 12.5-18.2 27.7-4 5.6-3.5 4.4-3 3.3-3.3 3-19.7 16.7-3.5 3.4-3.1 3.5-2.4 3.2-2 3.3-1.9 4-1.4 4-1.1 4.5-0.6 4.5-0.2 4 0.4 4 0.8 4 1.3 4 2 5 2.3 5 3.3 5.5 5.5 6.5 4.6 4.5 10 8.1 6.5 6.1 0.7 0.8 0 2z"/>
<path fill="#0000c4" d="M112.7 514.5l32.5 0 0-2 0.4-0.5 6.1-4.5 8.2-7.5 1.5-0.8 1-0.3 1.6 0.3 1.5 0.9 7.5 6.9 6.7 5 0.4 0.5 0 2 32.6 0 0-2 0.4-0.5 6.4-6.1 8.4-6.9 3.3-3 3.4-3.5 4.1-5 2.4-3.5 2.1-4 2.8-6.5 1.8-5 0.9-4 0.4-3.5 0-4-0.5-4-1.1-4.5-1.5-4.5-1.8-4-2.2-3.7-3.5-4.5-4.7-4.8-4.8-4.2-16.2-12.9-3.3-3-3.1-3.5-3.6-4.5-4.3-6.1-7.5-11.4-9.9-15.5-8.6-12.5-5.1-6.5-2.4-2.5-2-1.6-0.6-0.1-0.5 0.4-2.6 2.3-2.7 3-3 4-9.4 13.5-16.8 26-4 5.8-3.5 4.6-3.2 3.6-3.3 3.2-5.8 4.9-12.7 10-4 3.5-3.4 3.5-3.3 4-2.6 4-2.1 4.5-1.6 4.5-1 4-0.6 4-0.1 4 0.2 3.5 0.9 4 1.2 4 2 5 2.3 5 3 5 5.3 6.5 4 4 10.8 8.9 6.3 6.1 0.5 0.5 0 2z"/>
<path fill="#0000cd" d="M112.7 514.5l32.4 0 0-2 0.5-0.5 6.6-5 7.7-7.1 1.5-0.9 1-0.2 1.6 0.2 1.5 0.9 7.6 7.1 6.6 5 0.5 0.5 0 2 32.4 0 0-2 0.4-0.5 6.5-6.3 8.6-7.2 3.3-3 3.3-3.5 3.5-4.5 2.4-3.5 1.8-3.5 2.6-6 1.9-5.5 0.9-3.5 0.4-3.5 0-3.5-0.5-4-1.1-4.5-1.5-4.5-1.9-4-2.2-3.7-3.8-4.8-4.7-4.7-5.5-4.6-15-11.3-3.5-3.1-3.1-3.4-3.9-5-5-7.2-8-12.4-7.4-11.9-4.1-6.1-9.5-13.2-2.3-2.7-2.2-2.1-0.6-0.1-0.8 0.7-3.2 3.4-9 12.5-5 7.3-7.5 12.1-8 12.3-4.5 6.6-3.5 4.6-3.5 4-3.5 3.2-4.4 3.6-13.1 9.7-4 3.5-3.5 3.4-3.5 4.2-2.5 3.7-2.2 4.5-1.9 5-1 4-0.6 4-0.1 3.5 0.3 3.5 0.7 3.5 1.3 4 2.2 5.5 2 4.5 2.7 4.5 5.2 6.5 4 4 9.9 8.4 6.9 6.6 0.4 0.5 0 2z"/>
<path fill="#0000d6" d="M112.7 514.5l32.4 0 0-2 0.5-0.5 6.5-5 7.3-6.9 1.5-1.1 1.5-0.4 1.6 0.3 1.5 0.9 7.7 7.2 6.5 5 0.5 0.5 0 2 32.4 0 0-2 0.4-0.5 6.5-6.4 8.3-7.1 3.3-3 3.2-3.5 3.1-4 2.4-3.5 1.8-3.5 2.5-6 1.9-5.5 0.9-3.5 0.4-3.5 0-3.5-0.5-3.5-1.2-4.5-1.6-4.2-1.7-3.8-2.3-3.7-4-5-5-4.9-5.5-4.3-14.2-10.1-3.5-3.1-3.3-3.5-4-5.2-4.5-6.6-18.5-29.1-11-15.2-3.5-4-0.6-0.1-2.9 3.2-11.1 15.2-3.2 4.8-14.8 23.6-5 7.4-3.5 4.7-3.5 4-3.5 3.2-4.2 3.2-13.3 9.4-4 3.3-3.5 3.4-3.5 4.2-2.5 3.7-2.5 5-1.8 5-1 3.5-0.5 3.5-0.2 3.5 0.3 3 0.8 3.5 1.3 4 2.3 6 1.8 4 2.4 4 5 6.5 4.5 4.5 10.1 8.6 5.9 5.9 0.4 0.5 0 2z"/>
<path fill="#0000df" d="M112.7 514.5l32.3 0 0-2 0.5-0.5 6.5-5 7.4-7.1 1.5-1 1.5-0.5 1.6 0.3 1.5 0.9 7.8 7.4 6.5 5 0.5 0.5 0 2 32.3 0 0-2 0.4-0.6 6.5-6.5 10.7-9.4 2.9-3 2-2.5 3.5-5 2-3.5 1.9-4.5 2.5-7 1-4 0.4-3 0-3-0.4-3.5-1.1-4-1.7-4.5-1.9-4-2.3-3.7-2-2.7-2.3-2.6-5.2-4.9-5.5-4.2-13.5-9-3.5-2.9-3-3.2-3.5-4.4-4.5-6.6-19.2-30.4-13.8-18.2-0.6-0.1-1.1 1.3-12.5 16.5-18.4 29.2-4.5 6.7-3.5 4.7-3 3.4-3.4 3.1-3.6 2.6-13.5 9.1-4 3.2-3.8 3.6-3.5 4-2.7 4-2.5 4.8-2.2 5.7-0.8 3.4-0.5 3.1-0.1 3 0.3 2.5 0.8 3.5 1.4 4.5 2.3 6 1.6 3.5 1.8 3 2.9 4 3.7 4.5 3.6 3.5 8.7 7.5 6.5 6.6 0.3 0.4 0 2z"/>
<path fill="#0000e8" d="M112.8 514.5l32.2 0 0-2 0.5-0.5 6.9-5.5 7-6.8 1.5-1 1.5-0.4 1.6 0.2 1.5 0.9 8 7.6 6.3 5 0.5 0.5 0 2 32.2 0 0-2 0.5-0.6 6.5-6.6 10.4-9.3 2.4-2.5 2-2.5 3.8-5.5 1.7-3 1.7-4 2.5-7 1.1-4 0.5-3 0-3-0.5-3.5-1.1-3.8-1.6-4.2-2-4-2.4-3.8-2-2.6-2.3-2.6-5.2-4.8-6-4.4-13.1-8.3-3.4-2.8-2.7-2.7-3.3-4.3-4-5.9-20-31.9-3.5-4.7-6.1-7.3-3.4-4.4-0.6-0.1-3.5 4.5-6 7.1-3.5 4.7-19.5 31.2-4 6-3 4-3 3.3-3 2.5-3.5 2.5-13 8.2-4 3.1-4 3.7-3.8 4.3-2.8 4-2.6 5-2.2 5.5-0.8 3-0.4 2.5-0.1 3 0.2 2.5 1 4 1.4 4.5 2.1 5.5 1.6 3.5 4.6 7 3.3 4 3.6 3.5 8.4 7.4 6.5 6.6 0.4 0.5 0 2z"/>
<path fill="#0000f1" d="M112.8 514.5l32.2 0 0-2 0.4-0.5 6.9-5.5 7.1-7 1.5-1 1.5-0.4 1.6 0.2 1.5 0.9 7.5 7.3 6.9 5.5 0.4 0.5 0 2 32.2 0 0-2 0.5-0.6 6.5-6.8 10.1-9.1 2.3-2.5 2-2.5 3.7-5.5 1.6-3 1.5-3.5 1.9-5.5 1.3-4.5 0.7-3.5 0.1-2.5-0.3-3-0.9-3.6-1.5-3.9-2.2-4.5-2.3-3.7-2-2.6-2.5-2.9-2.5-2.5-3-2.6-5.5-3.9-13.7-8.3-3.2-2.5-2.6-2.6-3-3.8-3.5-5.3-12.2-19.9-8.5-13.5-4.3-5.6-8-8.9-0.6-0.2-6.5 7.2-3 3.6-2.5 3.3-8.9 14.1-12.1 19.8-3.2 4.7-2.8 3.8-2.5 2.6-3 2.5-3.5 2.3-12.5 7.6-4 3-4 3.5-4 4.4-3 4.1-2.9 5.3-2.3 5.5-0.8 3-0.3 2.5 0 2.5 0.2 2 1 4 1.9 6 1.5 4 1.4 3 4.4 7 2.8 3.5 3.5 3.5 8.6 7.7 6.5 6.8 0.4 0.5 0 2z"/>
<path fill="#0000fa" d="M112.8 514.5l32.1 0 0-2 0.5-0.6 6.8-5.4 7.2-7.2 1.5-1 1.5-0.4 1.6 0.3 2 1.2 7.1 7.1 6.8 5.5 0.5 0.5 0 2 32.1 0 0-2 0.5-0.7 6.5-6.9 9.8-8.9 3.5-4 5.1-8 1.5-3 1.1-3 1.8-6 1-4 0.5-3-0.1-3-0.7-3.5-1-3-2.5-5-2.4-4-2.1-2.8-2.8-3.2-2.7-2.7-3-2.5-6-4.2-13.1-7.6-3.4-2.6-2.5-2.5-2.5-3.1-3-4.5-13.4-22.4-7.9-12.5-2.6-3.5-2.5-3-6.6-6.8-0.6-0.1-5.5 5.6-3 3.4-3 4-8.2 12.9-13.3 22.3-2.9 4.3-2.3 3-2.4 2.5-3.2 2.5-3.7 2.3-12 7-4 2.9-3.8 3.3-4.2 4.5-3 4-3 5.2-2.3 5.3-0.7 2.5-0.4 2.5 0 2 0.3 2.5 1 4.5 2 6.5 1.1 3 1.2 2.5 4 6.5 2.2 3 3.8 4 8.8 8 6.5 6.9 0.4 0.6 0 2z"/>
<path fill="#0000ff" d="M112.9 514.5l32 0 0-2 0.5-0.6 6.6-5.4 7.4-7.4 1.5-0.9 1.5-0.4 1.6 0.2 2 1.2 7.3 7.3 6.7 5.5 0.4 0.5 0 2 32 0 0-2 0.6-0.7 6.5-7 9.4-8.8 3.5-4 1.4-2 3.6-6 1.2-2.5 0.9-2.5 2.8-10 0.6-3.5 0-2.5-0.6-3-1.2-3.5-2.1-4.1-2.3-3.9-2.3-3-2.9-3.3-3-3-3-2.5-5.5-3.7-10-5.6-3.5-2.1-3.5-2.6-2.8-2.7-2.4-3-2.8-4.3-13.8-23.8-6.7-10.5-2.5-3.5-2.5-3-6.5-6.6-0.6-0.1-5.5 5.5-3 3.5-3 4-6.8 10.7-13.7 23.6-2.6 4-2.4 3.1-2.8 2.9-3.2 2.4-3.5 2.2-12 6.7-4 2.9-3.5 2.9-4 4.1-3.5 4.4-3.5 5.9-2 4.5-0.7 2.5-0.3 2 0 2 0.3 2.5 0.9 4 2 7 2 5 3.9 6.5 2.2 3 3.7 4 8.5 7.9 6.5 7 0.5 0.6 0 2z"/>
<path fill="#0000ff" d="M112.9 514.5l31.9 0 0-2 0.6-0.6 4.2-3.4 2.9-2.5 6.9-7.1 1.5-0.9 1.5-0.4 2 0.4 1.6 1 6.8 7 7.2 5.9 0.5 0.6 0 2 31.9 0 0-2 0.4-0.5 6.2-6.9 9.1-8.6 4-4.5 1.3-2 3.2-5.5 2-4.5 2.8-10.5 0.5-3.5 0-2.5-0.6-3-1-3-1.8-3.4-2.2-3.6-2.3-3.1-3-3.4-3-2.9-3-2.6-3-2.1-3-1.9-10-5.3-3.5-2.1-3.5-2.6-3-3-2.5-3.2-2.5-3.9-13.8-24.5-5.4-8.5-2.5-3.5-2.8-3.5-3-3.3-3.5-3.4-0.6 0-5.3 5.2-3.2 3.8-3 4.1-5.8 9.1-13.7 24.3-2.5 3.9-2.5 3.3-3 3-3 2.3-3.7 2.3-11.8 6.3-4 2.8-3.5 2.9-4.1 4-3.6 4.5-3.3 5.3-2.1 4.7-0.7 2.5-0.3 2 0.1 2 0.3 2.5 0.8 3.5 1.9 7 0.9 2.5 1.1 2.5 3.5 6 1.7 2.5 3.6 4 9.2 8.7 6 6.6 0.5 0.7 0 2z"/>
<path fill="#0004ff" d="M112.9 514.5l31.9 0 0-2 0.6-0.7 6.9-5.8 7.1-7.3 1.5-0.9 1.5-0.3 1.1 0 1 0.4 1.5 0.9 7 7.2 7 5.9 0.5 0.6 0 2 31.8 0 0-2 0.4-0.5 6.3-7.1 8.8-8.4 3.9-4.5 1.3-2 3.1-5.5 1.8-4 0.9-3 1.6-7 0.5-3.5 0.1-2.5-0.4-2.5-1-3-1.4-3-2.2-3.5-2.5-3.4-2.5-2.9-3-2.9-3.5-3-3-2.2-3-1.8-10.3-5.3-3.4-2-3.8-2.9-3-3-2.5-3.2-3-4.7-13.3-24.3-4.2-6.8-2.6-3.7-2.9-3.7-3-3.3-3.5-3.4-0.6 0-5 4.9-3.5 4.2-3.1 4.3-4.7 7.5-13.4 24.6-2.8 4.3-2.5 3.2-3 3-3.5 2.7-3.5 2.1-11.5 6-4 2.7-3.5 2.8-4.5 4.4-3.5 4.2-3.3 5.1-1.8 4-0.7 2.5-0.3 2 0.3 4.5 2.3 10 0.9 2.5 1.2 2.5 3.3 6 1.7 2.5 3.5 4 8.9 8.5 6 6.8 0.5 0.7 0 2z"/>
<path fill="#000cff" d="M113 514.5l31.7 0 0-2 0.7-0.7 6.8-5.8 7.2-7.5 1.5-0.9 1.5-0.3 1.1 0.1 1 0.3 1.5 0.9 7.1 7.4 6.9 5.9 0.6 0.6 0 2 31.7 0 0-2 0.4-0.5 6.3-7.3 8.4-8.2 3.9-4.5 1.6-2.5 2.7-5 1.7-4 0.9-3 1.3-6.5 0.5-3.5 0-2.5-0.4-2.5-0.8-2.5-1.3-2.7-2-3.2-2.5-3.3-3-3.4-3-2.9-3.5-2.9-3-2.1-3-1.8-10-5-3.5-2-3.5-2.5-3.3-3.2-2.8-3.5-2.9-4.8-13.3-24.8-3.2-5.5-2.8-4-2.7-3.4-3-3.3-3.5-3.4-0.6-0.1-5.5 5.5-3 3.7-3.2 4.5-3.6 6-13.2 24.7-2.7 4.4-2.8 3.6-3 3.1-3.5 2.6-3.6 2.2-11.4 5.7-4 2.6-3.5 2.7-4.5 4.3-3.6 4.2-3.3 5-1.9 4-0.5 2-0.3 2 0 2.5 0.3 2.5 1.9 9 0.9 2.5 1.1 2.5 3.1 6 1.8 2.5 3.5 4 8 7.8 6.7 7.7 0.4 0.5 0 2z"/>
<path fill="#0014ff" d="M113 514.5l31.7 0 0-2 0.4-0.5 7.5-6.5 6.3-6.7 1.5-1.1 1-0.4 1-0.1 2.1 0.3 2 1.4 6.2 6.6 7.5 6.5 0.4 0.5 0 2 31.7 0 0-2 0.4-0.5 6.3-7.5 8.6-8.5 3.7-4.5 1.5-2.5 2.7-5.5 1.1-2.5 0.8-3 1.2-6 0.4-3.5 0.1-2.5-0.4-2.5-0.7-2.5-1.2-2.5-1.8-2.9-2.5-3.3-3-3.3-3.5-3.3-3.5-2.8-3-2.1-3-1.8-10-4.7-3.3-1.8-3.7-2.7-3-2.9-3-3.8-3-4.9-13.2-25.3-3.2-5.5-2.4-3.5-2.7-3.4-3-3.2-3-2.9-0.6-0.1-5 5-3 3.6-3 4.1-3.1 5.4-13.4 25.6-3 4.9-2.7 3.6-3.3 3.2-3.5 2.6-3.5 1.9-11 5.3-3.9 2.5-3.6 2.7-4.5 4.2-4 4.6-3 4.3-1.8 3.7-0.5 2-0.3 2-0.1 2.5 0.3 2.5 1.6 8.5 0.8 2.5 1.1 2.5 2.7 5.5 1.7 2.5 3.3 4 8.7 8.7 6.2 7.3 0.4 0.5 0 2z"/>
<path fill="#001cff" d="M113.1 514.5l31.6 0 0-2 0.4-0.5 7.3-6.5 6.5-6.9 1.6-1.1 1.9-0.5 2.1 0.3 1 0.6 1.3 1.1 6.1 6.5 7.3 6.5 0.4 0.5 0 2 31.6 0 0-2 0.4-0.5 6.4-7.7 8.2-8.3 3.7-4.5 1.5-2.5 3.4-7.5 1.1-3.5 0.8-5 0.4-3.5 0-3-0.4-2.5-0.7-2.3-1-2.2-1.6-2.5-2.7-3.5-3.2-3.4-3.5-3.3-3.5-2.7-3-2-3-1.7-9.6-4.4-3.4-1.8-3.9-2.7-3.1-3.1-3-3.8-3-5-13.4-26.2-2.6-4.7-2-3-2.5-3.1-3-3.3-3-2.9-0.6-0.1-5 5-3 3.6-2.4 3.5-2.8 5-13.6 26.6-2.7 4.5-3 3.8-3 3-3.5 2.5-3.5 1.9-11 5.1-4 2.5-3.5 2.6-4.5 4.1-4 4.3-3 4.2-1.7 3.5-0.7 2.5-0.3 3 0.1 3.5 0.8 5 0.6 3 0.8 2.5 3.1 7 1.4 2.5 2.8 3.5 9.1 9.4 6.8 8.1 0.4 0.5 0 2z"/>
<path fill="#0024ff" d="M113.1 514.5l31.5 0 0-2 0.4-0.5 7.3-6.5 6.6-7.2 1.5-1 2-0.5 1.6 0.2 1 0.4 2 1.5 6 6.6 7.3 6.5 0.4 0.5 0 2 31.5 0 0-2 0.4-0.5 6.4-7.9 7.9-8.1 3.6-4.5 1.5-2.5 3.1-7 0.9-3 0.7-3.5 0.5-4.5 0-3.5-0.3-2.5-0.8-2.5-1.1-2.3-1.4-2.2-2.6-3.3-3-3.2-3.5-3.1-3.7-2.9-2.8-1.9-3-1.7-10.1-4.4-3.4-1.8-4-2.7-3-3-3-4-2.7-4.5-13.8-27.6-2.2-4-1.8-2.8-2-2.5-3-3.3-3-2.9-0.6-0.1-4.5 4.5-3 3.5-2.1 3.1-2.5 4.5-13.8 27.6-2.7 4.5-2.9 3.8-3 3-3.6 2.7-3.4 1.7-8 3.5-3.5 1.7-3.5 2.1-3.5 2.5-4.5 4-4.3 4.5-2.9 4-1.7 3.5-0.7 2.5-0.2 3 0.1 3.5 0.6 4.5 0.5 2.5 0.7 2.5 3 7 1.4 2.5 2.3 3 9.2 9.7 6.8 8.3 0.4 0.5 0 2z"/>
<path fill="#002cff" d="M113.1 514.5l31.5 0 0-2 0.3-0.4 7.3-6.6 6.2-6.9 2-1.5 2-0.4 1.6 0.1 1 0.4 2 1.5 6.1 6.8 7.4 6.7 0.2 0.3 0 2 31.5 0 0-2 0.3-0.5 6.5-8.1 7.5-7.9 3.6-4.5 1.6-2.5 2.7-6.5 0.9-3 0.6-3 0.4-4.5 0-3.5-0.3-2.5-0.5-2-1-2.2-1.5-2.5-2.5-3.2-3-3.1-3.5-3.2-4-3.1-3-1.9-3-1.6-10-4.3-3.5-1.7-3.5-2.4-3.1-2.8-2.9-3.8-3-5.1-14.1-28.7-2.2-4-1.6-2.5-1.6-2-5.5-5.5-0.6-0.1-4.5 4.4-2.3 2.7-2 3-2.2 4-14 28.5-2.9 5.1-2.7 3.5-3 3-3.5 2.5-3.4 1.7-8 3.3-3.5 1.6-3.5 2.1-3.5 2.4-4.6 3.9-4.3 4.5-2.7 3.5-1.8 3.5-0.7 2.5-0.4 3 0.1 3.5 0.4 4 0.4 2.5 0.7 2.5 2.9 7 1.4 2.5 2.3 3 8.8 9.4 6.9 8.6 0.3 0.5 0 2z"/>
<path fill="#0034ff" d="M113.2 514.5l31.3 0 0-2 0.4-0.5 7.6-7 5.8-6.5 1.1-1 1-0.5 2-0.5 1.6 0.1 1 0.4 2 1.5 5.8 6.5 7.7 7.1 0.3 0.4 0 2 31.3 0 0-2 0.4-0.5 6.5-8.3 7.6-8.2 3.1-4 1.8-3 2.2-5.5 1-3 0.5-3 0.4-4-0.1-3.5-0.3-2.5-0.7-2.5-1-2.2-1.4-2.3-2.5-3-3.1-3.1-3.5-3.1-4-3-3-1.9-3-1.5-10-4-3.5-1.7-3.5-2.4-3-2.8-3-3.9-3-5.1-6.9-14.6-9.1-18.5-1.5-2.3-1.5-1.9-5-4.9-0.6-0.1-4 3.8-2 2.4-1.8 2.5-1.9 3.5-7.3 15-7.4 15.6-2.6 4.5-3 3.9-3 2.9-3.5 2.3-3 1.5-8 3.1-3.5 1.6-3.5 2-3.5 2.4-5 4.1-4 4-2.8 3.7-1.8 3.5-0.7 2.5-0.4 3 0.1 3.5 0.3 3.5 1 4.5 2.7 7 1.4 2.5 2.2 3 8.5 9.2 7 8.9 0.3 0.4 0 2z"/>
<path fill="#003cff" d="M113.2 514.5l31.3 0 0-2 0.4-0.5 7.5-7 6-6.9 2-1.3 1-0.3 1.6-0.1 2 0.4 1 0.6 1.2 1.1 5.7 6.5 7.6 7.1 0.3 0.4 0 2 31.3 0 0-2 7.4-9.7 5.9-6.3 2.5-3 2.4-3.5 1.2-2.5 1.9-5 0.8-3 0.5-3 0.1-3.5-0.2-3.5-0.5-3-1-2.5-1.4-2.5-2.4-3-3.3-3.3-3.5-3-4-3-3.5-2.1-3-1.5-10.5-4.1-3-1.4-3.5-2.3-3-2.8-3-4-2.5-4.4-7.5-16.2-9-18.3-2.6-3.7-4.4-4.3-0.6-0.1-3.6 3.4-1.9 2.2-1.5 2.3-9.1 18.5-7.4 16-2.6 4.6-2.9 3.8-3 2.9-3.5 2.4-3 1.4-11 4.3-3.5 1.8-4 2.6-4.5 3.6-4.5 4.3-2.8 3.4-1.8 3.5-0.8 2.5-0.4 2.5-0.1 3.5 0.2 3.5 0.9 4.5 2.6 7 1.4 2.5 2.2 3 8.1 8.9 7 9.2 0.3 0.4 0 2z"/>
<path fill="#0044ff" d="M113.3 514.5l31.1 0 0-2 0.4-0.5 7.4-7 6.2-7 2-1.4 1-0.3 1.6-0.1 1.5 0.2 1 0.5 1.9 1.6 5.7 6.5 7.4 7 0.4 0.5 0 2 31.2 0 0-2 6.9-9.3 8.5-9.7 2.4-3.5 1.2-2.5 1.6-4.5 0.8-3 0.5-2.5 0.1-3-0.1-3.5-0.6-3-0.9-2.7-1.5-2.7-2-2.6-3.5-3.5-4-3.4-4-2.8-3.5-2.1-3-1.5-10.4-3.7-3.1-1.5-3.5-2.2-3-2.8-2.6-3.5-2.6-4.5-7.9-17.6-8.8-18-2.4-3.5-3.7-3.4-0.6-0.1-3.5 3.2-1.4 1.8-1.3 2-8.8 18-7.9 17.6-2.6 4.5-2.6 3.5-2.9 2.7-3.5 2.3-3.3 1.5-6.7 2.3-4 1.6-4 2.1-4 2.6-4.5 3.5-4.5 4.3-2.6 3.1-1.8 3.5-0.8 2.5-0.4 2.5-0.1 3 0.1 3 0.9 4.5 2.4 7 1.4 2.5 2.2 3 7.7 8.7 7.4 9.8 0 2z"/>
<path fill="#004cff" d="M113.3 514.5l31.1 0 0-2 0.4-0.5 7.3-7 5.8-6.8 1.4-1.2 1.1-0.6 1-0.3 1.6-0.1 1.5 0.2 1 0.5 2 1.6 5.7 6.7 7.3 7 0.4 0.5 0 2 31.1 0 0-2 0.4-0.5 6.6-9.1 8.1-9.4 2.1-3 1.3-2.6 2.4-7.4 0.4-2.5 0.1-3-0.2-3.5-0.6-3-0.9-2.5-1.4-2.5-2.3-2.8-3.5-3.4-3.5-2.9-4-2.8-3.5-2.1-3.5-1.6-3.5-1.4-7-2.3-2.9-1.2-3.6-2.3-2.9-2.7-2.7-3.5-2.4-4.4-7.9-18.2-8.6-17.5-1.5-2.5-1-1.4-3-2.7-0.6-0.1-3 2.7-2.3 3.5-8.9 18-7.8 18.1-2.5 4.4-2.7 3.6-2.8 2.7-3.5 2.2-3 1.3-7.5 2.5-3.5 1.4-4 1.9-4 2.5-4.5 3.4-4.5 4.1-2.9 3.5-1.6 3-0.7 2-0.5 2.5-0.3 3 0 3 0.8 4.5 2.1 6.5 1.3 2.5 2.1 3 8.2 9.5 6.9 9.5 0 2z"/>
<path fill="#0054ff" d="M113.3 514.5l31 0 0-2 0.4-0.5 7.3-7 5.9-7.1 1.1-0.9 1.4-0.8 1-0.3 1.6 0 1.5 0.2 1 0.4 2 1.5 5.8 7 7.3 7 0.4 0.5 0 2 31 0 0-2 7-9.9 7.7-9.1 2-3 1.3-2.5 2.2-7 0.4-2.5 0.2-2.5-0.3-3.5-0.6-3-0.9-2.5-1.5-2.7-2.3-2.8-3.2-3.1-4-3.2-4-2.7-3.5-1.9-4-1.8-10-3.3-3-1.2-3.5-2.1-2.9-2.7-2.6-3.6-2.2-3.9-8.2-19.6-8.2-16.5-2.4-4-2.5-2.4-0.6-0.1-2.1 2-1.4 1.8-1.2 2.2-8.5 17-8.3 19.7-2.1 3.9-2.6 3.5-2.8 2.6-3.5 2.1-3 1.3-7.5 2.3-3.5 1.3-4.5 2.2-4 2.4-4.5 3.4-4.5 4.1-2.5 3-1.8 3.3-0.7 2.1-0.5 2.4-0.3 3 0 2.5 0.8 4.5 1.9 6 1.3 2.5 2 3 7.8 9.2 6.9 9.8 0 2z"/>
<path fill="#005cff" d="M113.4 514.5l30.9 0 0-2 8-8 5.6-6.8 1-0.9 1.5-0.8 1-0.2 1.6-0.1 1.5 0.2 1 0.4 2 1.5 5.5 6.7 8 8 0 2 30.9 0 0-2 7.1-10.2 7.3-8.8 2-3 1.3-2.5 1.2-3.5 0.8-3.5 0.4-2.5 0.1-2.5-0.3-3-0.8-3.2-1-2.5-1.3-2.3-2.2-2.6-3.5-3.3-3.5-2.7-4-2.7-3.5-1.9-4-1.8-10.5-3.2-3.3-1.3-3.4-2-2.8-2.5-2.5-3.5-2.1-4-6.8-17-3.4-7.6-6.7-13-1.6-2.5-1.9-2.1-0.6-0.1-1.6 1.7-1.4 2-1.5 2.7-7.7 15.3-8.5 21.1-2.3 4-2.1 3-2.8 2.5-3.4 2-3.2 1.2-7.5 2.2-4 1.5-4 1.9-4.5 2.6-5 3.7-4 3.6-2.5 3.1-1.7 3.2-0.6 2-0.6 2.5-0.3 4.5 0.7 4.5 1.8 6 1.3 2.5 2 3 7.4 8.9 7 10.1 0 2z"/>
<path fill="#0064ff" d="M113.4 514.5l30.8 0 0-2 7.9-8 5.8-7 1.2-1 1.3-0.7 2.6-0.3 1.5 0.2 1 0.3 2 1.5 5.7 7 7.9 8 0 2 30.8 0 0-2 7.1-10.5 6.9-8.5 2-3 1.2-2.5 1-3 0.9-3.5 0.3-2.5 0.1-2.5-0.4-3-0.7-3-1-2.5-1.3-2.1-2.4-2.9-3.1-2.9-4-3-4-2.5-3.5-1.8-4-1.7-10.5-3.1-3.5-1.3-3.1-1.7-2.9-2.5-2.1-3-2.4-4.7-6.7-17.3-3.1-7.1-6.7-12.8-1.5-2.4-1.5-1.9-0.6-0.1-2.5 3.4-6.8 12.8-3.4 7.6-6.9 18-2.4 4.5-2.1 3-2.9 2.5-3 1.6-3.5 1.3-7.5 2.1-4 1.4-4 1.8-4.5 2.5-4.5 3.2-4.2 3.6-2.8 3.2-1.8 3.3-1.2 4-0.5 4.5 0.5 4.5 1.6 5.5 1.1 2.5 1.9 3 1.9 2.5 5.5 6.6 7 10.4 0 2z"/>
<path fill="#006cff" d="M113.5 514.5l30.7 0 0-2 7.8-8 5.4-6.8 2-1.7 1-0.4 1.5-0.2 2.1 0 1 0.2 1.5 0.8 1 0.9 5.8 7.2 7.8 8 0 2 30.7 0 0-2 7.2-10.8 6.5-8.2 1.9-3 1.3-2.5 0.8-2.5 0.8-3.5 0.4-3 0-2.5-0.5-3-0.7-2.5-1-2.3-1.3-2.2-2.6-3-3.1-2.8-3.5-2.5-4.5-2.7-4-2-3.5-1.4-10.5-2.9-3.5-1.2-3.5-1.9-2.4-2.1-2.2-3-2.2-4.5-6.5-17.5-3.2-7.6-6-11.3-3-4.7-0.6-0.1-2 2.9-6.9 12.7-3.2 7.6-6.9 18.4-2 4.1-2.2 3-2.8 2.4-3 1.5-3.5 1.2-7.5 2-4 1.3-4.5 2-4.5 2.5-5 3.4-3.7 3.2-2.6 3-1.9 3.5-1.2 4-0.4 4 0.5 4.5 1.3 5 1.2 2.5 1.8 3 7 8.8 7.1 10.7 0 2z"/>
<path fill="#0074ff" d="M113.5 514.5l30.6 0 0-2 7.7-8 5.6-7.1 2-1.6 1-0.4 1.5-0.2 2.1 0 1 0.2 1.2 0.6 1.3 1 6 7.5 7.7 8 0 2 30.6 0 0-2 6.7-10.5 7-9 1.5-2.5 1.2-2.5 0.8-2.5 0.7-3 0.3-3 0-2.5-0.5-2.8-0.8-2.7-1.2-2.5-1.2-2-2.7-3-3.1-2.7-4-2.7-4.5-2.6-3.5-1.6-3.5-1.4-10.5-2.6-3.5-1.1-3.5-1.8-2.3-2-2.2-3.1-2-4.1-6.6-18.3-3.1-7.6-4.3-8.2-4-6.5-0.6-0.2-2 3.1-4 7-2.2 4.3-3.1 7.6-6.7 18.6-2 4.2-2.3 3.2-2.3 2-2.9 1.5-3.5 1.2-8 2-4 1.2-4.5 1.8-4.5 2.4-5 3.3-3.7 3.1-2.8 3.2-2 3.6-1.2 3.7-0.5 4 0.5 4.5 1.2 4.5 1.1 2.5 1.8 3 7.1 9.2 6.6 10.3 0 2z"/>
<path fill="#007cff" d="M113.5 514.5l30.6 0 0-2 7.6-8 5.4-7 1.3-1.3 1-0.6 1-0.4 1.5-0.2 3.1 0.2 1.5 0.7 1.2 1.1 5.9 7.5 7.6 8 0 2 30.5 0 0-2 6.8-10.9 6.6-8.6 2.4-4.5 0.9-2.5 0.7-3 0.3-3-0.1-2.5-0.4-2.5-0.9-2.8-1-2.2-1.5-2.3-2.3-2.7-3.2-2.7-4-2.7-5-2.7-3.5-1.6-3.5-1.3-10.5-2.4-3.5-1.1-3.3-1.5-2.4-2-2.2-3-1.9-4-6.5-19-3-7.6-3.2-6.1-4.5-7.4-0.6-0.1-2 3-3.2 5.6-2.3 4.5-3.3 8.1-6.5 19-1.9 4-2.2 3-2.4 2-3.1 1.5-3.2 1-8.4 1.8-3.5 1-4.5 1.8-4.5 2.3-5 3.1-4 3.2-2.9 3.3-1.9 3.5-1.3 4-0.4 3.5 0.4 4.5 1.1 4 1.1 2.5 1.7 3 6.7 8.8 6.6 10.7 0 2z"/>
<path fill="#0084ff" d="M113.6 514.5l30.4 0 0-2 7.5-8 5.9-7.7 1-0.8 1.5-0.9 1.5-0.3 2.1 0 1.5 0.2 1 0.4 2 1.6 5.8 7.5 7.5 8 0 2 30.4 0 0-2 6.8-11.2 6.1-8.3 2.5-4.5 1-3 0.5-3 0.2-3-0.4-3-0.9-3.1-1.5-3.2-1.9-2.7-2.1-2.3-2.5-2-2.5-1.7-4-2.3-4-2-3.5-1.4-3-1-10-2-4-1.2-2-0.9-1.5-0.9-1.5-1.3-1-1.2-1.7-2.8-1.8-4.3-5.4-16.2-3.4-9-3-6.1-4.2-6.8-0.6-0.2-2 3.1-2.9 4.9-2 4.1-3.3 8.5-6.3 18.8-2 4.3-2 2.7-2.5 2.1-3 1.4-3.5 1-8 1.5-3.5 0.9-4.5 1.7-5 2.5-5 3-3.9 3.1-2.6 3-1.3 2-0.9 2-1.2 3.5-0.5 3.5 0.3 4 1 4 1.2 2.5 1.7 3 6.2 8.4 6.7 11.1 0 2z"/>
<path fill="#008cff" d="M113.6 514.5l30.4 0 0-2 7.4-8 6-7.9 1-0.9 1.5-0.8 1.5-0.3 2.1 0 1.5 0.2 1 0.4 1 0.6 1.3 1.2 5.6 7.5 7.4 8 0 2 30.4 0 0-2 2.8-4.5 3.5-6.4 5.6-7.6 2.8-5 1-3 0.6-3 0.1-3-0.4-3-0.9-3-1.4-3-1.9-2.7-2.2-2.3-2.3-1.9-3-1.9-8-4.2-3-1.2-3-0.9-10.5-1.9-3.8-1-2.2-1-1.5-1-1.2-1-1.3-1.5-1.5-2.6-1.5-3.6-5.1-15.8-3.9-10.5-2.7-5.6-3.8-6.2-0.6-0.2-2 3.1-2.2 3.8-2 4.1-3.9 10.5-3.9 12.1-2 5.7-1.6 3.7-1.9 2.6-2.5 2-3 1.4-3.5 1-8.5 1.5-3.5 0.8-4.5 1.7-5 2.4-5 2.9-3.5 2.7-2.7 3-1.3 2-1 2.1-1.2 3.4-0.5 3.5 0.2 4 0.9 3.5 1.1 2.5 1.7 3 5.8 8 4.2 7.5 2.5 4 0 2z"/>
<path fill="#0094ff" d="M113.7 514.5l30.2 0 0-2 7.7-8.5 5.6-7.5 1.2-1.1 1.5-0.7 1.5-0.3 2.1 0 1.5 0.2 1 0.3 1.5 1 1 1 5.2 7.1 7.7 8.5 0 2 30.2 0 0-2 2.8-4.5 3.6-6.8 5.8-8.2 2.5-5 0.9-3 0.3-3-0.1-3-0.7-3-1.9-4-2.4-3.5-2.9-2.8-4.5-2.9-6.5-3.3-5-2-3.5-0.8-9-1.4-4-1-3-1.4-2.4-1.9-1.8-2.5-1.6-3.5-2.2-6.7-3.2-10.3-4.4-12-3-6.1-2.4-3.7-0.6-0.1-3.3 5.3-2.4 5.1-4.2 11.5-3.1 10-2.3 7-1.7 3.5-1.7 2.5-2.5 2-3.3 1.4-4 1-8 1.2-3.5 0.7-4 1.5-5.5 2.6-5 2.8-3.6 2.8-2.6 3-2.3 4.1-1.2 3.4-0.4 3 0.2 3.5 0.8 3.5 1.1 2.5 1.6 3 5.6 8 3.8 7 2.8 4.5 0 2z"/>
<path fill="#009cff" d="M113.7 514.5l30.1 0 0-2 7.7-8.5 5-7 1.4-1.5 1-0.6 1-0.4 1.5-0.3 2.6 0 1.5 0.3 1.5 0.7 1 0.9 1.5 1.7 4.3 6.2 7.7 8.5 0 2 30.1 0 0-2 2.6-4.5 3.8-7.2 5.4-7.8 2.2-4.5 0.9-3 0.4-3-0.1-3-0.6-2.5-2.1-4.5-2.5-3.5-2.7-2.5-3.9-2.5-7.5-3.8-4.5-1.7-3.5-0.7-8.5-1.1-4.5-1.1-3-1.3-2.5-1.9-2-2.9-1.5-3.4-5.2-16.6-4.6-12.5-2.7-5.7-2-3.1-0.6-0.2-2.7 4.4-2.3 5.1-4.4 12-5.1 16.5-1.5 3.5-2 2.7-2.5 2.1-3 1.3-4.5 1.1-8.5 1.1-3 0.6-4.5 1.6-5.5 2.6-5 2.8-3.3 2.6-2.4 3-2.3 4-1.1 3-0.4 3 0.1 3 0.8 3.5 2.3 5 5.8 8.5 3.7 7 2.6 4.5 0 2z"/>
<path fill="#00a4ff" d="M113.8 514.5l30 0 0-2 7.5-8.5 5.4-7.5 1.2-1.3 1-0.6 1-0.4 1.5-0.2 2.6 0 1.5 0.2 1.5 0.8 1.2 1 1.3 1.5 4.5 6.5 7.5 8.5 0 2 30 0 0-2 2.6-4.5 3.8-7.5 5.4-8 1.8-4 0.9-3 0.3-2.5-0.1-2.5-0.5-2.5-1.8-4-2.6-4-2.8-2.7-3.5-2.2-8-3.9-4.5-1.7-3-0.5-8.5-0.9-5-1.2-3.4-1.4-2.5-2-1.6-2.4-1.7-3.6-5.2-17-4.6-12.5-2.5-5.5-1.5-2.3-0.6-0.2-2.6 4.5-2.7 6.5-3.4 9.5-5.4 17.5-1.7 3.5-1.7 2.2-2.5 1.9-3 1.3-5 1.2-8.5 0.8-3 0.6-4.5 1.7-6.5 3.1-4 2.3-3 2.4-2.3 3-2.2 4-1.1 3-0.4 3 0.3 3 0.8 3 2 4.5 5.4 8 3.8 7.5 2.6 4.5 0 2z"/>
<path fill="#00acff" d="M113.8 514.5l29.9 0 0-2 7.4-8.5 5.3-7.6 1-1 1.5-1.1 1-0.4 1.5-0.1 3.1 0 1 0.2 1.5 0.7 1.5 1.3 5.7 8 7.4 8.5 0 2 29.9 0 0-2 2.5-4.5 3.6-7.5 5.3-8 1.7-4 0.8-2.5 0.4-2.5-0.1-2.5-0.6-2.5-1.6-3.4-3-4.6-2.5-2.4-3.5-2.2-8-3.7-4.5-1.6-2.5-0.5-8.5-0.7-5.5-1.2-3.5-1.5-2.5-2-1.6-2.2-1.9-4.4-5-16.6-4.4-12-2.6-5.5-1-1.9-0.6-0.1-1.4 2.5-1.6 3.3-4.2 11.2-6.2 20-1.6 3.4-1.5 2.1-2.5 2.1-3.5 1.6-5.5 1.2-8.5 0.7-2.5 0.4-4.5 1.6-7.5 3.5-3.5 2.1-2.5 2.1-2 2.7-2.5 4.4-1 2.6-0.4 2.5 0.2 3 0.8 3 1.9 4.5 5.3 8 3.6 7.5 2.5 4.5 0 2z"/>
<path fill="#00b4ff" d="M113.9 514.5l29.8 0 0-2 7.3-8.5 4.4-6.6 1.5-1.9 1.5-1.2 1.5-0.6 4.1-0.2 1.5 0.2 1 0.4 1.3 0.9 1.2 1.2 5.3 7.8 7.3 8.5 0 2 29.8 0 0-2 2.5-4.5 3.5-7.5 4.5-7 1.9-4 1-3 0.4-2.5-0.1-2.5-0.4-2-1.4-3-3.5-5.5-2.3-2.1-3.5-2.2-7.5-3.4-5-1.7-2-0.3-8.5-0.5-3-0.6-3-0.7-3.4-1.5-2.6-2.1-1.5-2-1.6-3.4-1.1-3-3.9-13.5-1.4-4-4.7-12-1.8-3.8-0.6-0.2-2.6 5.5-4.2 11-5.8 19-1.9 4.2-1.5 2.1-1.5 1.3-1.5 1-3.5 1.5-3 0.7-3 0.5-8 0.5-2 0.3-4.5 1.5-7.5 3.3-3.5 2-2.4 2.1-1.9 2.5-2.7 4.6-0.9 2.4-0.4 2.5 0.1 2.5 0.8 3 1.9 4.5 5 7.9 3.5 7.6 2.5 4.5 0 2z"/>
<path fill="#00bcff" d="M113.9 514.5l29.7 0 0-2 7.2-8.5 4.6-7 1.5-1.8 1.5-1.2 1.5-0.6 4.1-0.1 1.5 0.1 1 0.4 1.5 1 1 1 5.5 8.2 7.2 8.5 0 2 29.6 0 0-2 0.7-1 2.1-4 2.7-6.5 1.2-2.2 3.5-5.3 1.6-3.5 1-3 0.5-2.5 0-2.5-0.5-2-1.4-3-3.7-5.5-2.2-2-2.8-1.8-7.5-3.3-5-1.6-2-0.3-8.5-0.4-3-0.5-3-0.7-3.5-1.5-1.5-1.1-1.5-1.3-1.6-2-1.6-3.5-1.2-3.5-1.7-6-3.4-11-4.7-11.5-1.3-3-0.6-0.2-2.3 5.2-4.1 10.5-3.3 10.5-1.5 5.5-1 3-1.8 3.9-1.6 2.1-1.4 1.3-1.5 1-2 1-2 0.7-5.5 1.1-8.5 0.4-2 0.3-4.5 1.4-7 3-3.2 1.8-2.5 2-1.5 2-3.3 5.2-0.9 2.3-0.3 2.5 0.1 2.5 0.7 2.5 1.8 4.5 4.6 7.5 3.3 7.5 2.1 4 0.6 1 0 2z"/>
<path fill="#00c4ff" d="M114 514.5l29.5 0 0-2 7.1-8.5 4.8-7.4 1.4-1.6 1.1-1 1.5-0.7 1.5-0.3 3.1 0 1.5 0.1 1 0.4 1.5 1 1 1 5.3 8 7.5 9 0 2 29.5 0 0-2 0.7-1 1.9-4 2.7-6.5 1.3-2.5 3.4-5.5 1.4-3 0.9-3 0.4-2 0-2.5-0.4-2-1.1-2.5-4.2-6-2.3-2.1-3-1.7-7-2.8-4.5-1.4-2.5-0.3-8.5-0.4-5-0.9-2-0.6-2-1-1.5-0.9-1.5-1.3-2-2.6-1.5-3-1.5-4.3-1.9-6.7-3.1-10-4.8-11.5-0.7-1.6-0.6-0.2-2.1 4.8-3.8 9.5-3 9.5-1.6 6-1.4 4-1.6 3.4-2 2.6-1.5 1.3-1.5 1-2 0.9-2 0.7-2.5 0.5-3 0.4-8 0.4-2.5 0.3-4.5 1.3-6.5 2.6-3 1.6-2.5 2.1-1.5 1.8-3.5 5.4-0.9 2.2-0.3 2.5 0.2 2.5 0.7 2.5 0.9 2.5 1 2 4.4 7.3 3 7.2 1.9 4 0.7 1 0 2z"/>
<path fill="#00ccff" d="M114.1 514.5l29.4 0 0-2 7.3-9 5.1-8 1-1.1 1.5-1 1-0.5 1.5-0.2 4.6 0.1 1.5 0.6 1.5 1.1 1.5 1.9 4.5 7.1 7.3 9 0 2 29.4 0 0-2 0.7-1 1.9-4 2.7-7 1.1-2 3.3-5.5 1.4-3 0.9-3 0.3-2 0-2-0.4-2-1.1-2.5-4.4-6-2.1-1.9-3-1.7-6-2.3-5-1.4-3-0.4-8.5-0.3-4.5-0.7-2-0.6-2-0.9-1.5-0.9-1.5-1.3-2.2-2.6-1.8-3.5-1.5-4.3-2.2-7.7-2.8-9-4.8-11-0.2-0.7-0.6-0.2-3.9 8.9-1.5 4-2.7 8.5-1.9 7-1.5 4.2-1.6 3.3-2.4 3-1.5 1.3-1.5 1-2 0.9-2 0.6-5 0.8-8 0.2-3 0.4-4.5 1.2-6 2.3-3 1.5-2.5 2-1.4 1.8-3.6 5.3-0.9 2.2-0.3 2.5 0.3 2.5 0.9 3 1.5 3.5 3.3 5.5 1.2 2.3 2.6 6.7 1.9 4 0.7 1 0 2z"/>
<path fill="#00d4ff" d="M114.1 514.5l29.3 0 0-2 7.3-9 5.2-8.4 1.1-1.1 1.4-1 1-0.4 1.5-0.2 1.5 0.2 2.1-0.2 1.5 0.2 1.5 0.8 1.5 1.3 1.5 2 4.1 6.8 7.3 9 0 2 29.3 0 0-2 0.7-1 1.8-4 2.6-7 1.2-2.5 3-5 1.3-3 1.1-4.5 0.1-2-0.4-2-1.1-2.5-4-5.5-2.5-2.2-3-1.7-5.5-2-5-1.2-3-0.4-9-0.2-4.5-0.7-3.5-1.3-1.5-0.9-1.5-1.2-2.5-3-2-3.8-1.5-4.3-2.3-8.1-2.5-8-1.6-4-3.1-6.9-0.6-0.2-3.2 7.1-1.8 4.4-2.3 7.6-2.2 8-1.5 4.1-2 3.9-2.5 3.1-1.5 1.2-1.5 1-2 0.8-2 0.6-4.5 0.6-8.5 0.2-3 0.4-5 1.2-5 1.8-3 1.5-2.5 2-1.4 1.6-3.5 5-0.8 2-0.4 2.5 0.2 2.5 0.7 2.5 1.3 3.5 4.4 7.6 2.7 7.4 1.8 4 0.7 1 0 2z"/>
<path fill="#00dcfe" d="M114.2 514.5l29.1 0 0-2 7.2-9 5.4-8.8 1-1.1 1.5-1 1-0.3 1.5-0.2 1.5 0.2 2.1-0.2 1.5 0.2 1.5 0.7 1.5 1.2 1.5 2.1 4.3 7.2 7.2 9 0 2 29.1 0 0-2 0.7-1 1.8-4 2.6-7.5 1-2 2.9-5 1.3-3 1-4.5 0-2-0.4-2-1.2-2.5-3.8-5-2.5-2.1-3-1.6-5-1.7-5.5-1.2-3.5-0.3-8.5-0.1-4-0.5-2-0.6-2-0.8-1.5-1-1.5-1.2-1.3-1.4-1.2-1.8-2-4-1.6-4.2-2.2-8.5-2.4-7.5-1.4-3.5-2.4-5.2-0.5-1-0.6-0.2-3 6.3-1.6 4.1-2.2 7-2.2 8.2-1.5 4.2-1.1 2.6-1.4 2.3-1 1.4-1.5 1.6-1.5 1.1-1.5 0.9-2 0.8-2 0.5-4 0.4-8 0.1-3.5 0.3-5 1-5 1.6-3 1.5-2.5 1.9-1.5 1.7-3.5 4.9-0.8 2-0.3 2 0.2 2.5 0.6 2.5 1.4 3.5 4.1 7.5 2.6 7.5 1.8 4 0.7 1 0 2z"/>
<path fill="#00e4f8" d="M114.2 514.5l29 0 0-2 7.1-9 1.6-2.5 3-5.4 1.5-1.9 1.5-1.2 1.5-0.6 1.5-0.2 1.5 0.2 2.1-0.2 1.5 0.2 1 0.4 1.5 1 1.1 1.2 5.4 9 7 9 0 2 29.1 0 0-2 0.6-1 1.8-4 2.5-7.8 3.9-7.2 1-2.5 0.7-2.5 0.3-2 0-2-0.3-1.5-0.6-1.5-0.9-1.5-3.6-4.5-2.5-2-3-1.5-4.5-1.4-5.5-1.1-4-0.2-8 0-4-0.4-2-0.5-2-0.8-1.5-0.8-1.5-1.2-1.5-1.6-1-1.4-2.3-4.6-1.9-5-2.2-8.5-2.2-7-2.9-6.7-1-2-0.6-0.2-2.5 5.1-1.7 4.3-2 6.5-2.2 8.5-1.6 4.3-2.5 5.1-1.1 1.6-1.4 1.5-1.5 1.2-1.5 0.9-2 0.8-2 0.5-4 0.4-8 0-3.5 0.2-5 0.8-5 1.4-3 1.4-2.5 1.8-2 2.3-2.8 3.8-0.9 2-0.3 2 0.1 2.5 0.6 2.5 1.3 3.5 3 5.3 1 2.1 2.4 7.6 1.8 4 0.6 1 0 2z"/>
<path fill="#06ecf1" d="M114.3 514.5l28.9 0 0-2 7.3-9.5 4.2-7.5 1.5-2 1.7-1.4 1.5-0.6 1.5-0.1 1.5 0.2 2.1-0.2 1.5 0.1 1 0.4 1.5 0.9 1 1.2 1.4 2 3.9 7 7.3 9.5 0 2 28.9 0 0-2 0.7-1 1.8-4.5 2.3-7.5 0.9-2 2.7-5 1.1-2.6 0.9-3.9 0-2-0.3-1.5-0.6-1.5-0.8-1.5-3.2-4-2.5-2.1-3.5-1.8-4.5-1.2-5.5-0.8-4-0.2-8 0.1-4-0.3-2-0.5-2-0.8-1.5-0.8-1.5-1.2-1.3-1.4-1.2-1.7-2-4.2-2.2-6.1-2.3-8.5-2-6.7-2.9-6.3-0.6-1.4-0.6-0.2-2.2 4.6-1.6 4-2 6.5-2.1 8-2.1 5.8-2.2 4.7-1.3 1.7-1.2 1.3-1.3 1-1.7 1-1.8 0.7-2 0.5-4 0.3-8-0.1-4 0.2-5 0.7-4.5 1.1-3 1.3-2.5 1.7-2.5 2.7-2.4 3.4-0.8 2-0.3 2 0.1 2 0.5 2.5 1.4 3.5 2.7 5 0.9 2 2.4 8 1.7 4 0.7 1 0 2z"/>
<path fill="#0cf4eb" d="M114.4 514.5l28.7 0 0-2 7.2-9.5 5.1-9.1 1-1.2 1.5-1.1 1-0.4 1.5-0.2 2 0.3 2.1-0.3 1.5 0.1 1.5 0.6 1.6 1.3 1.5 2 4.4 8 7.2 9.5 0 2 28.7 0 0-2 0.7-1 1.8-4.5 2.1-7.6 1-2.3 2.7-5.1 1-2.5 0.5-2 0.2-2-0.1-1.5-0.3-1.5-0.6-1.5-0.9-1.5-3-3.6-1.5-1.3-1.5-1-3-1.3-4-1-6-0.7-4-0.1-8 0.3-4-0.3-3.6-1-1.4-0.8-1.7-1.2-2.3-2.6-1.8-3.4-3-8.5-2.2-8.5-2-6.5-2.5-5.7-0.5-1-0.6-0.2-1.8 3.9-1.4 3.5-2 6.5-2.1 8-2.8 8-1.9 3.7-1 1.4-1.5 1.5-1.5 1.1-1.5 0.8-2 0.7-2 0.3-4 0.3-7.5-0.3-3.5 0-6 0.7-4 0.9-3 1.2-2.5 1.6-2.5 2.5-2.2 3.1-0.9 2-0.4 2 0.1 2 0.5 2.5 1.1 3 2.8 5.3 0.9 2.2 2.1 7.5 1.8 4.5 0.7 1 0 2z"/>
<path fill="#13fce4" d="M114.4 514.5l28.6 0 0-2 7.1-9.5 1.7-3 2.6-5.2 1.5-2.1 1.5-1.3 1.5-0.7 1.5-0.2 2 0.4 2.6-0.4 1.5 0.2 1 0.5 1.5 1.1 1 1.1 5.2 9.6 7.1 9.5 0 2 28.6 0 0-2 0.7-1 1.7-4.5 2-8 0.9-2 2.6-5 0.9-2.5 0.6-3.5 0-1.5-0.2-1.5-0.6-1.5-0.9-1.5-2.6-3.2-3-2.3-3-1.4-4.5-1-6.5-0.6-3.5 0-7.5 0.5-4-0.1-2-0.4-2-0.6-1.5-0.8-1.5-1-2.4-2.6-1.6-3.1-3.5-10.4-1.9-7.5-2-6.5-2.1-5.1-0.5-0.9-0.6-0.2-1.7 3.7-1.2 3-1.8 6-1.9 7.5-3.4 10.1-1.5 3-1 1.4-1.5 1.5-1.5 1.1-1.5 0.8-2 0.6-2 0.4-4 0.1-7.5-0.5-3.5 0-6 0.5-4 0.8-3 1.1-2.5 1.5-2.5 2.3-2.1 2.8-0.9 2-0.4 1.5-0.1 2 0.4 2.5 1.1 3.2 3.6 7.3 2 8 1.7 4.5 0.7 1 0 2z"/>
<path fill="#19ffde" d="M114.5 514.5l28.5 0 0-2 6.9-9.5 1.7-3 2.8-5.8 1.5-2.1 1.5-1.3 1.5-0.6 2-0.1 1.5 0.4 2.6-0.4 1.5 0.1 1 0.4 1.5 1.1 1 1.1 1.3 2.2 2.1 4.5 1.7 3 7.2 10 0 2 28.5 0 0-2 0.7-1 1.7-4.5 1.8-8 1-2.5 2.5-5 0.9-2.5 0.4-3.5-0.3-2.5-1.6-3-1.1-1.5-1.3-1.3-3-2.2-3-1.2-4-0.8-7-0.5-3 0.1-8 0.7-4.5-0.1-2-0.4-1.5-0.5-1.5-0.7-1.5-1.1-2.5-2.8-1.5-2.8-3.7-11.9-1.7-7-1.9-6-1.8-4.5-0.4-1-0.6-0.2-1.5 3.2-1.3 4-1.5 5-1.6 6.5-3.6 11.6-1.5 2.9-1.1 1.5-1.5 1.5-1.4 1-1.5 0.8-2 0.6-2 0.3-4 0.1-8-0.7-3-0.1-6.5 0.4-4 0.7-3 1.1-2.5 1.6-2.4 2.2-1.6 2.3-0.9 1.7-0.5 2 0 2 0.3 2 1 3 2.6 5.2 0.9 2.3 1.8 8 1.7 4.5 0.7 1 0 2z"/>
<path fill="#1fffd7" d="M114.6 514.5l28.3 0 0-2 0.8-1 1.2-1.9 5.1-7.1 4.9-9.8 1-1.3 1.5-1.2 1-0.4 1.5-0.2 1.5 0.2 1 0.3 2.6-0.5 1.5 0.1 1.5 0.6 1.5 1.2 1.6 2.5 2.6 5.5 1.6 3 5.2 7.2 1 1.8 0.9 1 0 2 28.3 0 0-2 0.7-1 1.6-4.5 1.8-8.5 3.2-7 0.9-2.5 0.4-3-0.3-2.5-1.5-3-2-2.4-3-2.2-1.5-0.8-2-0.6-4-0.7-6.5-0.3-3.5 0.2-8 0.8-4.5 0.1-2-0.3-1.5-0.5-1.5-0.7-1.5-1.1-2.5-2.9-1-1.7-0.9-1.9-1.6-6.5-2-6.5-1.3-5.5-1.4-4.5-1.7-5-0.6-1.4-0.6-0.2-1.3 3.1-1.9 6-1.7 7-2 6.5-1.8 7-0.8 1.7-1 1.8-1.5 1.9-1.5 1.4-1.5 1-1.5 0.7-3.5 0.6-4.5-0.1-7.5-0.8-3-0.2-6.5 0.3-3.5 0.4-3 0.9-2.5 1.3-2.5 2.1-1.9 2.5-1 2-0.4 1.5-0.1 2 0.3 2 1 3 3.2 7 1.8 8.5 1.6 4.5 0.7 1 0 2z"/>
<path fill="#26ffd1" d="M114.6 514.5l28.2 0 0-2 0.9-1 1.2-2.1 3.3-4.4 1.9-3 1.5-3 2.3-5.4 1-1.7 1-1.3 1-0.8 1-0.5 1.5-0.3 1.5 0.2 1.5 0.5 2.6-0.6 1.5 0 1.5 0.5 1.5 1.1 1.8 2.8 2.6 6 1.6 3 5 7.1 1.1 1.9 0.9 1 0 2 28.2 0 0-2 0.7-1 1.5-4.5 1.6-8.6 0.9-2.4 2.1-4.5 0.9-2.5 0.3-2.5-0.2-2.5-0.6-1.5-0.8-1.5-1.1-1.5-1-1-3-2-1.5-0.7-2-0.6-3.5-0.6-7-0.2-3 0.3-8.5 1.1-4.5 0.2-2-0.2-1.5-0.4-1.5-0.7-1.1-0.7-1.4-1.4-1-1.4-1.5-2.4-1.1-2.3-0.6-2-1-5.5-2-6.5-1.6-6.5-2.2-7-0.5-1.4-0.6-0.2-1.1 3.1-2 6.5-1.3 5.5-2 6.5-1.6 7.5-1 2.1-1.5 2.5-1.4 1.9-1.1 1-1.5 0.9-1.5 0.6-3.5 0.5-4-0.2-8.5-1.1-3-0.2-6.5 0.1-3 0.4-3.5 0.9-2.5 1.4-2.5 2.1-1.5 2.1-0.7 1.5-0.5 1.5-0.1 2 0.2 2 0.8 2.5 2.5 5.5 0.7 2 1.3 7.5 1.6 5 0.9 1.5 0 2z"/>
<path fill="#2cffca" d="M114.7 514.5l28 0 0-2 0.9-1 1.3-2.2 3.1-4.3 1.9-3 1.5-3 2.5-6.3 1.5-2.4 1.5-1.3 1.5-0.6 2 0.1 2 0.7 2.1-0.6 1.5-0.2 1.5 0.2 1 0.4 1 0.8 1 1.3 1 1.8 2.4 6.1 1.5 3 1.9 3 3.2 4.4 1.2 2.1 0.9 1 0 2 28 0 0-2 0.9-1.5 1.4-4.5 0.8-6 0.6-2.5 2.7-6.5 0.8-2.5 0.3-2.5-0.3-2.5-1.3-2.6-1-1.4-1.1-1-1.4-1-2-1.1-3.5-1.1-3.5-0.4-6 0-3.5 0.4-9 1.4-4 0.3-2-0.2-1.5-0.3-1.5-0.6-1.4-0.9-1.1-1.2-1-1.5-3-5.8-0.4-1.5-0.7-5-0.5-2.5-1.8-5.5-1.1-5-1.3-4.5-1.2-3.7-0.6-0.3-2.2 7-1.5 6.5-1.9 6-1 6.5-0.5 2-1.4 2.8-2 3.7-1 1.3-1 0.9-1.5 0.9-1.5 0.5-3.5 0.4-3.5-0.3-12-1.8-4-0.1-5 0.3-3.5 0.8-2.5 1.2-2.5 1.8-1.7 2.1-0.8 1.5-0.5 1.5-0.2 2 0.2 2 0.7 2.5 2.9 7 0.6 2.5 0.8 6 1.4 4.5 0.9 1.5 0 2z"/>
<path fill="#33ffc4" d="M114.8 514.5l27.8 0 0-2 0.9-1 1.4-2.4 3.2-4.6 1.8-3 1.5-3 2.4-6.5 0.6-1.4 1-1.4 1-0.9 1.5-0.6 2 0.1 2.5 1 2.6-0.9 1.5-0.3 1.5 0.2 1 0.5 1 1 0.8 1.2 1.2 2.5 1.9 5.5 1.5 3 1.8 3 3.3 4.7 1.3 2.3 0.9 1 0 2 27.8 0 0-2 0.9-1.5 1.4-4.5 0.7-6.4 0.4-2.1 0.7-2 2.1-5 0.5-2 0.3-2.5-0.3-2-0.6-1.5-0.9-1.5-2.2-2.2-3.2-1.8-3.8-1.1-4-0.3-4.5 0.2-4.5 0.6-9 1.7-3.5 0.4-2-0.1-2-0.3-1.5-0.6-1-0.7-1-1-1-1.6-3.2-7.2-0.5-2-0.9-7-1.9-6-1.2-5-1.1-4-0.7-2.3-0.6-0.3-1.8 6.1-1.4 6-1.8 5.5-0.9 7-0.5 2-3.3 7.5-1 1.5-1.1 1-1.2 0.7-1.5 0.5-3.5 0.3-3.5-0.4-13-2.3-4-0.2-4 0.2-3.5 0.7-2.5 1-3 2-1.6 2-0.9 1.5-0.4 1.5-0.2 1.5 0.2 2 0.6 2.5 2.1 5 0.7 2 0.4 2 0.7 6.5 1.4 4.5 0.9 1.5 0 2z"/>
<path fill="#39ffbe" d="M114.9 514.5l27.7 0 0-2 0.9-1 1.4-2.6 3.4-4.9 1.7-3 1.5-3.5 2.3-7 0.6-1.5 1-1.4 1.5-0.9 1.5 0 2 0.5 2 1.1 0.6-0.1 2.5-1.2 2-0.4 1 0.2 1 0.5 0.7 0.7 0.8 1.2 1 2.4 1.8 5.9 1 2.5 2.2 4 3.5 5.1 1.3 2.4 0.9 1 0 2 27.7 0 0-2 0.9-1.5 1.3-4.5 0.6-6.5 0.5-2.5 2.4-6.5 0.5-2 0.2-2-0.3-2.2-0.5-1.3-1-1.6-1-1.1-1.5-1.2-1.5-0.9-2-0.8-4-0.9-3.5-0.1-4 0.3-5 0.8-9 2-3.5 0.5-2 0-2-0.2-1.5-0.5-1-0.6-1-1.1-0.9-1.6-3.1-9-0.4-2-0.5-5-0.3-2-1.9-6-2.2-8.5-0.2-0.9-0.6-0.3-1.2 4.2-1.3 5.5-1.9 6-0.3 2-0.5 5-0.4 2-3.1 9-0.8 1.4-1 1.2-1 0.7-1.5 0.5-2 0.2-2 0-3.5-0.5-8.5-1.8-5-0.9-3.5-0.4-3.5 0-4 0.7-3 1.1-2.5 1.6-2 2.1-0.8 1.6-0.5 1.5-0.1 1.5 0.1 1.5 0.6 2.5 2.4 6.5 0.5 2.5 0.6 6.5 1.3 4.5 0.9 1.5 0 2z"/>
<path fill="#40ffb7" d="M114.9 514.5l27.6 0 0-2 0.9-1 1.5-2.8 3.2-4.7 2.3-4.5 1.1-3 2.4-9.2 1-1.9 1-0.5 1.5 0.2 2.5 1.1 2.5 1.6 0.6-0.1 3.5-2.1 2.5-0.7 1 0.2 0.5 0.4 0.5 0.8 1 3 1.8 7.2 1.1 3 2.3 4.5 3.3 4.9 1.4 2.6 0.9 1 0 2 27.6 0 0-2 0.9-1.5 1.2-4.5 0.3-2.5 0.1-4 0.4-2.5 0.6-2 1.6-4.5 0.5-2 0.1-2-0.3-2-0.7-1.5-1.1-1.5-1.1-1-1.4-1-3.5-1.5-2-0.5-2.5-0.3-4 0.1-5 0.8-12 2.9-3 0.5-5.5 0.4-1-0.1-1-0.3-0.5-0.5-0.7-1.5-1.3-7-1.9-6-0.9-8.5-1.9-6-1.8-7.4-0.6-0.4-1.9 7.8-1.9 6-0.3 2-0.5 6-2 6.5-1.1 6.5-0.6 1.5-0.7 0.9-1 0.4-1 0.1-5.5-0.4-3-0.5-12-2.9-5-0.8-3.5-0.2-3.5 0.5-3.5 1.1-3 1.8-1.9 2-0.6 1.1-0.5 1.4-0.2 1.5 0.1 2 0.5 2 1.6 4.3 0.6 2.2 0.4 2.5 0.1 4 0.3 2.5 1.2 4.5 0.9 1.5 0 2z"/>
<path fill="#46ffb1" d="M115 514.5l27.4 0 0-2 0.9-1 1.3-2.5 3.9-6 1.5-3 0.9-2.5 0.9-4 0.6-4-0.1-2.5-0.8-1.5-1.1-0.8-1.5-0.6-5-1.1-11-3.1-7.5-1.4-3.5-0.1-3 0.5-3 1.1-3 1.7-1.5 1.6-1 1.7-0.4 1.5-0.1 2 0.5 2.5 1.9 6 0.3 2.5 0.1 4.5 0.2 2.5 1.2 4.5 0.9 1.5 0 2zM182.9 514.5l27.4 0 0-2 0.7-1 1.4-5 0.2-2.5 0.1-4.5 0.3-2.5 1.9-6 0.5-2.5-0.1-2-0.4-1.5-0.8-1.5-1.1-1.2-2.5-1.8-3.5-1.4-3.5-0.7-3 0.1-5.5 0.8-4.5 1.1-9 2.5-5.5 1.3-1.5 0.7-0.7 0.6-0.8 1.5-0.1 2.5 0.6 4 0.9 4 0.9 2.5 1.5 3 3.7 5.7 1.5 2.8 0.9 1 0 2zM162.1 487l0.3 0.3 0.8-0.3 2.9-2.5 1.6-2 0.8-2.5 0.3-4-0.3-3.5-1.7-6-0.6-7.5-2.1-7-1.1-4.9-0.6-0.4-1.4 5.8-1.9 6.5-0.6 7.5-1.7 6-0.3 3 0.3 4.5 0.8 2.5 1.6 2 2.9 2.5z"/>
<path fill="#4dffaa" d="M115.1 514.5l27.2 0 0-2 0.9-1 1.2-2.3 3.6-5.7 1.5-3 0.9-2.5 0.8-3.5 0.3-3.5-0.3-2.5-0.7-1.5-1.1-0.9-1.5-0.8-9.5-3-6.5-1.8-6.5-1.2-3-0.1-3 0.4-3 1.1-2.9 1.8-1.5 1.5-0.8 1.5-0.4 1.5-0.1 2 0.3 2 1.4 4.5 0.4 2 0.2 2.5-0.1 4.5 0.2 2.5 1.3 4.5 0.7 1 0 2zM183 514.5l27.2 0 0-2 0.7-1 1.3-4.5 0.2-2.5-0.1-4.5 0.2-2.5 0.5-2.3 1.3-4.2 0.3-2-0.1-2-0.4-1.5-0.6-1.2-1.1-1.3-2.4-1.7-3.5-1.5-3-0.6-3.5 0.1-6 1.1-6.5 1.8-10 3.1-1.5 0.7-1 0.8-0.9 1.7-0.3 2 0.2 3.5 0.7 3.5 0.9 2.5 1.5 3 3.7 6 1.3 2.5 0.9 1 0 2zM162.2 486.5l0.2 0.2 0.6-0.1 0.6-0.6 1.6-2 0.9-1.5 1.1-3.5 0.6-4.5-0.2-2.5-1.4-5.5-0.5-7.5-2-6.5-0.7-3.2-0.6-0.5-0.8 3.7-2 6.5-0.5 7.5-1.4 5.5-0.2 2 0.3 3.5 1 4 1.3 2.5 2.1 2.5z"/>
<path fill="#53ffa4" d="M115.2 514.5l27 0 0-2 0.9-1 1.3-2.5 3.6-6 1.4-3 0.8-2 0.6-3 0.1-3-0.4-2.5-0.9-1.5-1.1-1-1.1-0.6-8-2.8-7-2.1-6.5-1.4-3-0.2-3 0.5-2.9 1.1-2.6 1.5-1.1 1-1.1 1.5-0.6 1.5-0.2 2 0.3 2 1.1 4.5 0.3 2 0.1 2.5-0.2 4.5 0.2 2 1.1 4.5 0.4 1 0.5 0.5 0 2zM183.1 514.5l27 0 0-2 0.5-0.5 0.4-1 1.1-4.5 0.2-2-0.2-4.5 0.1-2.5 0.3-2.2 1.1-4.3 0.3-2-0.1-1.5-0.5-1.5-0.8-1.4-1-1.1-3-1.9-3-1.2-3-0.5-3 0.2-6 1.2-7 2.1-8.5 3-1.5 0.8-0.8 0.8-0.9 1.5-0.4 2.5 0.1 3 0.6 3 1 2.5 1.2 2.5 3.7 6.1 1.2 2.4 0.9 1 0 2zM162.4 486l0.6-0.1 0.7-0.9 1.6-3 1.4-5.5 0.3-3-0.2-2-1.1-4.5-0.5-8-2.2-7.7-0.6-0.4-2.3 8.1-0.5 8-1.1 4.5-0.2 2 0.3 3 1.3 5 0.8 2 1.7 2.5z"/>
<path fill="#5aff9d" d="M115.3 514.5l26.9 0 0-2 0.9-1 1.3-2.8 3.4-5.7 1.2-2.5 0.9-2.5 0.5-3 0-2.5-0.5-2-0.8-1.5-1.1-1-1.1-0.7-7-2.7-7.5-2.3-6.5-1.5-3-0.1-2.5 0.4-3 1.2-2.5 1.5-1.2 1.2-0.9 1.5-0.5 1.5-0.1 1.5 1.3 8 0 2.5-0.3 4.5 0.1 2 1 4.5 0.5 1 0.5 0.5 0 2zM183.1 514.5l26.9 0 0-2 0.5-0.5 0.5-1 1-4.5 0.1-2-0.3-4.5 0-2.5 1.3-8-0.1-1.5-0.5-1.5-0.5-1-1-1.1-2.5-1.8-3-1.3-3-0.6-3 0.1-6 1.3-7 2.2-8 3-2 1.4-1 1.5-0.6 2.3 0 2.5 0.5 3 0.9 2.5 1.2 2.5 3.5 5.9 1.2 2.6 0.9 1 0 2zM162.3 485l0.1 0.3 0.6-0.2 1.3-2.6 1.6-6 0.4-3-0.1-2-1.1-4.5-0.4-8-1.7-6-0.6-0.4-1.8 6.4-0.4 8-1.1 4.5-0.1 1.5 0.2 2.5 1.3 5.5 0.7 2 1.1 2z"/>
<path fill="#60ff97" d="M115.3 514.5l26.8 0 0-2 0.9-1 1.4-3 2.9-5 1.2-2.5 0.9-2.5 0.5-2.5 0-2.5-0.4-2-0.8-1.5-0.9-1-1.4-0.9-6-2.4-7.5-2.5-6-1.5-3-0.3-2.5 0.3-3 1.1-2.5 1.5-1.3 1.2-1 1.5-0.5 1.5-0.1 1.5 0.9 7.5-0.1 2.5-0.4 4 0.1 2.5 0.9 4.5 0.5 1 0.4 0.5 0 2zM183.2 514.5l26.8 0 0-2 0.4-0.5 0.5-1 0.9-4.5 0.1-2.5-0.4-4-0.1-2.5 0.9-7.5-0.1-1.5-0.5-1.5-0.7-1.2-1-1-2.5-1.7-2.5-1.1-2.5-0.5-3 0-6 1.4-7.5 2.4-6.5 2.5-1.5 0.8-1 0.9-1 1.5-0.6 2 0 2.5 0.3 2.5 0.9 2.5 1.4 3 3 5.2 1.3 2.8 0.9 1 0 2zM162.3 484l0.1 0.3 0.6-0.2 0.8-2.1 1.7-7 0.2-2-0.1-1.5-0.9-4.5-0.5-8-1.2-4.6-0.6-0.3-1.4 5.4-0.4 7.5-0.9 4.5-0.1 1.5 0.2 2 1.4 6 1.1 3z"/>
<path fill="#66ff90" d="M115.4 514.5l26.6 0 0-2 0.9-1 1.5-3.2 2.7-4.8 1.3-3 0.7-2 0.4-2 0-2-0.4-2-0.7-1.6-1-1.1-1.1-0.8-4.9-2.2-8.5-2.9-5.5-1.4-3-0.3-2.5 0.2-2.5 0.8-2.5 1.5-1.5 1.3-1 1.5-0.5 1.5-0.2 1.5 0.5 7-0.1 2.5-0.5 4 0 2.5 0.9 4.5 0.4 1 0.5 0.5 0 2zM183.3 514.5l26.6 0 0-2 0.4-0.5 0.5-1 0.9-4.5 0-2.5-0.5-4-0.1-2.5 0.5-7-0.2-1.5-0.4-1.3-0.7-1.2-0.9-1-2.4-1.7-2.5-1.1-2.5-0.5-3 0.1-6 1.4-7.5 2.5-5.6 2.3-1.4 0.8-1 0.9-1 1.5-0.6 1.8-0.1 2 0.3 2.5 0.8 2.5 1.1 2.5 3 5.4 1.4 3.1 0.9 1 0 2zM162.4 483l0 0.2 0.6-0.3 0.3-0.9 1.9-9-0.1-1.5-0.9-4-0.4-8-0.8-3.7-0.6-0.3-0.9 4-0.4 8-1 5 0.2 2 2.1 8.5z"/>
<path fill="#6dff8a" d="M115.5 514.5l26.4 0 0-2 0.9-1 1.4-3 2.7-5 1.1-2.5 0.8-2.5 0.3-2-0.1-2-0.3-1.5-0.8-1.5-0.8-1-1.2-0.9-4-1.8-9-3.2-5-1.2-2.5-0.5-2.5 0.1-2.5 0.7-2.5 1.4-1.5 1.3-1 1.2-0.6 1.4-0.4 2 0.2 6.5-0.8 6.5-0.1 2 0.2 2 0.7 3 0.4 1 0.5 0.5 0 2zM183.4 514.5l26.4 0 0-2 0.8-1 0.2-1 0.6-3 0.2-2.5-0.9-7 0.2-6.5-0.1-1.5-0.8-2.2-1.5-1.8-2.5-1.8-2.5-1-2.5-0.3-2.5 0.2-5.5 1.4-8 2.7-5 2.1-1.2 0.7-1 1-0.8 1.2-0.6 1.8-0.2 2.5 0.3 2 0.8 2.5 1.1 2.5 2.6 4.7 1.5 3.3 0.9 1 0 2zM162.4 481.5l0 0.3 0.6-0.4 0.1-0.4 1.4-7 0.2-1.5-0.8-4.5-0.5-8.5-0.4-2.2-0.6-0.4-0.6 3.6-0.4 7.5-0.8 4.5 0.2 1.5 1.6 7.5z"/>
<path fill="#73ff83" d="M115.6 514.5l26.2 0 0-2 0.9-1 1.2-2.8 2.7-5.2 1.3-3 0.6-2 0.2-1.5-0.1-2-0.4-1.5-0.8-1.5-0.9-1-1.1-0.8-3.5-1.7-9-3.1-5-1.4-2.5-0.3-2.5 0.1-2.2 0.7-2.3 1.3-1.5 1.4-0.9 1.3-0.7 1.5-0.2 1.5-0.2 6.5-0.9 6-0.1 2 0.1 2 0.7 3 0.4 1 0.5 0.5 0 2zM183.5 514.5l26.2 0 0-2 0.8-1 0.7-3 0.2-2 0-2-1-6.5-0.3-7.5-0.5-1.5-0.6-1-1.5-1.7-2-1.4-2.5-1-2-0.3-2.5 0.2-5 1.2-8.5 2.9-4.5 1.9-2.2 1.7-1 1.5-0.5 1.5-0.2 2 0.2 2 0.6 2 1.3 3 2.6 5 1.3 3 0.9 1 0 2zM162.4 479.5l0 0.4 0.6-0.5 1.2-6.9-0.7-4.5-0.4-8-0.1-0.8-0.6-0.6-0.3 2.4-0.3 7-0.7 4.5 1.3 7z"/>
<path fill="#7aff7d" d="M115.7 514.5l26 0 0-2 0.9-1 1.3-3 2.3-4.5 1.8-5 0.3-1.5-0.1-2-0.4-1.5-0.8-1.5-0.9-1-1.2-0.8-3-1.5-8-2.8-5-1.5-3-0.5-2 0-2.2 0.6-2.3 1.2-1.5 1.2-1 1.2-0.7 1.4-0.5 2-0.4 6-1.1 5.5-0.2 2.5 0.2 2 0.5 3 0.5 1 0.5 0.5 0 2zM183.6 514.5l26 0 0-2 0.8-1 0.7-3 0.2-2-0.1-2-1.1-6-0.7-7.5-0.9-2.2-1.6-1.8-2.2-1.5-2.2-0.9-2.5-0.2-2.5 0.3-4.5 1.2-8.5 2.9-4 1.8-2 1.7-0.8 1.2-0.5 1.5-0.2 2 0.2 1.5 0.7 2.5 1 2.5 2.6 5.2 1.2 2.8 0.9 1 0 2zM162.4 477.5l0 0.2 0.6-0.6 0.8-4.6-0.6-4-0.2-4.3-0.6-2.5-0.3 6.8-0.6 4 0.9 5z"/>
<path fill="#80ff77" d="M115.8 514.5l25.9 0 0-2 1.1-1.5 3.6-8 1.2-3.5 0.3-1.5 0-1.5-0.3-1.5-0.7-1.5-1.5-1.7-3-1.7-4.5-1.7-8.5-2.7-3-0.5-2-0.1-2.5 0.7-2 1.1-2 1.8-1.2 2.3-0.5 2-0.8 6-1 5-0.2 2 0.1 2 0.7 3.5 0.8 1 0 2zM183.6 514.5l25.9 0 0-2 0.8-1 0.6-3 0.2-2-0.1-2-1.2-6-1-7-0.6-1.5-0.6-1-1.6-1.7-2-1.3-2-0.7-2-0.2-3 0.4-4 1-8.5 2.9-3.5 1.7-2 1.6-0.9 1.3-0.5 1.5-0.2 1.5 0.1 1.5 0.7 2.5 1.2 3 3.3 7.5 0.9 1 0 2zM162.4 475.5l0.6-0.5 0.4-2.5-0.4-2.8-0.6-0.7-0.5 3.5 0.5 3z"/>
<path fill="#87ff70" d="M115.8 514.5l25.8 0 0-2 0.9-1 0.2-0.5 3.4-8 1.1-3.5 0.3-1.5-0.1-1.5-0.4-1.5-0.6-1.2-1.8-1.8-3.2-1.7-4-1.5-8-2.4-3-0.5-2 0-2 0.5-1.9 1.1-2.1 1.9-1.1 2.1-2.8 12.5-0.2 2 0.1 2 0.7 3.5 0.7 1 0 2zM183.7 514.5l25.8 0 0-2 0.7-1 0.6-3 0.2-2-0.2-2-2.6-12.5-0.9-2-1.8-2-2-1.3-2-0.7-2-0.2-3 0.4-8 2.4-4.5 1.7-3 1.5-1.9 1.7-0.6 1-0.6 1.5-0.1 1.5 0.2 1.5 0.7 2.5 0.9 2.5 3.2 7.5 0.9 1 0 2zM162.4 473.5l0 0.1 0.5-0.6 0.1-0.5-0.1-0.5-0.5-0.8 0 2.3z"/>
<path fill="#8dff6a" d="M115.9 514.5l25.6 0 0-2 0.9-1 0.2-0.5 3.2-8 1.1-3.5 0.2-1.5-0.1-1.5-0.6-1.5-0.5-0.8-1-1.1-1-0.8-3-1.5-4-1.5-7.5-2.3-2.5-0.4-2 0-2 0.5-2 1.1-1.9 1.8-1.1 2-3.2 12-0.2 2.5 0.1 2 0.5 3 0.8 1 0 2zM183.8 514.5l25.6 0 0-2 0.8-1 0.5-3 0.1-2-0.1-2-3.1-12-1.1-2.3-1.5-1.6-2-1.2-2-0.7-2-0.1-2.5 0.3-7.5 2.2-4.5 1.6-3 1.5-2 1.8-0.6 1-0.6 1.5-0.1 1.5 0.2 1.5 1.1 3.5 3.2 8 0.2 0.5 0.9 1 0 2z"/>
<path fill="#94ff63" d="M116 514.5l25.4 0 0-2 0.9-1 0.2-0.5 2.9-7.5 0.9-3 0.3-3-0.3-1.5-0.5-1-0.8-1-1.1-1-2.5-1.4-4-1.5-7-2.1-2.5-0.5-2.5-0.2-2 0.5-2 1-1.8 1.7-1.2 2-0.9 2.5-2.6 9.2-0.3 2.3 0.1 2 0.5 3 0.8 1 0 2zM183.9 514.5l25.4 0 0-2 0.8-1 0.5-3 0.1-2-0.2-2-3.4-11.5-1.1-2.1-1.5-1.6-2-1.3-2-0.6-2-0.1-2.5 0.4-7 2-4 1.4-3 1.5-2 1.7-0.8 1.2-0.4 1.5-0.1 1.5 0.2 1.5 1 3.5 2.9 7.5 0.2 0.5 0.9 1 0 2z"/>
<path fill="#9aff5d" d="M116.1 514.5l25.2 0 0-2 0.9-1 0.2-0.5 2.8-7.5 0.7-2.5 0.3-3-0.3-1.4-0.5-1.1-0.7-1-1.2-1-2.6-1.5-3.5-1.4-6.5-1.8-2.5-0.6-2.5-0.1-2 0.4-2 1-2 1.8-1.3 2.2-3.5 10.5-0.3 2.5 0 2 0.5 3 0.8 1 0 2zM184 514.5l25.2 0 0-2 0.8-1 0.5-3 0-2-0.2-2-3.4-10.5-1.3-2.5-1.5-1.5-1.6-1.1-2-0.7-2-0.1-2.5 0.3-6.5 1.7-4 1.4-3 1.5-2 1.7-0.9 1.3-0.3 1-0.2 1.5 0.1 1.5 0.9 3.5 2.8 7.5 0.2 0.5 0.9 1 0 2z"/>
<path fill="#a0ff56" d="M116.2 514.5l25 0 0-2 0.9-1 0.2-0.5 2.4-7 0.7-2.5 0.3-2 0-1.5-0.2-1-0.6-1.2-1.7-1.8-2.5-1.5-3.3-1.3-5.5-1.6-3-0.6-2.5-0.1-2 0.3-2 0.9-2 1.7-1.5 2.4-1.5 3.7-2.1 6.1-0.4 2.5 0 2 0.5 3 0.8 1 0 2zM184.1 514.5l25 0 0-2 0.8-1 0.4-2.5 0.1-2-0.3-2.5-0.8-2.5-2.8-7.5-1.1-2-1.4-1.6-1.5-1.1-2-0.7-2-0.3-2.5 0.3-5 1.2-5 1.6-3 1.5-2 1.6-0.7 1-0.6 1.5-0.2 1.5 0.2 1.5 0.7 3 2.6 7.5 0.2 0.5 0.9 1 0 2z"/>
<path fill="#a7ff50" d="M116.3 514.5l24.8 0 0-2 0.9-1 0.2-0.5 2.3-7 0.6-2.5 0.2-3-0.4-1.5-0.5-0.9-1.5-1.6-2.5-1.5-3.5-1.4-5-1.3-3-0.6-2.5-0.1-2 0.4-2 1-1.7 1.5-1.6 2.5-1.7 3.9-2 5.6-0.3 2 0 2.5 0.4 2.5 0.8 1 0 2zM184.2 514.5l24.8 0 0-2 0.8-1 0.4-2.5 0-2.5-0.3-2-0.9-2.8-2.5-6.1-1.5-2.6-1.5-1.6-1.5-0.9-2-0.7-2.5-0.2-2.5 0.3-5 1.2-4 1.4-2.9 1.5-1.8 1.5-0.8 1.3-0.4 1.2-0.1 1.5 0.1 1.5 0.7 3 2.3 7 0.2 0.5 0.9 1 0 2z"/>
<path fill="#adff49" d="M116.4 514.5l24.7 0 0-2 0.9-1 0.2-0.5 2.5-9 0.2-3-0.4-1.5-0.5-1-1.3-1.5-2.4-1.5-3.4-1.3-4-1.1-3.5-0.7-2.5-0.1-2 0.3-2 0.9-2 1.8-1.5 2.1-2 4.2-1.7 4.4-0.5 2.5 0 2 0.4 3 0.8 1 0 2zM184.2 514.5l24.7 0 0-2 0.8-1 0.3-2 0.1-2.5-0.3-2-0.8-2.7-2.5-5.8-1.5-2.5-1.5-1.7-1.5-1-2-0.8-2.5-0.2-2.5 0.2-4.5 1.1-4 1.3-3 1.5-1.9 1.6-0.6 1-0.5 1.5 0 3 0.5 2.5 2.1 7 0.2 0.5 0.9 1 0 2z"/>
<path fill="#b4ff43" d="M116.5 514.5l24.5 0 0-2 0.9-1 0.2-0.5 2.2-8.5 0.2-3-0.3-1.5-0.5-1-1.3-1.5-2.5-1.6-3-1.2-4-1.1-3.5-0.5-2.5-0.1-2 0.4-2 1-2 1.7-1.5 2.2-2 4-1.6 4.2-0.4 2-0.1 2.5 0.4 2.5 0.8 1 0 2zM184.3 514.5l24.5 0 0-2 0.8-1 0.3-2 0.1-2.5-0.3-2-1.2-3.3-2-4.3-1.5-2.5-1.5-1.7-1.5-1.1-2-0.8-2.5-0.3-2.5 0.2-4 0.8-4 1.2-2.7 1.3-1.9 1.5-0.9 1.2-0.5 1.3-0.2 1.5 0 1.5 0.5 2.5 1.9 7 0.2 0.5 0.9 1 0 2z"/>
<path fill="#baff3c" d="M116.6 514.5l24.3 0 0-2 0.5-0.5 0.6-1 2-8 0.1-3-0.3-1.5-0.4-1-1.3-1.5-2.2-1.5-3-1.3-3.5-0.9-3.5-0.6-2.5-0.1-2.5 0.5-2 1-2 1.9-1.5 2.1-2 3.9-1.5 3.7-0.4 2.3 0 2.5 0.2 2 0.9 1 0 2zM184.4 514.5l24.3 0 0-2 0.9-1 0.2-1.5 0.1-2.5-0.4-2.4-1-2.8-2-4.1-1.5-2.5-1.5-1.7-1.5-1.1-2-0.9-2-0.3-3 0-3.5 0.7-4 1.1-3 1.5-1.8 1.5-0.8 1-0.5 1.5-0.2 3 0.4 2.5 1.7 6.5 0.2 0.5 0.9 1 0 2z"/>
<path fill="#c1ff36" d="M116.7 514.5l24.1 0 0-2 0.9-1 0.2-0.5 1.8-8 0-3-0.4-1.5-0.6-1-1.4-1.5-2.4-1.5-2.5-0.9-3.5-0.9-3.5-0.4-2.5 0-2 0.5-2 1.1-2 1.8-1.5 2.1-2 3.7-1.4 3.5-0.4 2.5 0 2.5 0.2 1.5 0.9 1 0 2zM184.5 514.5l24.1 0 0-2 0.9-1 0.1-1 0.1-3-0.3-2-0.9-2.7-2-4-1.5-2.3-1.5-1.7-1.5-1.2-2-0.9-2-0.4-3 0-3.5 0.6-3.5 1-2.5 1.1-2.1 1.5-0.9 1.1-0.7 1.4-0.2 1.5-0.1 1.5 0.4 2.5 1.5 6.5 0.6 1 0.5 0.5 0 2z"/>
<path fill="#c7ff30" d="M116.8 514.5l23.9 0 0-2 0.9-1 0.2-0.5 1.6-8-0.1-3-0.8-2-1.4-1.5-2.2-1.4-2.5-1-3-0.8-3-0.4-3 0-2 0.4-2 0.9-2 1.6-1.5 1.9-2 3.4-1.5 3.4-0.7 2.5 0 2.5 0.2 2 0.9 1 0 2zM184.6 514.5l23.9 0 0-2 0.9-1 0.1-1 0.1-3-0.3-2-0.8-2.2-1.5-3-1.5-2.4-1.5-1.9-1.5-1.4-2-1.1-2.5-0.6-2.5-0.1-3.5 0.5-3.5 0.9-2.9 1.3-2 1.5-0.8 1-0.6 1.5-0.3 1.5 0 1.5 0.3 2.5 1.3 6 0.2 0.5 0.9 1 0 2z"/>
<path fill="#ceff29" d="M116.9 514.5l23.7 0 0-2 0.9-1 0.2-0.5 1.4-7.5-0.2-3-0.7-2-1.3-1.5-2-1.4-2.5-1-3-0.8-3-0.4-3 0-2 0.5-2 0.9-2 1.7-1.5 1.8-2 3.3-1.5 3.3-0.6 2.6 0 2.5 0.2 1.5 0.9 1 0 2zM184.7 514.5l23.7 0 0-2 0.9-1 0.1-1 0.1-2.5-0.3-2-0.7-2.1-1.5-3-1.5-2.4-1.5-1.9-1.5-1.4-2-1.1-2-0.6-3-0.1-3 0.3-3.5 0.8-2.5 1.1-2.1 1.4-1 1-0.8 1.5-0.3 1.5-0.1 1.5 0.2 2.5 1.2 6 0.2 0.5 0.9 1 0 2z"/>
<path fill="#d4ff23" d="M116.9 514.5l23.6 0 0-2 0.9-1 0.2-0.5 1.2-7-0.2-3-0.7-2-1.2-1.5-1.8-1.3-2.5-1.2-3-0.8-3-0.3-3 0.1-2 0.4-2 1-2 1.7-1.5 1.8-2 3.2-1.3 2.9-0.6 2.5-0.1 2.5 0.2 1.5 0.8 1 0 2zM184.8 514.5l23.6 0 0-2 0.5-0.5 0.4-1 0.1-2.5-0.2-2-0.7-2.1-1-2.1-1.5-2.6-1.5-2-1.5-1.5-2-1.3-2-0.7-2.5-0.3-3.5 0.2-3 0.6-3 1.1-2 1.3-1 1-0.9 1.4-0.4 1.5-0.2 1.5 0.2 2.5 0.8 5 0.4 1.5 0.9 1 0 2z"/>
<path fill="#dbff1c" d="M117 514.5l23.4 0 0-2 0.9-1 0.2-0.5 1-7-0.2-3-0.9-2-1.4-1.5-1.6-1.1-2.5-1.1-3-0.7-2.5-0.2-3 0.1-2 0.5-2 1-2 1.6-2 2.5-1.7 2.9-1.1 2.5-0.5 2.5 0 2.5 0.1 1 0.8 1 0 2zM184.9 514.5l23.4 0 0-2 0.8-1 0.2-2.5-0.3-2.5-1-2.8-2-3.4-2-2.6-2-1.7-2-1-2.5-0.6-3.5 0-3.5 0.6-3 1.1-2 1.2-1.2 1.2-0.9 1.5-0.5 2-0.1 2.5 0.8 5.5 0.4 1.5 0.9 1 0 2z"/>
<path fill="#e1ff16" d="M117.1 514.5l23.2 0 0-2 0.9-1 0.3-1 0.7-6-0.2-3-0.8-2-1.3-1.5-2-1.3-2.5-1.1-2.5-0.5-2.5-0.3-3 0.2-2 0.5-2 1-2 1.6-1.5 1.8-2 3.1-1.1 2.5-0.5 2-0.1 3 0.1 1 0.8 1 0 2zM185 514.5l23.2 0 0-2 0.8-1 0.2-2-0.3-2.5-0.8-2.5-1.6-3-2-2.7-2-1.9-2-1.2-2.5-0.7-3.5-0.2-3 0.4-3 0.9-2 1.1-1.6 1.3-1.1 1.5-0.6 2-0.1 2.5 0.6 5 0.4 2 0.9 1 0 2z"/>
<path fill="#e7ff0f" d="M117.2 514.5l23 0 0-2 0.9-1 0.3-1 0.6-5.5-0.2-3-0.9-2.1-1.1-1.4-1.9-1.4-2-0.8-2.5-0.7-2.5-0.3-3 0.1-2 0.4-2 0.9-2 1.5-2 2.2-1.8 2.6-1.1 2.5-0.6 2.2-0.1 2.8 0.1 1 0.8 1 0 2zM185.1 514.5l23 0 0-2 0.8-1 0.1-1.5-0.1-2.5-0.8-2.5-1.6-3.1-2-2.6-2-1.9-2-1.2-2.5-0.7-3.5-0.2-3 0.4-3 0.9-2 1.1-1.5 1.3-1 1.5-0.5 1.9-0.2 2.6 0.5 5 0.4 1.5 0.9 1 0 2z"/>
<path fill="#eeff09" d="M117.3 514.5l22.8 0 0-2 0.9-1 0.3-1 0.4-5-0.2-3-0.5-1.5-0.5-1-1.4-1.5-1.7-1.1-2.5-1-2.5-0.6-2.5-0.1-2.5 0.2-2 0.5-2 1.1-2 1.6-1.5 1.7-1.8 2.7-1.1 2.5-0.5 2-0.1 2.5 0.1 1 0.8 1 0 2zM185.2 514.5l22.8 0 0-2 0.8-1 0.1-1.5-0.2-2.5-0.7-2.4-1.5-2.7-2-2.7-2-1.8-2-1.2-2.5-0.8-3-0.2-3 0.3-3 0.9-2 1-1.5 1.2-1 1.4-0.7 2-0.2 2.5 0.3 5 0.4 1.5 0.9 1 0 2z"/>
<path fill="#f4f802" d="M117.4 514.5l22.7 0 0-2 0.8-1 0.3-1 0.3-4.5-0.2-3-0.9-2.4-1.3-1.6-1.7-1.2-2-0.8-2.5-0.7-2.5-0.2-2.5 0.1-2 0.5-2 0.9-2 1.5-1.5 1.5-1.7 2.4-1.4 2.5-0.7 2.5-0.1 2.5 0.1 1 0.8 1 0 2zM185.2 514.5l22.7 0 0-2 0.8-1 0.1-1-0.1-2.5-0.7-2.4-1.5-2.8-2-2.6-2-1.9-2-1.2-2.5-0.8-3-0.2-3 0.3-2.5 0.7-2 1-1.5 1.1-1 1.3-0.9 2-0.3 2.5 0.2 4.5 0.4 2 0.8 1 0 2z"/>
<path fill="#fbf100" d="M117.5 514.5l22.5 0 0-2 0.5-0.5 0.5-1 0.3-4.5-0.2-3-0.9-2.5-1.2-1.5-1.6-1.2-2-0.9-2.5-0.7-2.5-0.2-2.5 0.1-2 0.5-2 0.9-2 1.5-2 2.1-1.5 2.2-1.1 2.2-0.5 2-0.2 2.5 0.1 1 0.8 1 0 2zM185.3 514.5l22.5 0 0-2 0.8-1 0.1-1-0.2-2.5-0.5-1.9-1.3-2.6-1.7-2.3-2-2-2.5-1.7-2.5-0.8-2.5-0.2-3 0.2-2.5 0.6-2 0.9-1.7 1.3-1.2 1.5-0.8 2-0.3 2.5 0.2 4.5 0.3 1.5 0.8 1 0 2z"/>
<path fill="#ffea00" d="M117.6 514.5l22.3 0 0-2 0.5-0.5 0.5-1 0.2-4-0.3-3.5-0.9-2.3-1-1.2-1.5-1.2-2-1-2.5-0.7-2.5-0.2-2.5 0.1-2 0.5-2 0.9-2 1.5-1.5 1.5-1.6 2.1-1.3 2.5-0.6 2-0.2 2.5 0.1 1 0.8 1 0 2zM185.4 514.5l22.3 0 0-2 0.5-0.5 0.4-1-0.1-2.5-0.5-2-1.2-2.5-1.8-2.5-2-1.9-2.5-1.6-2.5-0.9-2.5-0.2-3 0.2-2.5 0.7-2 0.9-1.5 1.2-1 1.2-0.9 1.9-0.4 2.5 0.1 4.5 0.3 1.5 0.8 1 0 2z"/>
<path fill="#ffe200" d="M117.7 514.5l22.1 0 0-2 0.5-0.5 0.5-1 0.2-3.5-0.4-3.5-0.9-2.5-1.3-1.5-1.5-1.1-2-0.9-2.5-0.6-2.5-0.2-2 0.2-2 0.5-2 0.9-2 1.5-2 2.1-1.5 2.2-0.9 1.9-0.5 2-0.2 2.5 0.4 1 0.5 0.5 0 2zM185.5 514.5l22.1 0 0-2 0.5-0.5 0.4-1-0.2-2.5-0.5-2-1.3-2.6-2-2.5-2-1.8-2-1.2-2.5-0.9-2.5-0.3-3 0.3-2.5 0.7-2 1-1.5 1.2-1 1.4-0.7 1.7-0.4 2.5 0 4 0.2 1.5 0.9 1 0 2z"/>
<path fill="#ffdb00" d="M117.8 514.5l21.9 0 0-2 0.9-1 0.2-3-0.3-4-0.9-2.5-1.2-1.5-1.5-1.1-2-1-2-0.5-2.5-0.3-2.5 0.2-2 0.5-2 0.9-2 1.5-1.5 1.5-1.5 2-1.2 2.3-0.6 2-0.2 2.5 0.4 1 0.5 0.5 0 2zM185.6 514.5l21.9 0 0-2 0.5-0.5 0.4-1-0.1-2-0.5-2-1.2-2.5-1.6-2.2-2-2-2.5-1.6-2.5-0.8-2.5-0.3-2.5 0.2-2.5 0.6-2 0.9-1.6 1.2-1.2 1.5-0.7 1.8-0.4 2.7-0.1 3.5 0.2 1.5 0.9 1 0 2z"/>
<path fill="#ffd300" d="M117.9 514.5l21.7 0 0-2 0.9-1 0.2-2.5-0.4-4-0.9-2.6-1-1.4-1.5-1.2-2-1-2.5-0.7-2.5-0.1-2 0.1-2 0.5-2 1-2 1.4-1.5 1.5-1.5 2-1 2-0.6 2-0.3 2.5 0.4 1 0.5 0.5 0 2zM185.7 514.5l21.6 0 0-2 0.6-0.5 0.4-1-0.2-2-0.5-2-1.1-2.3-1.6-2.2-1.9-1.8-2.5-1.6-2.5-0.9-2.5-0.2-2.5 0.1-2.5 0.7-2 0.9-1.5 1.2-1 1.3-0.8 1.8-0.5 2.5-0.1 3.5 0.2 1.5 0.9 1 0 2z"/>
<path fill="#ffcc00" d="M118.1 514.5l21.4 0 0-2 0.9-1 0.2-2-0.4-4-0.8-2.5-1-1.5-1.5-1.3-2-1-2-0.6-2.5-0.3-2 0.1-2 0.4-2 0.9-2 1.3-1.5 1.4-1.5 1.8-1.3 2.3-0.7 2.1-0.3 2.4 0.4 1 0.6 0.5 0 2zM185.8 514.5l21.4 0 0-2 0.6-0.5 0.4-1-0.2-1.9-0.4-1.6-1.1-2.4-1.5-2.1-2-1.9-2-1.4-2.5-1-2.5-0.4-2.5 0.1-2.5 0.6-2 0.9-1.5 1-1.3 1.6-0.7 1.5-0.6 2.5-0.2 3.5 0.2 1.5 0.9 1 0 2z"/>
<path fill="#ffc400" d="M118.2 514.5l21.2 0 0-2 0.9-1 0.1-2-0.4-4-1-2.5-1.1-1.5-1.2-1-1.8-0.9-2-0.6-2.5-0.3-2 0-2 0.5-2 0.8-2 1.3-1.5 1.4-1.5 1.8-1.2 2-0.6 2-0.4 2.5 0.4 1 0.6 0.5 0 2zM185.9 514.5l21.2 0 0-2 0.6-0.5 0.4-1-0.2-1.5-0.4-1.9-1-2.2-1.5-2.1-2-1.9-2-1.3-2-0.9-2.5-0.5-2.5 0-2.5 0.5-2 0.8-2 1.4-1 1.2-0.9 1.9-0.6 2.5-0.1 3.5 0.1 1 0.9 1 0 2z"/>
<path fill="#ffbd00" d="M118.3 514.5l21 0 0-2 0.9-1 0.1-2-0.4-3.5-0.9-2.5-1.1-1.5-1.5-1.3-1.5-0.8-2-0.6-2.5-0.3-2 0.1-2 0.4-2 0.9-2 1.3-1.5 1.3-1.5 1.8-1.2 2.2-0.6 2-0.2 2 0.3 1 0.6 0.5 0 2zM186 514.5l21 0 0-2 0.6-0.5 0.3-1-0.4-3-1-2.2-1.5-2.1-2-2-2-1.3-2-0.8-2.5-0.6-2.5 0-2.5 0.5-2 0.9-1.5 1-1.4 1.6-0.7 1.5-0.7 2.5-0.2 3.5 0.1 1 0.9 1 0 2z"/>
<path fill="#ffb600" d="M118.4 514.5l20.8 0 0-2 0.9-1 0.1-1.5-0.4-3.5-0.9-2.6-1-1.4-1.5-1.4-1.5-0.8-2-0.7-2.5-0.3-2 0.1-2 0.5-2 0.8-2 1.3-1.5 1.4-1.5 1.8-1 1.8-0.7 2-0.2 2 0.3 1 0.6 0.5 0 2zM186.1 514.5l20.8 0 0-2 0.6-0.5 0.3-1-0.3-2.5-1-2.3-1.5-2.2-2-1.9-2-1.4-2-0.8-2.5-0.5-2-0.1-2.5 0.4-2 0.8-2 1.3-1 1.2-1 1.9-0.7 2.6-0.2 3 0.1 1 0.9 1 0 2z"/>
<path fill="#ffae00" d="M118.5 514.5l20.6 0 0-2 0.9-1 0.1-1.5-0.4-3-0.8-2.5-0.9-1.5-1.1-1.1-1.5-1-2-0.8-2-0.4-2.5 0-2 0.3-2 0.8-2 1.1-1.5 1.3-1.5 1.6-1.3 2.2-0.7 2-0.3 2 0.3 1 0.6 0.5 0 2zM186.2 514.5l20.6 0 0-2 0.6-0.5 0.3-1-0.4-2.5-0.8-2-1.5-2.2-2-1.9-2-1.3-2-0.9-2.5-0.5-2.5 0-2 0.4-2 0.8-1.5 0.9-1.5 1.7-0.8 1.5-0.7 2.5-0.3 3 0.1 1 0.9 1 0 2z"/>
<path fill="#ffa700" d="M118.6 514.5l20.4 0 0-2 0.9-1 0.1-1-0.4-3-0.7-2.5-0.9-1.5-1.1-1.2-1.5-1-2-0.8-2-0.5-2.5 0-2 0.3-2 0.8-2 1.1-1.5 1.3-1.5 1.7-1.1 1.8-0.8 2-0.3 2 0.3 1 0.6 0.5 0 2zM186.3 514.5l20.4 0 0-2 0.9-1 0-1-0.3-1.5-0.8-2.1-1.2-1.9-1.8-1.9-2-1.4-2-1-2.5-0.6-2-0.1-2.5 0.3-2 0.7-1.7 1-1.3 1.3-1.1 1.7-0.7 2.5-0.4 3 0.1 1 0.9 1 0 2z"/>
<path fill="#ff9f00" d="M118.7 514.5l20.2 0 0-2 0.9-1 0.1-1-0.3-2.5-0.8-2.5-0.9-1.6-1-1.2-1.5-1.1-2-0.8-2-0.4-2.5-0.1-2 0.4-2 0.7-2 1.2-1.5 1.2-1.5 1.7-1.2 2-0.7 2-0.2 1.5 0.3 1 0.6 0.5 0 2zM186.4 514.5l20.2 0 0-2 0.9-1-0.2-2-0.8-2.2-1.1-1.8-1.9-2.1-2-1.4-2-1-2.5-0.6-2-0.1-2.5 0.3-2 0.7-1.5 0.9-1.5 1.5-1 1.8-0.8 2.5-0.3 2.5 0.1 1 0.9 1 0 2z"/>
<path fill="#ff9800" d="M118.8 514.5l20 0 0-2 0.9-1 0.1-1-0.4-2.5-0.8-2.5-0.9-1.5-1.3-1.3-1.5-1-2-0.7-2-0.4-2 0-2 0.4-2 0.7-2 1.2-1.5 1.2-1.5 1.7-1 1.7-0.6 1.5-0.4 2 0.3 1 0.6 0.5 0 2zM186.5 514.5l20 0 0-2 0.8-1-0.2-2-0.7-2-1.2-2-1.7-1.8-2-1.4-2-1-2.5-0.6-2-0.1-2.5 0.3-2 0.8-1.5 0.9-1.5 1.6-1 1.8-0.6 2-0.4 2.5 0.1 1 0.9 1 0 2z"/>
<path fill="#ff9100" d="M118.9 514.5l19.8 0 0-2 0.9-1 0.1-1-0.4-2.5-0.7-2-0.9-1.5-1.3-1.4-1.5-1-1.5-0.7-2-0.4-2-0.1-2 0.2-2 0.7-2 1-1.5 1.1-1.5 1.6-1.3 2-0.7 1.6-0.4 1.9 0.3 1 0.6 0.5 0 2zM186.6 514.5l19.8 0 0-2 0.8-1-0.1-1.5-0.6-2-1-1.8-1.5-1.7-2-1.6-2-1.1-2.5-0.8-2-0.1-2.5 0.2-2 0.7-2 1.2-1.4 1.5-0.9 1.5-0.7 2.2-0.4 2.3 0.1 1 0.9 1 0 2z"/>
<path fill="#ff8900" d="M119 514.5l19.6 0 0-2 0.5-0.5 0.4-1-0.2-2-0.7-2.5-0.8-1.5-1.3-1.5-1.6-1.1-1.5-0.7-2-0.4-2-0.1-2 0.2-2 0.6-2 1.1-1.5 1.1-1.5 1.6-1.2 1.7-0.8 2-0.3 1.5 0.4 1 0.5 0.5 0 2zM186.7 514.5l19.6 0 0-2 0.8-1-0.1-1.5-0.7-2-1.3-2.1-1.5-1.6-2-1.5-2-0.9-2-0.6-2-0.1-2.5 0.2-2 0.7-1.6 0.9-1.4 1.4-1.1 1.6-0.7 2-0.4 2.5 0 1 0.9 1 0 2z"/>
<path fill="#ff8200" d="M119.1 514.5l19.4 0 0-2 0.5-0.5 0.4-1-0.1-1.5-0.5-2-0.9-1.9-1-1.3-1.5-1.3-1.5-0.8-2-0.6-2-0.2-2 0.2-2 0.5-2 1-2 1.4-1.5 1.6-1 1.4-0.8 2-0.3 1.5 0.3 1 0.5 0.5 0 2zM186.8 514.5l19.4 0 0-2 0.8-1 0-1-0.6-2-1.2-2-1.3-1.5-1.9-1.6-2-1-2-0.7-2-0.2-2.5 0.1-2 0.6-2 1.1-1.3 1.2-1 1.5-0.8 2-0.5 2.5 0.1 1 0.8 1 0 2z"/>
<path fill="#ff7a00" d="M119.3 514.5l19 0 0-2 0.6-0.5 0.4-1-0.5-3-0.9-1.9-1-1.4-1-1-1.5-0.9-2-0.7-2-0.3-2 0-2 0.4-2 0.9-2 1.3-1.5 1.4-1.3 1.7-0.7 1.5-0.5 2 0 0.5 0.3 0.5 0.6 0.5 0 2zM187 514.5l19 0 0-2 0.9-1-0.1-1-0.6-2-1.2-2-1.5-1.6-1.5-1.2-2-1.1-2-0.6-2-0.3-2.5 0.2-2 0.6-2 1.1-1.4 1.4-0.9 1.5-0.8 2-0.4 2.5 0.4 1 0.6 0.5 0 2z"/>
<path fill="#ff7300" d="M119.4 514.5l18.8 0 0-2 0.6-0.5 0.4-1-0.4-2.5-0.9-2-1-1.5-1-0.9-1.5-1-2-0.8-2-0.3-2 0.1-2 0.4-2 0.8-2 1.3-1.5 1.4-1.1 1.5-0.9 1.9-0.4 1.6 0 0.5 0.3 0.5 0.6 0.5 0 2zM187.1 514.5l18.8 0 0-2 0.6-0.5 0.3-0.5-0.1-1-0.7-2-1-1.7-1.5-1.7-1.5-1.1-2-1.1-2-0.6-2.5-0.3-2 0.2-2 0.6-1.5 0.8-1.5 1.3-1.1 1.6-0.9 2.2-0.4 2.3 0.4 1 0.6 0.5 0 2z"/>
<path fill="#ff6c00" d="M119.5 514.5l18.6 0 0-2 0.6-0.5 0.4-1-0.3-2-0.8-2-1-1.5-1.1-1.1-1.5-1-2-0.8-2-0.3-2 0.1-2 0.4-2 0.8-1.5 0.9-1.5 1.3-1.5 1.9-0.9 1.8-0.4 1.5 0 0.5 0.3 0.5 0.6 0.5 0 2zM187.2 514.5l18.6 0 0-2 0.6-0.5 0.3-0.5-0.1-1-0.6-1.7-1.1-1.8-1.4-1.6-2-1.5-2-0.9-2-0.5-2-0.2-2 0.2-2 0.6-1.5 0.8-1.5 1.4-1 1.4-1 2.3-0.3 2 0.4 1 0.6 0.5 0 2z"/>
<path fill="#ff6400" d="M119.6 514.5l18.4 0 0-2 0.9-1-0.2-2-0.7-2-0.9-1.5-1.2-1.3-1.5-1-1.5-0.6-2-0.5-2 0-2 0.3-2 0.7-2 1.2-1.5 1.3-1.5 1.9-0.7 1.5-0.5 1.5 0 0.5 0.3 0.5 0.6 0.5 0 2zM187.3 514.5l18.4 0 0-2 0.6-0.5 0.3-0.5-0.1-1-0.8-2-1-1.5-1.2-1.3-2-1.5-2-0.9-2-0.6-2-0.1-2 0.2-2 0.6-1.5 0.8-1.5 1.4-1 1.5-0.8 1.9-0.4 2 0.4 1 0.6 0.5 0 2z"/>
<path fill="#ff5d00" d="M119.7 514.5l18.2 0 0-2 0.9-1-0.1-1.5-0.6-2-0.9-1.5-1.3-1.5-1.5-1-1.5-0.7-2-0.4-2 0-2 0.3-2 0.7-2 1.1-1.5 1.3-1.3 1.7-0.8 1.5-0.4 1.5 0 0.5 0.2 0.5 0.6 0.5 0 2zM187.4 514.5l18.2 0 0-2 0.6-0.5 0.2-0.5 0-0.5-0.4-1.5-1.1-2-1.4-1.6-2-1.4-2-1-2-0.5-2-0.2-2 0.2-2 0.7-1.5 0.9-1.5 1.4-1 1.5-0.8 2-0.3 1.5 0.4 1 0.6 0.5 0 2z"/>
<path fill="#ff5500" d="M119.9 514.5l17.9 0 0-2 0.9-1-0.1-1.5-0.7-1.9-1-1.7-1-1.1-1.5-1-1.5-0.7-2-0.4-2-0.1-2 0.3-2 0.7-2 1.2-1.5 1.3-1.1 1.4-0.9 1.5-0.4 1.5 0 0.5 0.3 0.5 0.6 0.5 0 2zM187.5 514.5l17.9 0 0-2 0.6-0.5 0.3-0.5 0-0.5-0.4-1.5-0.9-1.6-1.5-1.7-1.5-1.2-2-1-2-0.7-2-0.2-2 0.1-2 0.6-1.5 0.7-1.5 1.2-1.3 1.8-0.7 1.6-0.4 1.9 0.3 1 0.6 0.5 0 2z"/>
<path fill="#ff4e00" d="M120 514.5l17.6 0 0-2 1-1-0.1-1.5-0.6-1.5-1-1.7-1-1.2-1.5-1-1.5-0.7-2-0.5-2 0-2 0.3-2 0.7-1.5 0.8-1.5 1.2-1.5 1.7-0.8 1.4-0.5 1.5 0 0.5 0.3 0.5 0.6 0.5 0 2zM187.7 514.5l17.6 0 0-2 0.6-0.5 0.3-0.5 0-0.5-0.7-1.9-1-1.6-1.5-1.5-1.5-1-2-1-2-0.5-2-0.2-2 0.3-2 0.6-1.5 0.9-1.4 1.4-1 1.5-0.6 1.5-0.3 1.5 0 0.5 0.3 0.5 0.7 0.5 0 2z"/>
<path fill="#ff4700" d="M120.1 514.5l17.4 0 0-2 1-1-0.1-1.1-0.5-1.5-1-1.8-1-1.2-1.5-1.1-1.5-0.6-2-0.5-1.5-0.1-2 0.2-2 0.6-2 1-1.5 1.2-1.5 1.8-0.6 1.1-0.6 1.5 0 0.5 0.3 0.5 0.6 0.5 0 2zM187.8 514.5l17.4 0 0-2 0.6-0.5 0.3-0.5 0-0.5-0.6-1.6-1-1.6-1.5-1.5-1.5-1.1-1.5-0.7-2-0.7-2-0.2-2 0.1-2 0.6-1.5 0.8-1.5 1.3-1 1.3-0.9 1.8-0.3 1.5 0 0.5 0.3 0.5 0.7 0.5 0 2z"/>
<path fill="#ff3f00" d="M120.2 514.5l17.2 0 0-2 0.9-1 0-1-0.5-1.5-0.9-1.6-1-1.2-1.5-1.1-1.5-0.7-2-0.5-2 0-2 0.3-2 0.7-1.5 0.8-1.5 1.2-1.5 1.7-0.9 1.9-0.2 1 0.3 0.5 0.6 0.5 0 2zM187.9 514.5l17.2 0 0-2 0.6-0.5 0.3-0.5-0.1-0.5-0.5-1.5-1-1.5-1.4-1.5-1.5-1.1-1.5-0.7-2-0.6-2-0.2-2 0.1-2 0.6-1.5 0.8-1.5 1.3-1 1.3-0.7 1.5-0.4 1.5 0.1 0.5 0.3 0.5 0.6 0.5 0 2z"/>
<path fill="#ff3800" d="M120.4 514.5l16.9 0 0-2 0.6-0.5 0.3-0.5 0-1-0.8-2-1-1.4-1-1-1.5-1-1.5-0.6-2-0.4-1.5 0-2 0.3-2 0.7-2 1.2-1.5 1.3-1 1.3-0.8 1.6-0.1 1 0.2 0.5 0.7 0.5 0 2zM188 514.5l16.9 0 0-2 0.7-0.5 0.2-0.5 0-0.5-0.6-1.5-1-1.5-1.2-1.3-1.5-1-1.5-0.8-2-0.6-2-0.2-2 0.2-2 0.5-1.5 0.8-1.5 1.4-1 1.4-0.6 1.1-0.4 1.5 0.1 0.5 0.3 0.5 0.6 0.5 0 2z"/>
<path fill="#ff3000" d="M120.5 514.5l16.7 0 0-2 0.6-0.5 0.3-0.5-0.1-1-0.6-1.6-1-1.5-1-1-1.5-1-1.5-0.6-2-0.4-1.5 0-2 0.3-2 0.6-1.5 0.9-1.5 1.1-1.4 1.7-0.7 1.5-0.2 1 0.3 0.5 0.6 0.5 0 2zM188.1 514.5l16.7 0 0-2 0.6-0.5 0.3-0.5 0-0.5-0.6-1.5-1.1-1.5-1.5-1.4-1.5-1-1.5-0.6-2-0.5-2-0.2-1.5 0.2-2 0.6-1.5 0.8-1.5 1.4-1 1.4-0.8 2.3 0 0.5 0.3 0.5 0.6 0.5 0 2z"/>
<path fill="#ff2900" d="M120.6 514.5l16.4 0 0-2 0.7-0.5 0.3-0.5-0.1-1-0.5-1.3-1-1.5-1-1.1-1.5-1-1.5-0.6-2-0.4-1.5 0-2 0.3-2 0.7-1.5 0.8-1.5 1.2-1.2 1.4-0.8 1.5-0.2 1 0.3 0.5 0.6 0.5 0 2zM188.3 514.5l16.4 0 0-2 0.6-0.5 0.3-0.5-0.1-0.5-0.5-1.3-1-1.5-1.5-1.4-1.5-0.9-1.5-0.7-2-0.5-2-0.1-1.5 0.1-2 0.6-1.5 0.9-1.5 1.3-1 1.5-0.6 1.5-0.1 1 0.3 0.5 0.7 0.5 0 2z"/>
<path fill="#ff2200" d="M120.8 514.5l16.1 0 0-2 0.7-0.5 0.3-0.5-0.1-1-0.7-1.5-0.7-1-1-1.1-1.5-1-1.5-0.7-2-0.3-1.5-0.1-2 0.3-2 0.7-1.5 0.8-1.5 1.2-1.3 1.7-0.5 1-0.3 1 0.3 0.5 0.7 0.5 0 2zM188.4 514.5l16.1 0 0-2 0.7-0.5 0.3-0.5-0.1-0.5-0.4-1-1-1.5-1.5-1.5-1.5-0.9-1.5-0.7-2-0.5-2-0.1-1.5 0.2-2 0.6-1.5 0.8-1.2 1.1-1.1 1.5-0.7 1.5-0.1 1 0.3 0.5 0.7 0.5 0 2z"/>
<path fill="#ff1a00" d="M120.9 514.5l15.9 0 0-2 0.6-0.5 0.3-0.5 0-0.5-0.3-1.1-1-1.7-1-1-1.5-1.1-1.5-0.6-1.5-0.4-1.5-0.1-2 0.2-2 0.6-1.5 0.7-1.5 1.1-1.5 1.7-0.7 1.2-0.2 1 0.2 0.5 0.7 0.5 0 2zM188.5 514.5l15.9 0 0-2 0.7-0.5 0.2-0.5 0-0.5-0.7-1.5-1.1-1.3-1-0.9-1.5-1-1.5-0.6-2-0.5-2-0.2-1.5 0.2-2 0.6-1.5 0.9-1 0.8-1.1 1.5-0.7 1.5-0.1 1 0.3 0.5 0.6 0.5 0 2z"/>
<path fill="#ff1300" d="M121.1 514.5l15.5 0 0-2 0.7-0.5 0.3-0.5 0-0.5-0.3-1-0.9-1.5-1-1.1-1.5-1-1.5-0.7-2-0.4-1.5 0-2 0.3-2 0.6-1.5 0.9-1.5 1.2-1 1.2-0.6 1-0.2 1 0.3 0.5 0.7 0.5 0 2zM188.7 514.5l15.5 0 0-2 0.7-0.5 0.3-0.5-0.1-0.5-0.6-1.3-1-1.3-1-0.9-1.5-1-1.5-0.6-2-0.5-2-0.1-1.5 0.1-1.5 0.5-1.5 0.7-1.5 1.2-1 1.3-0.7 1.4-0.1 1 0.3 0.5 0.7 0.5 0 2z"/>
<path fill="#f60b00" d="M121.2 514.5l15.3 0 0-2 0.7-0.5 0.3-0.5 0-0.5-0.6-1.4-1-1.4-1-0.9-1.5-1-1.5-0.5-1.5-0.3-1.5 0-2 0.3-2 0.6-1.5 0.9-1.5 1.2-1 1.3-0.5 0.9-0.1 0.8 0.2 0.5 0.7 0.5 0 2zM188.8 514.5l15.3 0 0-2 0.7-0.5 0.3-0.5-0.1-0.5-0.5-1.1-1.1-1.4-1.4-1.2-1.5-0.8-3-0.9-2-0.1-1.5 0.2-1.5 0.4-1.5 0.7-1.5 1.3-1 1.3-0.5 1.1-0.2 1 0.3 0.5 0.7 0.5 0 2z"/>
<path fill="#ed0400" d="M121.4 514.5l14.9 0 0-2 0.7-0.5 0.3-0.5 0-0.5-0.4-1.1-1-1.5-1-0.9-1.5-0.9-1.5-0.6-1.5-0.2-2 0-1.5 0.2-2 0.7-1.5 0.8-1.5 1.3-1 1.2-0.5 1.5 0.3 0.5 0.7 0.5 0 2zM189 514.5l14.9 0 0-2 0.7-0.5 0.3-0.5-0.1-0.5-0.8-1.5-0.9-1-1.1-0.9-1.5-0.9-3-0.9-2-0.1-1.5 0.2-1.5 0.4-1.5 0.8-1.5 1.2-1 1.4-0.5 1.2-0.1 0.6 0.4 0.5 0.7 0.5 0 2z"/>
<path fill="#e40000" d="M121.5 514.5l14.7 0 0-2 0.7-0.5 0.3-0.5 0-0.5-0.4-1-0.9-1.3-1-1-1.5-0.9-1.5-0.5-1.5-0.3-1.5-0.1-2 0.3-2 0.7-1.5 0.8-1.5 1.3-0.8 1-0.6 1.5 0.3 0.5 0.7 0.5 0 2zM189.1 514.5l14.7 0 0-2 0.7-0.5 0.3-0.5-0.1-0.5-0.7-1.3-1-1.1-1.5-1.1-1.5-0.8-1.5-0.5-2-0.3-3 0.3-1.5 0.6-1.5 0.9-1 0.9-1 1.4-0.4 1.5 0.3 0.5 0.7 0.5 0 2z"/>
<path fill="#da0000" d="M121.7 514.5l14.3 0 0-2 0.8-0.5 0.3-0.5 0-0.5-0.5-1-0.7-1-1-1-1.5-1-1.5-0.5-1.5-0.3-2 0-1.5 0.2-1.5 0.5-1.5 0.7-1.5 1.1-1.1 1.3-0.6 1.5 0.2 0.5 0.8 0.5 0 2zM189.3 514.5l14.3 0 0-2 0.8-0.5 0.2-0.5 0-0.5-0.6-1-1-1.2-1-0.8-1.5-0.9-3-0.9-2 0-1.5 0.1-1.5 0.5-1.5 0.7-1.5 1.4-0.8 1.1-0.5 1.5 0.3 0.5 0.8 0.5 0 2z"/>
<path fill="#d10000" d="M121.8 514.5l14.1 0 0-2 0.7-0.5 0.3-0.5 0-0.5-0.5-1.1-1-1.2-1-0.9-1.5-0.8-1.5-0.4-1.5-0.2-3 0.2-1.5 0.5-1.5 0.7-1.5 1.1-1 1.2-0.6 1.4 0.3 0.5 0.7 0.5 0 2zM189.4 514.5l14.1 0 0-2 0.7-0.5 0.3-0.5-0.1-0.5-0.9-1.4-1-1-2.5-1.5-3-0.7-2 0-1.5 0.3-1.5 0.5-1.5 0.9-1 1-0.9 1.4-0.2 1 0.3 0.5 0.7 0.5 0 2z"/>
<path fill="#c80000" d="M122 514.5l13.7 0 0-2 0.8-0.5 0.3-0.5 0-0.5-0.5-1-0.9-1.1-1-0.8-1.5-0.9-1.5-0.4-1.5-0.2-3 0.2-1.5 0.5-1.5 0.7-1.5 1.2-1 1.1-0.4 1.2 0.2 0.5 0.8 0.5 0 2zM189.6 514.5l13.7 0 0-2 0.8-0.5 0.2-0.5-0.1-0.5-0.7-1.2-1-1-2.5-1.5-3-0.7-2 0-1.5 0.3-1.5 0.5-1.5 1-1 1-0.8 1.1-0.2 1 0.3 0.5 0.8 0.5 0 2z"/>
<path fill="#bf0000" d="M122.2 514.5l13.3 0 0-2 0.8-0.5 0.3-0.5 0-0.5-0.5-1-0.9-1-0.8-0.7-1.5-0.8-1.5-0.5-1.5-0.2-3 0.2-1.5 0.5-1.5 0.7-1.5 1.2-0.9 1.1-0.4 1 0.3 0.5 0.8 0.5 0 2zM189.8 514.5l13.3 0 0-2 0.8-0.5 0.3-0.5-0.1-0.5-0.6-1-1-1-1.5-1-1.5-0.7-3-0.5-3 0.3-2.5 1.1-1 0.9-1.1 1.4-0.2 1 0.3 0.5 0.8 0.5 0 2z"/>
<path fill="#b60000" d="M122.3 514.5l13.1 0 0-2 0.8-0.5 0.3-0.5-0.1-0.5-0.5-1-1-1.1-1-0.7-1.5-0.7-1.5-0.4-1.5-0.1-3 0.3-2.6 1.2-1.3 1-0.8 1-0.4 1 0.2 0.5 0.8 0.5 0 2zM189.9 514.5l13.1 0 0-2 0.8-0.5 0.2-0.5-0.1-0.5-0.6-1-1.3-1.2-2.5-1.3-3-0.5-3 0.3-2.5 1.2-1 0.8-0.9 1.2-0.3 1 0.3 0.5 0.8 0.5 0 2z"/>
<path fill="#ad0000" d="M122.5 514.5l12.7 0 0-2 0.8-0.5 0.3-0.5 0-0.5-0.6-1-0.8-0.8-1-0.8-1.5-0.7-1.5-0.4-1.5-0.1-3 0.3-1.5 0.6-1.5 0.9-1.2 1-0.7 1-0.1 0.5 0.3 0.5 0.8 0.5 0 2zM190.1 514.5l12.7 0 0-2 0.8-0.5 0.3-0.5-0.4-1-1-1.1-1-0.7-1.5-0.8-3-0.7-3 0.2-1.5 0.4-1.3 0.7-1.2 1-0.7 1-0.3 1 0.3 0.5 0.8 0.5 0 2z"/>
<path fill="#a40000" d="M122.7 514.5l12.3 0 0-2 0.9-0.5 0.3-0.5-0.1-0.5-1.2-1.6-1-0.8-1.5-0.7-1.5-0.4-1.5-0.1-3 0.3-1.5 0.6-1.5 0.9-1 0.8-0.7 1-0.1 0.5 0.3 0.5 0.8 0.5 0 2zM190.3 514.5l12.3 0 0-2 0.8-0.5 0.3-0.5-0.4-1-0.8-0.8-1-0.8-1.5-0.8-1.5-0.5-1.5-0.2-3 0.2-2.5 1-1.2 0.9-0.9 1-0.3 1 0.3 0.5 0.9 0.5 0 2z"/>
<path fill="#9b0000" d="M122.9 514.5l11.9 0 0-2 0.9-0.5 0.3-0.5-0.1-0.5-0.5-0.8-1-1-1-0.7-1.5-0.6-2.5-0.3-3 0.3-2.5 1.1-1.2 1-0.8 1-0.1 0.5 0.2 0.5 0.9 0.5 0 2zM190.5 514.5l11.9 0 0-2 0.9-0.5 0.3-0.5-0.2-0.5-0.9-1.1-1-0.8-1.5-0.8-1.5-0.5-1.5-0.2-3 0.2-2.5 1-1 0.7-1 1.3-0.2 0.7 0.3 0.5 0.9 0.5 0 2z"/>
<path fill="#920000" d="M123.1 514.5l11.5 0 0-2 0.9-0.5 0.4-0.5-0.1-0.5-1.4-1.6-1-0.7-1.5-0.6-2.5-0.3-3 0.3-2.5 1.1-1 0.8-0.8 1-0.2 0.5 0.3 0.5 0.9 0.5 0 2zM190.7 514.5l11.5 0 0-2 0.9-0.5 0.3-0.5-0.4-0.8-1-1.1-2.5-1.3-2.5-0.5-3 0.2-2.5 1-1.3 1-0.7 1-0.1 0.5 0.4 0.5 0.9 0.5 0 2z"/>
<path fill="#890000" d="M123.3 514.5l11.1 0 0-2 0.9-0.5 0.4-0.5-0.1-0.5-1.3-1.5-2.4-1.2-2.5-0.4-3 0.4-2.5 1.1-1 0.8-0.6 0.8-0.2 0.5 0.3 0.5 0.9 0.5 0 2zM190.9 514.5l11.1 0 0-2 0.9-0.5 0.3-0.5-0.2-0.6-1-1-1-0.7-1.5-0.7-2.5-0.5-3 0.2-2.5 1-1 0.8-0.8 1-0.1 0.5 0.4 0.5 0.9 0.5 0 2z"/>
<path fill="#800000" d="M123.5 514.5l10.7 0 0-2 1-0.5 0.3-0.5-0.1-0.5-0.5-0.7-1-0.8-2-1-2.5-0.4-3 0.4-2.5 1.1-1.4 1.4-0.2 0.5 0.3 0.5 0.9 0.5 0 2zM191.1 514.5l10.7 0 0-2 0.9-0.5 0.3-0.5-0.2-0.5-0.9-1-2.4-1.3-2.5-0.5-3 0.2-2.5 1-1 0.8-0.6 0.8-0.1 0.5 0.3 0.5 1 0.5 0 2z"/>
<path fill="none" stroke="#00b8ff" stroke-width="1" stroke-opacity="0.92" d="M145.4 514.5l0-2 0.5-0.5 6-4 8-6.8 1.5-0.8 1-0.3 1.6 0.3 1.5 0.9 7.9 6.7 5.9 4 0.6 0.5 0 2M212.9 514.5l0-2 0.6-0.7 6.5-5.5 11.7-8.8 4-3.5 4.5-4.5 1.8-2 2.2-3 4.3-7 2.5-5 2.2-5.5 1.4-4.5 0.9-4.5 0.5-5-0.1-5-0.5-5-1.1-5-1.2-3.7-1.6-3.3-2.4-4.1-3.1-4.2-5-5.8-10.9-11.5-11.5-12.5-3.1-4-5.5-8-8.1-11-13.8-17-7-7.5-6.7-6-3.9-3-3-2.1-3-1.5-2.1-0.5-2.5 0.9-2.5 1.4-2.6 1.8-4.5 3.5-6.6 6-7 7.5-13.3 16.5-8 10.9-5.6 8.1-3.1 4-11.5 12.5-11.3 11.9-4.5 5.3-3.1 4.1-2.5 4.1-1.5 3.2-1.3 4-1.1 5-0.5 5-0.1 5 0.5 5 0.9 4.5 1.4 4.5 2.2 5.5 2.5 5 4.3 7 2.2 3 1.8 2 4.5 4.5 4 3.5 11.8 8.9 6.5 5.5 0.5 0.6 0 2"/>
<path fill="none" stroke="#0ff8e7" stroke-width="1" stroke-opacity="0.92" d="M144.9 514.5l0-2 0.5-0.5 6.8-5.5 7.2-7.1 1.5-1 1.5-0.4 1.6 0.2 1.5 0.8 7.6 7.5 6.8 5.5 0.5 0.5 0 2M212.5 514.5l0-2 0.4-0.5 6.6-7 8.3-7.5 3.4-3.5 2.8-3.5 4.3-7 1.2-2.5 1.1-3 2-6.5 1.1-4.5 0.3-2.5 0-2-0.4-2.5-0.6-2.5-1-2.5-1.5-3.2-2.7-4.8-3.3-4.4-4-4.3-3.5-3.1-4-3-4-2.5-8.5-4.8-3.8-2.4-3.1-2.5-2.4-2.5-2.7-3.6-3-4.6-12.8-21.4-8.2-12.8-2.5-3.4-3-3.5-6-6.1-0.6-0.1-7 7.2-2.5 3-2.5 3.4-7.8 12.3-13.2 22.1-3 4.5-2.3 3-2.4 2.5-3.1 2.5-3.7 2.3-8.5 4.9-4 2.5-4 2.9-3.5 3.1-4.1 4.3-3.3 4.5-2.8 5-2.3 5.4-0.7 2.6-0.4 2.5 0 2 0.3 2.5 1.1 4.5 2 6.5 1.1 3 1.2 2.5 4.3 7 2.8 3.5 3.4 3.5 8.4 7.6 6.5 6.9 0.4 0.5 0 2"/>
<path fill="none" stroke="#46ffb1" stroke-width="1" stroke-opacity="0.92" d="M144.4 514.5l0-2 0.4-0.5 7.2-7 5.9-7 1.2-1 1.3-0.7 1-0.3 1.6-0.1 1.5 0.2 1 0.4 2 1.6 5.8 6.9 7.2 7 0.4 0.5 0 2M212 514.5l0-2 0.3-0.5 6.7-9.3 7.9-9.2 2-3 1.3-2.5 2-6 0.8-4.5 0-2.5-0.2-3-0.5-2.5-0.8-2.3-1.7-3.2-2.4-3-4.4-4.1-5-3.7-4-2.5-4-1.9-4-1.5-7-2.2-3-1.3-3.5-2.1-3-2.7-2.6-3.5-2.4-4.5-8.2-19.1-8.4-17-2.4-3.8-2.5-2.3-0.6 0-2.8 2.6-2.2 3.5-8.4 17-8.1 19.1-2.5 4.4-2.6 3.6-2.9 2.6-3.5 2.1-3 1.3-7 2.2-4 1.5-4 2-4.5 2.7-5 3.9-4 3.7-2.5 3.1-1.8 3.4-0.6 2-0.5 2.5-0.2 3 0 2.5 0.8 4.5 2 6 1.3 2.5 2 3 8 9.4 6.9 9.6 0 2"/>
<path fill="none" stroke="#7dff7a" stroke-width="1" stroke-opacity="0.92" d="M143.6 514.5l0-2 7.3-8.5 4.5-6.8 1.5-1.8 1.5-1.2 1.5-0.6 4.1-0.2 1.5 0.2 1 0.4 1.4 1 1.1 1 5.4 8 7.3 8.5 0 2M211.4 514.5l0-2 2.5-4.5 3.6-8 4.8-7.5 1.8-4.5 0.7-2.5 0.2-2.5-0.3-2.5-0.9-2.5-3-5-1.8-2.3-2.5-2.1-3-1.7-7.5-3.3-4.5-1.5-2-0.3-8-0.5-3-0.4-3-0.7-3.5-1.4-1.5-1-1.6-1.3-1.6-2-1.8-4-1-2.9-1.6-5.6-3.6-11.5-4.7-12-1.6-3.4-0.6-0.2-2.5 5.3-4.1 10.8-5.9 19.2-1.9 4.3-1.6 1.9-1.5 1.3-1.5 1-3.5 1.4-3 0.8-3 0.4-8 0.5-2 0.2-4.5 1.5-7.5 3.3-3.5 2.1-2.4 2.1-1.6 2.2-2.9 4.8-0.9 2.5-0.3 2.5 0.2 2.5 0.7 2.5 1.8 4.5 4.9 7.7 3.5 7.8 2.5 4.5 0 2"/>
<path fill="none" stroke="#b4ff43" stroke-width="1" stroke-opacity="0.92" d="M142.7 514.5l0-2 0.9-1 1.3-2.3 3.1-4.2 1.8-3 1.5-3 2.4-6 1.1-2 1.6-1.9 1-0.6 1.5-0.3 1.5 0.2 2 0.7 2.6-0.7 2-0.1 1.5 0.5 1.3 1.2 1.7 2.7 2.5 6.3 1.5 3 1.8 3 3.2 4.4 1.2 2.1 0.9 1 0 2M210.6 514.5l0-2 0.9-1.5 1.4-4.5 0.8-6 0.5-2.5 2.9-7 0.7-2.5 0.2-2-0.1-1.5-0.4-1.5-1-1.9-1.8-2.1-2.7-1.9-2.5-1.1-3.5-0.8-5-0.2-3.5 0.1-12.5 1.9-3.5 0.3-2-0.1-1.5-0.3-1.5-0.6-1.3-0.8-1.2-1.2-1-1.5-3.2-6.3-1.6-9-1.7-5.5-1.1-5-1.2-4-1.2-3.8-0.6-0.3-2.2 7.1-1.4 6-1.9 6-1 6.5-0.4 2-3.1 6.2-1 1.5-1.3 1.3-1.2 0.8-1.5 0.5-1.5 0.4-2 0.1-4-0.4-12-1.8-3.5-0.1-5 0.2-3.5 0.7-2.5 1.1-2.8 2-1.7 2-0.9 1.5-0.5 1.5-0.2 2 0.2 2 0.7 2.5 2.9 7 0.5 2.5 0.8 6 1.4 4.5 0.9 1.5 0 2"/>
<path fill="none" stroke="#d1ff26" stroke-width="1" stroke-opacity="0.92" d="M142.2 514.5l0-2 0.9-1 1.3-2.7 3.2-5.3 1.3-2.5 0.9-2.5 0.6-2.5 0.2-2.5-0.2-2.3-0.5-1.7-1-1.3-1.5-1.1-8-3-9-2.7-4-0.8-3-0.2-2 0.1-2 0.5-2 0.9-2 1.1-1.3 1-0.9 1-0.6 1-0.5 1.5-0.2 1.5 0.1 1.5 1.1 5 0.3 2.5-0.2 6 0.1 2.5 1 4.5 0.5 1 0.4 0.5 0 2M210.1 514.5l0-2 0.4-0.5 0.5-1 1-4.5 0.1-2.5-0.2-6 0.3-2.5 1.1-5 0.1-1.5-0.2-1.5-0.5-1.5-0.6-1-0.9-1-1.3-1-1.9-1.1-2-0.8-2-0.5-2-0.2-3 0.2-4 0.8-9 2.7-8 3-1.5 1-1 1.3-0.6 1.6-0.2 2.5 0.2 2.5 0.6 2.5 0.9 2.5 1.3 2.5 3 5 1.5 3 0.9 1 0 2M162.4 485.5l0 0.1 0.6-0.1 0.3-0.5 1.5-3 1.5-6 0.3-2.5-0.2-2-1-4.5-0.5-8-1.9-6.6-0.6-0.4-2 7-0.5 8-1 4.5-0.2 2 0.3 2.5 1.4 5.5 0.8 2 1.2 2"/>
<path fill="none" stroke="#ebff0c" stroke-width="1" stroke-opacity="0.92" d="M141.7 514.5l0-2 1.1-1.5 3.6-8 1.2-3.5 0.3-1.5 0-1.5-0.3-1.5-0.7-1.5-0.7-1-1.3-1-2-1.2-2.5-1-10-3.3-3-0.7-2-0.2-2.7 0.4-2.8 1.4-2 1.8-1.2 2.3-0.5 2-0.7 5.5-1.1 5-0.2 2 0.2 3.5 0.6 2.5 0.8 1 0 2M209.5 514.5l0-2 0.8-1 0.6-2.5 0.2-3.5-0.2-2-1.1-5-0.8-5.9-0.4-1.6-1.1-2.1-2-2-2.5-1.3-1.5-0.4-1.5-0.1-2 0.2-3 0.6-10 3.3-2.5 1.1-2 1.1-1.4 1.1-0.7 1-0.7 1.5-0.3 1.5 0 1.5 0.3 1.5 1.2 3.5 3.6 8 1.1 1.5 0 2M162.4 475.5l0.6-0.5 0.4-2.5-0.4-2.8-0.6-0.7-0.5 3.5 0.5 3"/>
<path fill="none" stroke="#ebff0c" stroke-width="1" stroke-opacity="0.92" d="M141.1 514.5l0-2 0.9-1 0.2-0.5 2.7-9 0.2-3-0.2-1.3-0.5-1.2-0.7-1-1.3-1.1-3.5-1.8-6.5-2-3-0.6-2-0.1-1.5 0.1-1.5 0.3-1.5 0.7-1 0.7-2 2.3-1.5 2.8-2.5 6.2-0.7 3-0.1 2 0.2 2.5 0.2 1 0.8 1 0 2M209 514.5l0-2 0.8-1 0.2-1 0.2-4-0.7-3.1-2.5-6.4-1.5-2.9-2-2.3-1-0.7-1.5-0.7-1.5-0.4-1.5-0.1-2 0.1-3 0.6-6.5 1.9-3.5 1.8-1.4 1.2-0.7 1-0.5 1-0.2 1.5 0.2 3 2.7 9 0.2 0.5 0.9 1 0 2"/>
</g>
<rect x="36.30" y="312.40" width="253.30" height="202.10" fill="none" stroke="#000" stroke-width="0.6"/>
<text x="36.50" y="524.10" text-anchor="middle" class="tk">−0.15</text>
<text x="78.72" y="524.10" text-anchor="middle" class="tk">−0.10</text>
<text x="120.93" y="524.10" text-anchor="middle" class="tk">−0.05</text>
<text x="161.85" y="524.10" text-anchor="middle" class="tk">0.00</text>
<text x="204.07" y="524.10" text-anchor="middle" class="tk">0.05</text>
<text x="246.28" y="524.10" text-anchor="middle" class="tk">0.10</text>
<text x="288.50" y="524.10" text-anchor="middle" class="tk">0.15</text>
<text x="33.30" y="517.30" text-anchor="end" class="tk">0.00</text>
<text x="33.30" y="475.20" text-anchor="end" class="tk">0.05</text>
<text x="33.30" y="433.09" text-anchor="end" class="tk">0.10</text>
<text x="33.30" y="390.99" text-anchor="end" class="tk">0.15</text>
<text x="33.30" y="348.88" text-anchor="end" class="tk">0.20</text>
<path d="M36.30 514.50v-2.0M36.30 312.40v2.0M78.52 514.50v-2.0M78.52 312.40v2.0M120.73 514.50v-2.0M120.73 312.40v2.0M162.95 514.50v-2.0M162.95 312.40v2.0M205.17 514.50v-2.0M205.17 312.40v2.0M247.38 514.50v-2.0M247.38 312.40v2.0M289.60 514.50v-2.0M289.60 312.40v2.0M36.30 514.50h2.0M289.60 514.50h-2.0M36.30 472.40h2.0M289.60 472.40h-2.0M36.30 430.29h2.0M289.60 430.29h-2.0M36.30 388.19h2.0M289.60 388.19h-2.0M36.30 346.08h2.0M289.60 346.08h-2.0" stroke="#000" stroke-width="0.5" fill="none"/>
<text x="163.35" y="538.30" text-anchor="middle" class="lb">Y (m)</text>
<text transform="translate(10.30 414.25) rotate(-90)" text-anchor="middle" class="lb">Z (m)</text>
<linearGradient id="g312" x1="0" y1="0" x2="0" y2="1"><stop offset="0.0000" stop-color="#800000"/><stop offset="0.0312" stop-color="#9f0000"/><stop offset="0.0625" stop-color="#c40000"/><stop offset="0.0938" stop-color="#e80000"/><stop offset="0.1250" stop-color="#ff1e00"/><stop offset="0.1562" stop-color="#ff3b00"/><stop offset="0.1875" stop-color="#ff5900"/><stop offset="0.2188" stop-color="#ff7700"/><stop offset="0.2500" stop-color="#ff9400"/><stop offset="0.2812" stop-color="#ffb200"/><stop offset="0.3125" stop-color="#ffd000"/><stop offset="0.3438" stop-color="#feed00"/><stop offset="0.3750" stop-color="#e4ff13"/><stop offset="0.4062" stop-color="#caff2c"/><stop offset="0.4375" stop-color="#b1ff46"/><stop offset="0.4688" stop-color="#97ff60"/><stop offset="0.5000" stop-color="#7dff7a"/><stop offset="0.5312" stop-color="#63ff94"/><stop offset="0.5625" stop-color="#49ffad"/><stop offset="0.5938" stop-color="#30ffc7"/><stop offset="0.6250" stop-color="#16ffe1"/><stop offset="0.6562" stop-color="#00e0fb"/><stop offset="0.6875" stop-color="#00c0ff"/><stop offset="0.7188" stop-color="#00a0ff"/><stop offset="0.7500" stop-color="#0080ff"/><stop offset="0.7812" stop-color="#0060ff"/><stop offset="0.8125" stop-color="#0040ff"/><stop offset="0.8438" stop-color="#0020ff"/><stop offset="0.8750" stop-color="#0000ff"/><stop offset="0.9062" stop-color="#0000ed"/><stop offset="0.9375" stop-color="#0000c8"/><stop offset="0.9688" stop-color="#0000a4"/><stop offset="1.0000" stop-color="#000080"/></linearGradient>
<rect x="305.40" y="299.40" width="11.15" height="228.00" fill="url(#g312)" stroke="#000" stroke-width="0.6"/>
<text x="319.35" y="302.20" class="tk">22.00</text>
<text x="319.35" y="330.70" class="tk">21.75</text>
<text x="319.35" y="359.20" class="tk">21.50</text>
<text x="319.35" y="387.70" class="tk">21.25</text>
<text x="319.35" y="416.20" class="tk">21.00</text>
<text x="319.35" y="444.70" class="tk">20.75</text>
<text x="319.35" y="473.20" class="tk">20.50</text>
<text x="319.35" y="501.70" class="tk">20.25</text>
<text x="319.35" y="530.20" class="tk">20.00</text>
<path d="M316.55 299.40h-2.0M316.55 327.90h-2.0M316.55 356.40h-2.0M316.55 384.90h-2.0M316.55 413.40h-2.0M316.55 441.90h-2.0M316.55 470.40h-2.0M316.55 498.90h-2.0M316.55 527.40h-2.0" stroke="#000" stroke-width="0.5" fill="none"/>
<text transform="translate(352.60 414.90) rotate(-90)" text-anchor="middle" class="lb">Log10(n)</text>
<text class="cp" y="559.8"><tspan x="83.0" textLength="15.2" lengthAdjust="spacingAndGlyphs">(b)</tspan><tspan x="103.8" textLength="23.2" lengthAdjust="spacingAndGlyphs">with</tspan><tspan x="132.6" textLength="60.9" lengthAdjust="spacingAndGlyphs">interaction,</tspan><tspan x="199.6" class="el">ℓ</tspan><tspan x="204.6" dy="1.9" class="sb" textLength="16.0" lengthAdjust="spacingAndGlyphs">mfp</tspan><tspan x="225.5" dy="-1.9" textLength="11.7" lengthAdjust="spacingAndGlyphs">≪</tspan><tspan x="242.3" textLength="13.4" lengthAdjust="spacingAndGlyphs">0.1</tspan><tspan x="261.4" textLength="13.8" lengthAdjust="spacingAndGlyphs">m.</tspan></text>
</svg></body></html>
